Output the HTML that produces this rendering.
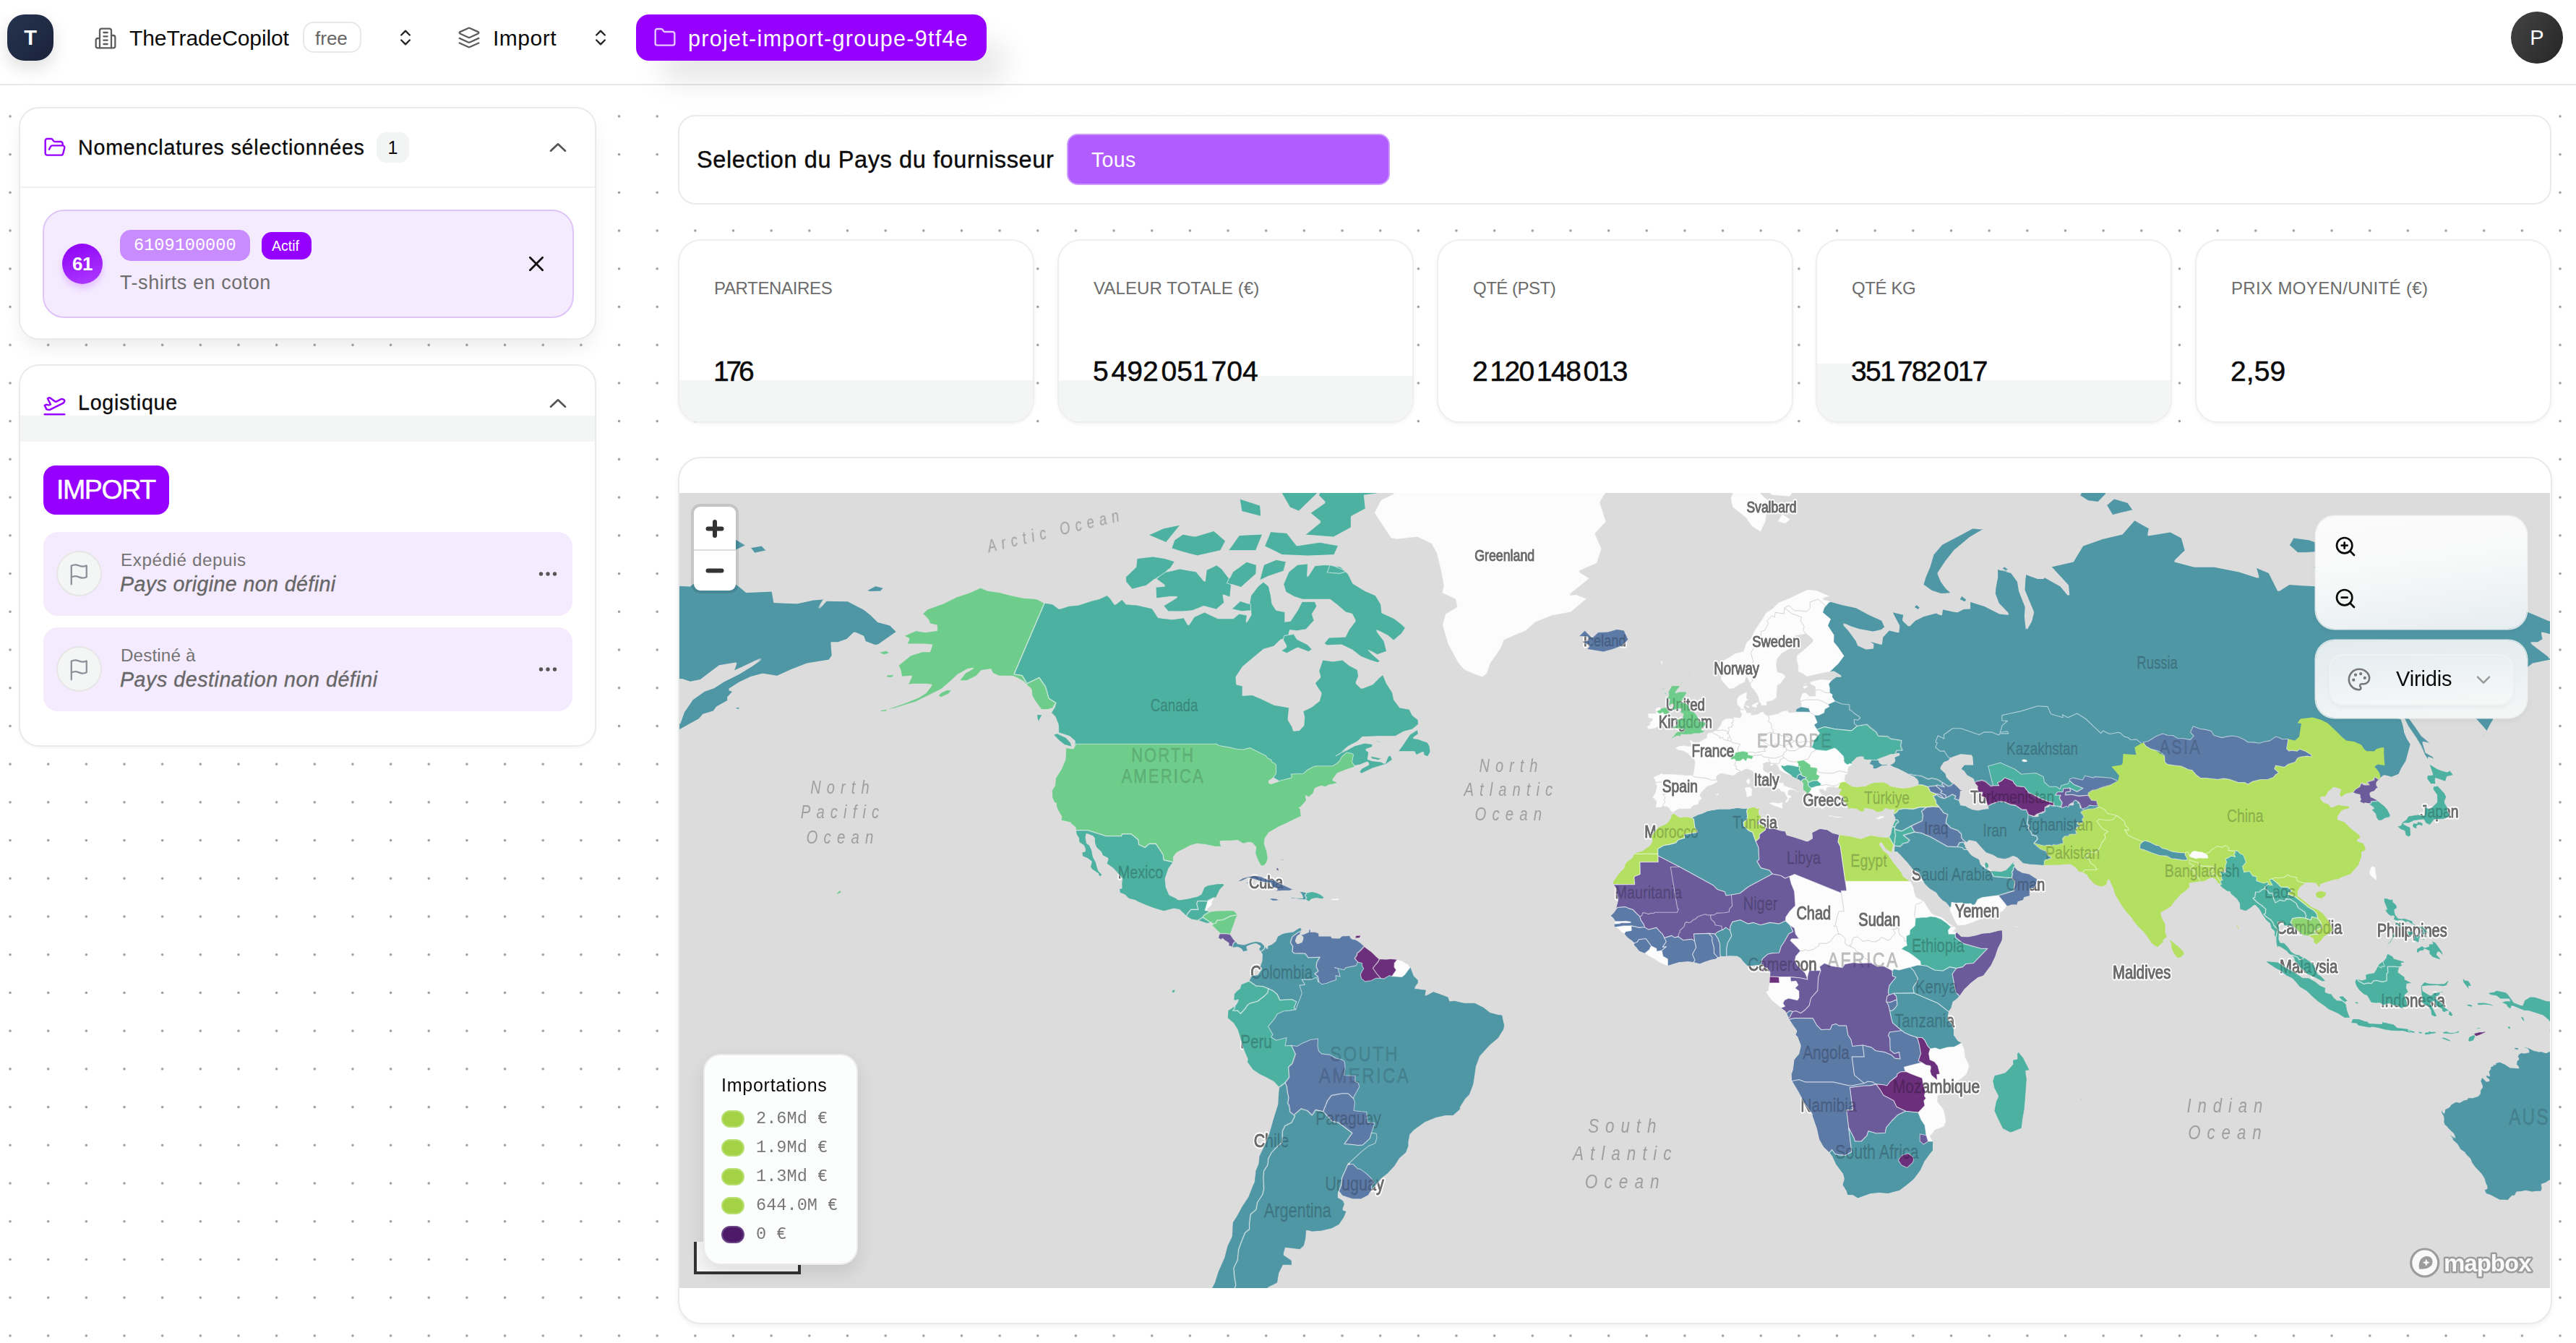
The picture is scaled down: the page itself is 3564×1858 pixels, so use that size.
<!DOCTYPE html>
<html lang="fr"><head><meta charset="utf-8"><title>TheTradeCopilot</title>
<style>
*{box-sizing:border-box;margin:0;padding:0}
html,body{width:3564px;height:1858px;overflow:hidden;background:#fff}
body{font-family:"Liberation Sans",sans-serif;color:#0a0a0a;position:relative;
 background-image:radial-gradient(circle,#999 0,#999 1.2px,rgba(153,153,153,0) 2.2px);
 background-size:52.66px 52.72px;background-position:-12.3px -23.6px}
.abs{position:absolute}
.t{position:absolute;white-space:nowrap;line-height:1}
#hdr{left:0;top:0;width:3564px;height:118px;background:#fff;border-bottom:2px solid #e6e9e9}
.card{position:absolute;background:#fff;border:2px solid #e9eaea;border-radius:28px}
.mono{font-family:"Liberation Mono",monospace}
svg{position:absolute;overflow:visible}
</style></head><body>
<!--HEADER-->
<div id="hdr" class="abs"></div>
<div class="abs" style="left:10px;top:20px;width:64px;height:64px;border-radius:24px;background:linear-gradient(135deg,#27344f,#19233a);box-shadow:0 10px 24px rgba(0,0,0,.13)"></div>
<div class="t" style="left:10px;width:64px;text-align:center;top:38px;font-size:29px;font-weight:700;color:#fff">T</div>
<svg style="left:130px;top:37px" width="32" height="32" viewBox="0 0 24 24" fill="none" stroke="#5c5c5c" stroke-width="1.7" stroke-linecap="round" stroke-linejoin="round"><path d="M6 22V4a2 2 0 0 1 2-2h8a2 2 0 0 1 2 2v18Z"/><path d="M6 12H4a2 2 0 0 0-2 2v6a2 2 0 0 0 2 2h2"/><path d="M18 9h2a2 2 0 0 1 2 2v9a2 2 0 0 1-2 2h-2"/><path d="M10 6h4"/><path d="M10 10h4"/><path d="M10 14h4"/><path d="M10 18h4"/></svg>
<div class="t" id="t_brand" style="left:179px;top:38px;font-size:30px;letter-spacing:-.1px">TheTradeCopilot</div>
<div class="abs" style="left:419px;top:30px;width:81px;height:43px;border:2px solid #e8e8e8;border-radius:15px"></div>
<div class="t" id="t_free" style="left:436px;top:40px;font-size:26px;color:#666">free</div>
<svg style="left:547px;top:38px" width="28" height="28" viewBox="0 0 24 24" fill="none" stroke="#222" stroke-width="2" stroke-linecap="round" stroke-linejoin="round"><path d="m7 15 5 5 5-5"/><path d="m7 9 5-5 5 5"/></svg>
<svg style="left:633px;top:36px" width="32" height="32" viewBox="0 0 24 24" fill="none" stroke="#5c5c5c" stroke-width="1.7" stroke-linecap="round" stroke-linejoin="round"><path d="m12.83 2.18a2 2 0 0 0-1.66 0L2.6 6.08a1 1 0 0 0 0 1.83l8.58 3.91a2 2 0 0 0 1.66 0l8.58-3.9a1 1 0 0 0 0-1.83Z"/><path d="m22 17.65-9.17 4.16a2 2 0 0 1-1.66 0L2 17.65"/><path d="m22 12.65-9.17 4.16a2 2 0 0 1-1.66 0L2 12.65"/></svg>
<div class="t" id="t_import" style="left:682px;top:38px;font-size:30px;letter-spacing:.5px">Import</div>
<svg style="left:817px;top:38px" width="28" height="28" viewBox="0 0 24 24" fill="none" stroke="#222" stroke-width="2" stroke-linecap="round" stroke-linejoin="round"><path d="m7 15 5 5 5-5"/><path d="m7 9 5-5 5 5"/></svg>
<div class="abs" style="left:880px;top:20px;width:485px;height:64px;border-radius:18px;background:#9600ff;box-shadow:30px 34px 40px -6px rgba(0,0,0,.10)"></div>
<svg style="left:904px;top:36px" width="32" height="32" viewBox="0 0 24 24" fill="none" stroke="#e6c8ff" stroke-width="1.8" stroke-linecap="round" stroke-linejoin="round"><path d="M20 20a2 2 0 0 0 2-2V8a2 2 0 0 0-2-2h-7.9a2 2 0 0 1-1.69-.9L9.6 3.9A2 2 0 0 0 7.93 3H4a2 2 0 0 0-2 2v13a2 2 0 0 0 2 2Z"/></svg>
<div class="t" id="t_proj" style="left:952px;top:38px;font-size:30.5px;letter-spacing:1.3px;color:#fff">projet-import-groupe-9tf4e</div>
<div class="abs" style="left:3474px;top:16px;width:72px;height:72px;border-radius:50%;background:linear-gradient(120deg,#444,#262626)"></div>
<div class="t" style="left:3474px;width:72px;text-align:center;top:38px;font-size:29px;color:#fff">P</div>
<!--LEFT-->
<div class="card" style="left:26px;top:148px;width:799px;height:322px;box-shadow:0 14px 30px -8px rgba(0,0,0,.10)"></div>
<svg style="left:60px;top:188px" width="32" height="32" viewBox="0 0 24 24" fill="none" stroke="#9600ff" stroke-width="1.8" stroke-linecap="round" stroke-linejoin="round"><path d="m6 14 1.5-2.9A2 2 0 0 1 9.24 10H20a2 2 0 0 1 1.94 2.5l-1.54 6a2 2 0 0 1-1.95 1.5H4a2 2 0 0 1-2-2V5a2 2 0 0 1 2-2h3.9a2 2 0 0 1 1.69.9l.81 1.2a2 2 0 0 0 1.67.9H18a2 2 0 0 1 2 2v2"/></svg>
<div class="t" id="t_nom" style="left:108px;top:190px;font-size:28.6px;letter-spacing:.8px;-webkit-text-stroke:.3px #0a0a0a">Nomenclatures sélectionnées</div>
<div class="abs" style="left:521px;top:183px;width:45px;height:42px;border-radius:14px;background:#f3f4f4"></div>
<div class="t" id="t_one" style="left:521px;width:45px;text-align:center;top:192px;font-size:25px">1</div>
<svg style="left:756px;top:188px" width="32" height="32" viewBox="0 0 24 24" fill="none" stroke="#555" stroke-width="2" stroke-linecap="round" stroke-linejoin="round"><path d="m4.5 15.5 7.5-7 7.5 7"/></svg>
<div class="abs" style="left:29px;top:258px;width:794px;height:2px;background:#efefef"></div>
<div class="abs" style="left:59px;top:290px;width:735px;height:150px;border-radius:30px;background:#f5ebff;border:2px solid #dfc4f8"></div>
<div class="abs" style="left:86px;top:337px;width:56px;height:56px;border-radius:50%;background:linear-gradient(160deg,#8d00f5,#ae3dff);box-shadow:0 6px 10px rgba(150,0,255,.18)"></div>
<div class="t" id="t_61" style="left:86px;width:56px;text-align:center;top:352px;font-size:26px;font-weight:700;color:#fff;letter-spacing:-.5px">61</div>
<div class="abs" style="left:166px;top:318px;width:180px;height:43px;border-radius:15px;background:#c98cff"></div>
<div class="t mono" id="t_code" style="left:185px;top:328px;font-size:23.6px;color:#fff">6109100000</div>
<div class="abs" style="left:362px;top:321px;width:69px;height:38px;border-radius:14px;background:#9600ff"></div>
<div class="t" id="t_actif" style="left:376px;top:331px;font-size:19.5px;color:#fff">Actif</div>
<div class="t" id="t_tshirt" style="left:166px;top:378px;font-size:27px;color:#6e6e6e;letter-spacing:.55px">T-shirts en coton</div>
<svg style="left:726px;top:349px" width="32" height="32" viewBox="0 0 24 24" fill="none" stroke="#111" stroke-width="2.1" stroke-linecap="round"><path d="M5.5 5.5l13 13M18.5 5.5l-13 13"/></svg>

<div class="card" style="left:26px;top:504px;width:799px;height:529px;overflow:hidden;box-shadow:0 2px 4px rgba(0,0,0,.04)"><div class="abs" style="left:0;top:69px;width:800px;height:36px;background:#f4f5f5"></div></div>
<svg style="left:59px;top:543px" width="33" height="33" viewBox="0 0 24 24" fill="none" stroke="#9600ff" stroke-width="1.8" stroke-linecap="round" stroke-linejoin="round"><path d="M2 22h20"/><path d="M6.36 17.4 4 17l-2-4 1.1-.55a2 2 0 0 1 1.8 0l.17.1a2 2 0 0 0 1.8 0L8 12 5 6l.9-.45a2 2 0 0 1 2.09.2l4.02 3a2 2 0 0 0 2.1.2l4.19-2.06a2.41 2.41 0 0 1 1.73-.17L21 7a1.4 1.4 0 0 1 .87 1.99l-.38.76c-.23.46-.6.84-1.07 1.08L7.58 17.2a2 2 0 0 1-1.22.18Z"/></svg>
<div class="t" id="t_log" style="left:108px;top:543px;font-size:28.6px;letter-spacing:.75px;-webkit-text-stroke:.3px #0a0a0a">Logistique</div>
<svg style="left:756px;top:542px" width="32" height="32" viewBox="0 0 24 24" fill="none" stroke="#555" stroke-width="2" stroke-linecap="round" stroke-linejoin="round"><path d="m4.5 15.5 7.5-7 7.5 7"/></svg>
<div class="abs" style="left:60px;top:644px;width:174px;height:68px;border-radius:17px;background:#9600ff"></div>
<div class="t" id="t_imp" style="left:78px;top:659px;font-size:37.5px;color:#fff;letter-spacing:-1.4px;-webkit-text-stroke:.5px #fff">IMPORT</div>
<div class="abs" style="left:60px;top:736px;width:732px;height:116px;border-radius:20px;background:#f5ebff"></div>
<div class="abs" style="left:78px;top:762px;width:63px;height:63px;border-radius:50%;background:#f4f5f5;border:2px solid #e6e6e6"></div>
<svg style="left:92px;top:776px" width="36" height="36" viewBox="0 0 24 24" fill="none" stroke="#8e8e99" stroke-width="1.5" stroke-linecap="round" stroke-linejoin="round"><path d="M4.5 21.5v-17s1.6-1 3.8-1 4.2 1.6 6.4 1.6 3.8-.8 3.8-.8v10.5s-1.6.9-3.8.9-4.2-1.6-6.4-1.6-3.8 1-3.8 1"/></svg>
<div class="t" id="t_exp" style="left:167px;top:763px;font-size:24.2px;color:#737373;letter-spacing:.6px">Expédié depuis</div>
<div class="t" id="t_orig" style="left:166px;top:794px;font-size:28.6px;font-style:italic;color:#676767;letter-spacing:.4px;-webkit-text-stroke:.35px #676767">Pays origine non défini</div>
<svg style="left:742px;top:778px" width="32" height="32" viewBox="0 0 32 32" fill="#555"><circle cx="6.5" cy="16" r="2.7"/><circle cx="16" cy="16" r="2.7"/><circle cx="25.5" cy="16" r="2.7"/></svg>
<div class="abs" style="left:60px;top:868px;width:732px;height:116px;border-radius:20px;background:#f5ebff"></div>
<div class="abs" style="left:78px;top:894px;width:63px;height:63px;border-radius:50%;background:#f4f5f5;border:2px solid #e6e6e6"></div>
<svg style="left:92px;top:908px" width="36" height="36" viewBox="0 0 24 24" fill="none" stroke="#8e8e99" stroke-width="1.5" stroke-linecap="round" stroke-linejoin="round"><path d="M4.5 21.5v-17s1.6-1 3.8-1 4.2 1.6 6.4 1.6 3.8-.8 3.8-.8v10.5s-1.6.9-3.8.9-4.2-1.6-6.4-1.6-3.8 1-3.8 1"/></svg>
<div class="t" id="t_dest" style="left:167px;top:895px;font-size:24.2px;color:#737373;letter-spacing:.15px">Destiné à</div>
<div class="t" id="t_destp" style="left:166px;top:926px;font-size:28.6px;font-style:italic;color:#676767;letter-spacing:.55px;-webkit-text-stroke:.35px #676767">Pays destination non défini</div>
<svg style="left:742px;top:910px" width="32" height="32" viewBox="0 0 32 32" fill="#555"><circle cx="6.5" cy="16" r="2.7"/><circle cx="16" cy="16" r="2.7"/><circle cx="25.5" cy="16" r="2.7"/></svg>

<!--RIGHT-->
<div class="card" style="left:938px;top:159px;width:2592px;height:124px;border-radius:24px"></div>
<div class="t" id="t_sel" style="left:964px;top:205px;font-size:32.5px;letter-spacing:.6px;-webkit-text-stroke:.4px #0a0a0a">Selection du Pays du fournisseur</div>
<div class="abs" style="left:1476px;top:185px;width:447px;height:71px;border-radius:15px;background:#b15cff;border:2px solid #cf9bff"></div>
<div class="t" id="t_tous" style="left:1510px;top:207px;font-size:28.6px;color:#fff;letter-spacing:.3px">Tous</div>
<div class="card" style="left:938px;top:331px;width:493px;height:254px;border-radius:32px;border-color:#efefef;overflow:hidden;box-shadow:0 2px 5px rgba(0,0,0,.05)"><div class="abs" style="left:0;top:193px;width:100%;height:70px;background:#f4f5f5"></div></div>
<div class="t" id="t_l0" style="left:988px;top:387px;font-size:24px;color:#6c6c6c;letter-spacing:-0.35px">PARTENAIRES</div>
<div class="t" id="t_v0" style="left:987px;top:494px;font-size:39px;letter-spacing:-4.2px;-webkit-text-stroke:.5px #0a0a0a">176</div>
<div class="card" style="left:1463px;top:331px;width:493px;height:254px;border-radius:32px;border-color:#efefef;overflow:hidden;box-shadow:0 2px 5px rgba(0,0,0,.05)"><div class="abs" style="left:0;top:193px;width:100%;height:70px;background:#f4f5f5"></div><div class="abs" style="left:68px;top:187px;width:430px;height:10px;background:#f4f5f5"></div></div>
<div class="t" id="t_l1" style="left:1513px;top:387px;font-size:24px;color:#6c6c6c;letter-spacing:0.1px">VALEUR TOTALE (€)</div>
<div class="t" id="t_v1" style="left:1512px;top:494px;font-size:39px;letter-spacing:0.0px;-webkit-text-stroke:.5px #0a0a0a">5<span style="font-size:14px;letter-spacing:0"> </span>492<span style="font-size:14px;letter-spacing:0"> </span>051<span style="font-size:14px;letter-spacing:0"> </span>704</div>
<div class="card" style="left:1988px;top:331px;width:493px;height:254px;border-radius:32px;border-color:#efefef;overflow:hidden;box-shadow:0 2px 5px rgba(0,0,0,.05)"></div>
<div class="t" id="t_l2" style="left:2038px;top:387px;font-size:24px;color:#6c6c6c;letter-spacing:-0.5px">QTÉ (PST)</div>
<div class="t" id="t_v2" style="left:2037px;top:494px;font-size:39px;letter-spacing:-1.45px;-webkit-text-stroke:.5px #0a0a0a">2<span style="font-size:14px;letter-spacing:0"> </span>120<span style="font-size:14px;letter-spacing:0"> </span>148<span style="font-size:14px;letter-spacing:0"> </span>013</div>
<div class="card" style="left:2512px;top:331px;width:493px;height:254px;border-radius:32px;border-color:#efefef;overflow:hidden;box-shadow:0 2px 5px rgba(0,0,0,.05)"><div class="abs" style="left:0;top:193px;width:100%;height:70px;background:#f4f5f5"></div><div class="abs" style="left:0;top:170px;width:52px;height:30px;background:#f4f5f5"></div></div>
<div class="t" id="t_l3" style="left:2562px;top:387px;font-size:24px;color:#6c6c6c;letter-spacing:-0.4px">QTÉ KG</div>
<div class="t" id="t_v3" style="left:2561px;top:494px;font-size:39px;letter-spacing:-1.7px;-webkit-text-stroke:.5px #0a0a0a">351<span style="font-size:14px;letter-spacing:0"> </span>782<span style="font-size:14px;letter-spacing:0"> </span>017</div>
<div class="card" style="left:3037px;top:331px;width:493px;height:254px;border-radius:32px;border-color:#efefef;overflow:hidden;box-shadow:0 2px 5px rgba(0,0,0,.05)"></div>
<div class="t" id="t_l4" style="left:3087px;top:387px;font-size:24px;color:#6c6c6c;letter-spacing:0.35px">PRIX MOYEN/UNITÉ (€)</div>
<div class="t" id="t_v4" style="left:3086px;top:494px;font-size:39px;letter-spacing:0.1px;-webkit-text-stroke:.5px #0a0a0a">2,59</div>

<!--MAP-->
<div class="card" style="left:938px;top:632px;width:2593px;height:1200px;border-radius:32px;box-shadow:0 3px 6px rgba(0,0,0,.06)"></div>
<div id="map" class="abs" style="left:940px;top:682px;width:2588px;height:1100px;background:#dcdcdc;overflow:hidden">
<svg width="2588" height="1100" viewBox="0 0 2588 1100" style="left:0;top:0;overflow:hidden"><defs><g id="r0"><path d="M960.5,27.7L983.8,63.0L992.6,64.6L1020.3,61.4L1040.0,70.8L1047.3,84.4L1053.2,108.6L1056.8,128.6L1054.2,138.8L1073.3,147.5L1075.3,157.1L1059.5,166.5L1054.9,182.4L1058.1,193.4L1062.6,209.3L1070.7,224.5L1077.3,236.4L1084.9,245.0L1100.9,252.1L1111.3,255.4L1117.7,250.7L1122.4,236.4L1129.8,226.5L1137.4,214.4L1141.5,204.0L1158.4,196.6L1171.7,191.2L1185.4,179.1L1208.3,170.0L1234.1,165.3L1256.8,146.2L1241.2,140.0L1231.7,141.3L1247.8,128.6L1260.5,118.1L1245.2,108.6L1270.1,97.5L1276.5,77.0L1267.7,56.6L1282.8,39.9L1274.2,13.0L1288.9,-10.6L1274.8,-38.8L1219.6,-75.6L1134.9,-62.7L1049.0,-50.5L998.7,-21.1L1001.9,-6.5L969.9,9.2L960.5,27.7Z"/></g><g id="r1"><path d="M505.2,151.7L517.1,153.5L525.8,160.1L538.4,155.9L551.6,154.7L569.8,148.7L580.3,146.2L591.9,140.7L596.5,145.0L602.6,154.1L612.5,146.2L618.7,153.5L634.1,154.7L654.7,159.5L663.1,172.3L681.6,174.5L698.4,172.3L704.2,182.4L711.6,171.1L726.5,164.2L746.2,173.4L765.4,173.4L773.8,166.5L785.9,168.8L784.4,179.1L790.7,167.7L788.2,153.5L790.3,141.3L800.0,128.6L808.0,122.1L815.7,128.6L818.7,141.3L820.2,152.3L826.1,161.8L838.3,164.2L838.1,177.9L844.8,176.8L854.8,161.8L860.8,149.9L879.8,149.9L882.6,157.1L875.8,167.7L878.9,176.8L867.8,189.0L854.3,191.2L844.9,190.1L842.8,198.7L831.8,204.0L823.2,212.4L809.0,216.5L792.2,230.5L779.5,241.2L770.3,255.4L771.2,264.6L779.5,266.5L779.4,279.9L793.1,279.1L805.4,284.3L823.7,293.0L844.1,296.5L842.4,313.3L848.0,322.4L850.0,328.9L857.1,328.1L863.6,320.8L864.3,310.8L862.2,301.6L874.4,295.6L885.1,287.0L887.7,277.3L881.5,268.3L878.6,262.8L886.4,254.5L884.2,246.0L889.5,230.5L904.3,232.5L917.9,230.5L927.6,238.3L938.5,244.1L940.1,253.6L936.4,262.8L943.9,270.1L958.3,264.6L968.1,254.5L973.5,250.3L978.8,262.8L986.9,275.5L988.8,285.2L997.3,296.5L1010.6,299.0L1014.4,306.7L1022.4,313.3L1022.8,320.8L1015.0,327.3L1002.7,330.5L991.3,336.9L970.4,336.9L945.8,337.7L939.1,344.0L925.9,351.1L913.5,361.1L908.1,363.8L919.2,357.3L933.2,349.5L948.0,345.6L959.6,347.2L958.8,351.9L949.9,355.0L954.3,358.1L952.7,368.0L959.4,370.3L971.9,371.8L975.8,374.1L980.3,363.4L984.6,362.7L987.1,369.5L978.4,375.6L959.7,381.2L943.5,389.0L939.7,386.0L943.4,380.8L953.5,375.6L951.9,372.5L942.7,376.3L934.7,377.8L912.6,385.3L875.4,392.6L837.2,403.6L805.5,385.3L773.5,370.3L741.2,358.8L635.4,358.8L545.2,356.5L546.5,347.2L547.0,344.0L539.1,336.9L524.2,332.1L524.0,321.6L519.9,310.8L513.5,304.1L518.6,296.5L520.9,290.4L511.1,284.3L506.6,268.3L497.7,255.4L480.9,263.7L474.1,252.6L462.9,250.7Z"/><path d="M543.4,351.9L531.9,348.7L524.9,343.3L516.3,334.5L522.1,332.1L535.3,337.7L541.8,344.8Z"/><path d="M500.5,323.2L494.8,313.3L494.3,305.8L502.9,306.7L498.2,315.0Z"/><path d="M993.1,358.1L1001.0,347.2L1009.9,333.7L1021.3,326.5L1023.1,333.7L1015.4,339.3L1022.3,340.1L1035.7,344.8L1038.5,350.3L1039.5,358.8L1035.9,365.3L1029.8,363.4L1028.9,358.8L1019.2,363.4L1016.3,358.1Z"/><path d="M956.2,363.4L972.7,366.9L967.9,370.3L956.9,368.0Z"/><path d="M959.4,340.1L978.0,346.4L965.6,344.8Z"/><path d="M966.6,235.4L954.1,231.5L941.8,226.5L930.3,217.5L915.3,210.3L895.4,211.3L890.9,208.2L897.9,199.8L920.8,198.7L926.2,187.9L934.8,176.8L930.2,167.7L921.0,165.3L910.2,155.9L899.3,147.5L880.3,147.5L861.3,147.5L849.6,143.8L838.5,137.5L835.1,126.0L842.6,108.6L854.3,98.9L870.0,97.5L868.9,115.4L878.6,100.3L894.3,98.9L915.3,101.7L925.7,111.4L932.3,124.7L949.1,135.0L963.7,141.3L971.0,153.5L972.1,165.3L990.0,173.4L1001.4,182.4L1005.3,186.8L999.4,195.5L988.1,205.1L979.5,197.7L964.6,190.1L975.2,204.0L979.2,219.5L965.2,224.5L953.3,217.5L970.5,232.5Z"/><path d="M836.6,197.7L850.3,194.4L855.1,201.9L869.7,209.3L876.6,216.5L870.5,220.5L855.5,214.4L840.4,222.5L831.5,218.5L839.6,212.4L835.0,204.0Z"/><path d="M659.3,146.2L679.1,143.8L688.6,143.8L668.7,155.9L675.5,164.2L697.8,164.2L710.9,163.0L725.5,157.1L743.2,161.8L754.3,152.3L752.4,141.3L762.1,145.0L764.3,122.1L750.9,104.5L743.4,98.9L728.9,105.9L726.9,122.1L715.6,108.6L692.2,104.5L668.7,110.0L659.2,119.4L671.6,128.6L658.7,129.9L659.3,146.2Z"/><path d="M617.2,123.4L625.9,133.7L646.6,128.6L663.7,115.4L679.9,104.5L686.3,94.6L672.5,90.3L655.1,87.4L632.6,90.3L631.5,101.7L617.1,115.4Z"/><path d="M757.3,124.7L777.4,131.2L798.1,112.7L798.8,98.9L784.6,94.6L765.2,108.6Z"/><path d="M801.8,122.1L816.0,115.4L836.4,108.6L840.0,94.6L825.3,91.8L808.1,98.9Z"/><path d="M680.1,77.0L693.8,81.5L716.3,87.4L749.2,80.0L756.5,66.2L739.9,51.7L713.2,59.8L696.2,56.6L684.4,64.6Z"/><path d="M758.3,80.0L798.0,80.0L807.5,56.6L773.9,58.2Z"/><path d="M808.8,73.9L833.0,85.9L869.3,87.4L906.4,85.9L912.4,72.4L886.1,67.7L854.7,72.4L841.0,55.0L817.4,53.3Z"/><path d="M864.2,58.2L905.7,61.4L929.5,48.4L929.8,33.0L949.7,22.3L947.7,3.4L977.6,-0.5L1004.8,-23.2L1024.5,-38.8L1044.9,-60.2L997.7,-78.3L942.1,-78.3L892.7,-57.7L873.8,-27.6L894.2,-16.8L883.5,3.4L892.9,13.0L871.7,27.7L886.6,39.9Z"/><path d="M836.5,-16.8L858.4,-34.2L888.9,-18.9L884.5,-0.5L857.4,25.9L844.1,20.4L832.1,-0.5Z"/><path d="M774.4,7.3L803.9,16.7L805.2,33.0L777.6,25.9Z"/><path d="M647.5,58.2L673.7,69.3L694.8,43.3L669.1,48.4Z"/><path d="M762.7,160.7L775.6,148.7L790.1,153.5L790.7,163.0L777.6,164.2Z"/><path d="M900.5,98.9L923.1,108.6L913.2,111.4L896.2,110.0Z"/></g><g id="r2"><path d="M505.2,151.7L494.9,146.2L476.5,145.0L459.2,141.3L442.3,136.9L427.5,135.0L416.4,130.5L401.1,137.5L382.3,143.8L365.4,152.3L342.1,160.7L335.6,167.1L344.0,175.7L346.3,181.3L356.1,183.5L356.1,190.1L340.1,192.3L326.9,190.1L309.4,197.7L317.6,201.9L313.9,209.3L336.7,209.3L349.3,210.3L346.0,219.5L334.9,219.5L319.2,224.5L302.2,238.3L305.4,245.0L307.3,254.5L321.2,253.6L315.2,265.6L325.7,264.6L339.2,264.6L348.8,265.6L340.2,276.4L330.4,282.6L313.4,289.6L296.7,295.6L278.0,301.6L298.9,298.2L315.1,293.0L327.0,289.6L344.9,280.8L362.7,271.9L373.7,262.8L385.6,251.7L399.1,244.1L406.7,242.2L394.9,248.8L386.4,260.1L398.5,260.1L411.5,253.6L418.2,246.0L430.4,244.1L433.2,249.8L441.6,253.6L455.0,253.6L461.5,254.0L467.2,256.4L475.3,261.0L482.4,268.3L485.0,270.1L486.9,273.7L487.4,280.8L491.3,287.8L495.7,293.9L500.1,299.9L510.4,299.9L516.5,298.2L520.9,290.4L511.1,284.3L506.6,268.3L497.7,255.4L480.9,263.7L474.1,252.6L462.9,250.7Z"/><path d="M2788.3,151.7L2771.2,146.2L2751.3,145.0L2729.4,141.3L2707.1,136.9L2689.9,135.0L2673.4,130.5L2666.7,137.5L2655.6,143.8L2649.2,152.3L2636.2,160.7L2637.7,167.1L2656.7,175.7L2666.0,181.3L2678.6,183.5L2686.7,190.1L2673.4,192.3L2657.5,190.1L2649.4,197.7L2662.8,201.9L2668.1,209.3L2691.0,209.3L2704.9,210.3L2713.0,219.5L2701.8,219.5L2692.3,224.5L2692.4,238.3L2703.9,245.0L2717.5,254.5L2730.2,253.6L2739.1,265.6L2748.5,264.6L2761.9,264.6L2772.7,265.6L2777.5,276.4L2775.4,282.6L2767.0,289.6L2757.8,295.6L2746.4,301.6L2763.1,298.2L2773.0,293.0L2780.6,289.6L2787.6,280.8L2794.4,271.9L2794.2,262.8L2792.3,251.7L2796.5,244.1L2801.7,242.2L2798.2,248.8L2803.5,260.1L2815.6,260.1L2820.5,253.6L2818.0,246.0L2827.8,244.1L2837.6,249.8L2850.7,253.6L2864.0,253.6L2871.1,254.0L2879.7,256.4L2893.5,261.0L2909.6,268.3L2914.5,270.1L2920.8,273.7L2930.1,280.8L2942.8,287.8L2954.6,293.9L2966.5,299.9L2976.8,299.9L2980.8,298.2L2975.6,290.4L2958.2,284.3L2933.9,268.3L2909.1,255.4L2902.5,263.7L2882.0,252.6L2868.5,250.7Z"/><path d="M360.5,276.4L369.4,271.9L377.8,272.8L373.2,278.2L361.9,283.5L357.1,280.8Z"/><path d="M278.8,299.9L289.5,299.0L286.4,302.4L276.4,303.3Z"/><path d="M253.8,312.5L264.6,307.5L264.0,310.0L254.7,313.3Z"/><path d="M242.4,315.8L252.6,310.8L249.9,313.3Z"/><path d="M200.2,322.4L210.5,319.9L208.5,322.4Z"/><path d="M181.1,325.7L187.7,323.6L185.7,326.1Z"/><path d="M273.8,220.5L286.6,217.5L292.4,221.5L282.9,224.5Z"/><path d="M286.0,251.7L297.8,250.7L295.4,255.4L286.7,255.4Z"/><path d="M534.3,351.9L544.2,353.4L549.3,347.2L545.8,347.2L743.2,347.2L746.5,349.5L760.6,351.9L770.6,354.2L780.2,355.0L789.2,352.6L811.3,363.4L813.4,366.5L819.1,369.5L819.3,371.8L825.5,375.6L825.5,388.2L822.4,392.6L821.0,395.6L816.0,398.5L815.7,400.0L818.1,402.1L829.0,398.5L846.5,394.1L847.5,392.6L846.5,390.4L846.1,389.0L863.5,388.2L867.9,383.8L876.0,379.3L880.6,377.8L903.3,377.8L908.9,374.8L913.1,371.0L916.4,365.0L923.1,359.2L929.3,360.0L932.5,361.9L930.6,372.5L932.9,375.6L935.1,379.3L923.8,383.0L910.7,388.2L905.9,394.8L904.0,397.0L910.0,399.6L909.9,402.1L904.2,403.6L899.1,404.3L894.2,407.2L888.0,405.8L881.8,407.9L879.2,410.1L877.2,416.5L870.3,421.9L866.6,418.7L868.1,425.8L860.4,434.9L857.3,435.6L859.4,436.3L860.7,447.8L852.6,451.6L841.1,457.2L830.4,462.0L823.6,466.1L816.0,470.2L810.3,479.0L809.7,485.1L812.9,494.5L814.7,505.2L812.9,511.9L809.7,515.9L804.3,516.6L800.4,509.9L798.5,505.2L796.2,498.5L797.3,490.5L791.9,484.4L787.6,483.7L779.6,485.8L771.8,481.0L760.4,481.7L751.4,481.7L748.3,482.4L749.8,488.5L750.0,490.5L747.9,489.8L741.9,489.8L734.8,488.5L726.9,486.8L716.0,485.8L708.7,487.8L698.2,493.2L688.7,497.9L684.0,503.9L683.9,510.9L670.0,507.9L669.1,500.5L663.9,492.5L659.1,485.4L650.2,485.4L644.2,490.5L635.6,486.4L634.7,479.7L625.1,471.9L612.6,471.7L611.6,474.7L590.2,474.7L565.1,466.7L547.9,466.5L547.7,463.3L541.4,458.2L541.2,456.5L536.4,455.4L527.6,453.4L528.3,448.2L522.6,438.4L520.5,432.1L521.3,430.0L518.2,428.6L515.4,422.2L514.8,411.2L519.4,403.6L520.0,394.1L527.9,381.5L533.3,368.8L533.9,364.2Z"/></g><g id="r3"><path d="M547.9,466.5L565.1,466.7L590.2,474.7L611.6,474.7L612.6,471.7L625.1,471.9L634.7,479.7L635.6,486.4L644.2,490.5L650.2,485.4L659.1,485.4L663.9,492.5L669.1,500.5L670.0,507.9L683.9,510.9L677.1,520.6L672.6,533.8L673.5,544.4L677.7,554.4L679.5,556.3L687.1,559.7L690.9,562.6L702.2,561.0L710.5,559.0L716.2,557.7L721.7,554.4L725.6,545.1L730.1,542.5L742.2,540.5L753.0,540.1L754.6,543.1L748.5,549.1L745.5,555.0L742.4,561.6L740.4,560.3L738.8,560.3L731.3,563.9L731.1,564.8L716.8,564.8L715.8,568.6L718.1,576.4L707.9,576.4L702.9,582.1L701.4,586.6L691.0,576.8L684.4,575.5L670.1,579.2L655.7,574.9L645.8,571.2L633.4,565.9L630.1,563.9L620.7,561.6L615.7,556.3L609.1,553.7L607.9,547.7L611.8,546.1L611.4,541.1L612.1,533.8L608.2,529.2L599.7,519.9L590.4,513.2L592.7,505.9L584.9,501.9L583.3,497.5L576.4,491.1L574.1,484.4L573.9,478.3L571.3,474.9L564.0,472.2L563.5,471.5L562.4,477.0L563.9,483.7L568.0,487.1L571.0,493.8L572.6,502.6L576.8,510.6L578.8,518.6L580.6,522.6L585.2,527.2L584.7,529.9L580.4,531.4L579.1,527.2L570.3,521.2L567.8,517.2L570.0,510.6L564.0,505.9L557.3,503.2L556.6,498.5L553.0,498.2L560.8,495.2L561.2,493.8L559.3,488.5L552.6,483.7L552.2,478.3L548.9,472.9Z"/><path d="M701.4,586.6L702.9,582.1L707.9,576.4L718.1,576.4L715.8,568.6L716.8,564.8L731.1,564.8L727.5,577.5L729.9,577.5L734.7,578.7L725.9,584.1L723.9,587.3L721.6,588.8L716.9,591.8L707.8,590.4Z"/></g><g id="r4"><path d="M738.8,560.3L739.7,563.0L737.2,566.9L737.0,570.9L729.9,577.5L727.5,577.5L731.1,564.8L736.0,562.3Z"/></g><g id="r5"><path d="M734.7,578.7L740.7,577.8L752.5,577.5L760.4,577.0L768.1,577.8L773.4,583.5L762.4,585.5L751.7,590.8L743.7,591.4L742.5,594.7L737.7,596.7L735.2,594.1L734.4,594.1L729.7,590.8L723.9,587.3L725.9,584.1Z"/></g><g id="r6"><path d="M716.9,591.8L721.6,588.8L723.9,587.3L729.7,590.8L734.4,594.1L733.6,595.7L728.5,595.7L722.7,593.8Z"/></g><g id="r7"><path d="M773.4,583.5L769.9,590.1L767.5,597.4L765.3,603.4L762.9,610.5L755.1,609.7L747.2,609.6L742.1,604.7L737.1,599.4L734.4,597.4L737.7,596.7L742.5,594.7L743.7,591.4L751.7,590.8L762.4,585.5Z"/></g><g id="r8"><path d="M747.2,609.6L755.1,609.7L762.9,610.5L767.0,616.7L769.8,619.6L766.3,623.4L764.8,629.8L762.2,627.5L759.0,627.1L759.9,623.4L753.7,619.4L751.1,616.7L749.7,619.4L744.9,616.1L746.2,610.7Z"/></g><g id="r9"><path d="M769.8,619.6L773.4,623.4L781.2,624.4L789.8,621.4L798.1,619.7L805.7,621.4L810.0,625.7L809.3,630.8L803.5,635.4L800.7,630.2L803.6,627.5L797.2,623.8L791.3,625.4L785.1,628.1L787.2,633.5L779.5,635.5L777.2,631.5L772.2,628.8L764.8,629.8L766.3,623.4Z"/></g><g id="r10"><path d="M770.0,538.1L778.5,532.5L786.6,530.5L791.5,529.5L800.6,529.5L805.8,530.5L814.1,534.5L823.9,535.2L829.2,539.1L837.7,542.5L844.7,545.8L850.7,548.7L844.5,550.7L836.0,550.7L822.8,551.4L827.4,547.7L820.1,545.8L817.5,539.8L807.8,538.8L800.5,536.8L793.4,534.5L787.6,532.8L781.6,535.8L777.4,537.5Z"/><path d="M784.2,537.8L787.8,538.8L786.6,540.8L783.6,540.5Z"/><path d="M815.7,561.3L819.4,560.3L827.0,561.0L831.9,563.6L826.2,564.6L820.0,564.6L815.5,562.3Z"/></g><g id="r11"><path d="M845.9,561.3L853.9,562.0L858.4,562.6L866.4,563.4L867.5,559.7L865.7,557.0L868.5,552.4L860.6,551.1L856.0,551.4L859.9,555.0L862.4,560.0L853.5,560.0L846.3,559.3Z"/></g><g id="r12"><path d="M868.5,552.4L875.3,551.1L882.7,552.7L887.7,555.0L893.4,559.7L890.3,562.3L881.2,561.0L875.5,562.3L870.9,566.3L866.4,563.4L867.5,559.7L865.7,557.0Z"/></g><g id="r13"><path d="M901.7,561.3L911.5,560.3L914.4,561.6L911.7,563.9L901.6,563.9Z"/></g><g id="r14"><path d="M935.2,612.1L943.3,611.4L941.8,616.1L934.6,616.4Z"/></g><g id="r15"><path d="M826.3,516.6L829.5,519.2L829.3,523.9L825.2,521.9Z"/><path d="M831.6,505.9L837.3,507.2L835.4,509.2L829.8,506.9Z"/></g><g id="r16"><path d="M1011.7,654.5L1016.7,667.6L1022.5,673.1L1022.7,678.6L1017.9,684.9L1034.0,687.0L1032.4,694.7L1042.8,689.1L1053.1,692.6L1064.2,696.8L1066.1,702.5L1072.7,701.8L1086.5,705.0L1101.3,705.0L1113.2,711.0L1122.6,718.2L1133.2,721.1L1139.0,721.8L1140.9,731.3L1142.2,736.0L1140.9,743.0L1133.5,755.0L1121.8,764.8L1108.0,780.1L1102.7,794.2L1100.8,807.8L1099.0,819.2L1093.6,833.2L1087.9,839.1L1080.9,850.2L1080.6,853.6L1071.1,861.9L1060.6,861.9L1047.1,864.9L1032.4,871.1L1017.2,881.9L1011.2,888.3L1009.2,898.4L1009.4,904.0L1005.7,913.5L996.8,921.2L990.1,932.0L980.8,941.9L971.8,949.0L958.0,965.0L945.1,952.1L929.0,936.9L923.4,912.5L940.1,889.2L939.4,862.3L916.8,836.6L903.3,811.8L882.7,780.1L850.1,772.4L826.2,764.8L809.5,742.3L819.4,713.2L848.9,688.4L857.3,673.8L881.3,666.9L893.9,664.1L920.4,650.5L945.6,643.7L968.3,653.9L988.0,657.3L1003.5,655.9Z"/></g><g id="r17"><path d="M1011.2,655.9L1008.9,651.1L1006.6,650.8L1001.4,647.1L993.6,645.0L989.3,650.5L989.0,655.9L991.7,660.0L985.7,668.7L992.2,669.0L999.4,669.6L1003.0,666.9Z"/></g><g id="r18"><path d="M993.6,645.0L984.1,644.0L977.6,644.7L968.8,644.3L966.6,648.4L962.7,653.2L959.3,657.3L962.3,661.7L965.0,665.5L970.1,671.4L974.7,672.1L982.6,667.6L985.7,668.7L991.7,660.0L989.0,655.9L989.3,650.5Z"/><path d="M968.8,644.3L965.2,641.3L958.9,634.9L949.5,628.1L948.1,626.5L941.5,633.5L937.4,636.9L937.5,638.9L934.3,644.0L938.7,649.1L944.6,650.5L944.5,653.9L946.7,658.0L944.6,661.4L942.2,666.2L943.8,672.1L948.9,675.9L957.3,674.5L963.4,671.4L970.1,671.4L965.0,665.5L962.3,661.7L959.3,657.3L962.7,653.2L966.6,648.4Z"/></g><g id="r19"><path d="M948.1,626.5L942.5,621.4L936.7,617.7L931.3,616.7L927.9,613.4L935.2,612.1L926.5,612.1L916.2,612.4L912.4,615.7L903.8,615.4L901.8,612.7L894.7,612.7L885.2,612.7L885.1,608.7L879.9,606.7L873.6,607.1L873.3,602.1L870.1,604.4L870.5,606.7L863.5,610.1L860.7,610.4L858.7,610.4L862.0,604.4L854.2,609.1L847.7,614.1L845.3,622.1L848.7,627.5L847.8,634.2L850.5,636.9L865.6,637.2L870.2,643.0L886.0,642.3L882.1,648.4L880.9,655.2L883.9,661.4L878.8,665.2L883.4,669.0L884.8,676.4L888.8,679.7L895.6,678.3L900.0,676.6L908.6,673.4L907.9,667.6L914.2,669.0L911.1,658.0L906.5,656.6L919.7,659.7L921.8,656.9L936.0,653.9L938.7,649.1L934.3,644.0L937.5,638.9L937.4,636.9L941.5,633.5Z"/></g><g id="r20"><path d="M862.0,604.4L859.8,600.4L855.5,602.1L848.3,606.7L838.6,608.1L833.2,609.4L827.3,612.7L824.4,619.4L818.7,624.1L813.5,626.1L813.4,630.5L810.0,625.7L809.3,630.8L803.5,635.4L806.0,638.9L805.7,646.4L802.5,655.9L805.3,658.0L799.5,666.2L791.1,667.6L788.4,672.4L787.5,675.0L793.6,679.0L797.8,682.1L806.7,682.5L814.2,685.6L815.0,685.7L821.7,689.1L827.3,694.0L830.7,701.8L839.1,701.1L847.4,700.7L853.8,703.9L850.2,712.1L852.7,714.6L861.2,692.6L860.3,688.4L858.0,681.1L865.5,680.4L861.1,673.1L874.9,673.1L881.6,670.0L883.7,676.6L884.8,676.4L883.4,669.0L878.8,665.2L883.9,661.4L880.9,655.2L882.1,648.4L886.0,642.3L870.2,643.0L865.6,637.2L850.5,636.9L847.8,634.2L848.7,627.5L845.3,622.1L847.7,614.1L854.2,609.1Z"/></g><g id="r21"><path d="M787.5,675.0L776.8,679.3L775.1,684.9L771.3,687.7L767.0,692.3L766.7,699.0L764.4,700.4L769.5,703.2L773.3,701.1L770.5,706.1L768.3,708.9L768.2,713.2L765.5,716.1L772.4,716.4L776.5,720.4L783.0,713.2L785.6,708.9L789.5,706.1L800.0,703.2L809.7,695.8L813.9,691.6L815.0,685.7L814.2,685.6L806.7,682.5L797.8,682.1L793.6,679.0Z"/><path d="M768.3,708.9L758.6,715.3L757.7,726.9L766.1,734.2L771.7,743.0L775.7,755.7L778.7,765.5L781.0,772.8L785.9,784.0L784.4,787.1L792.4,798.2L801.4,804.6L811.7,809.4L821.8,815.1L828.9,822.8L838.0,815.9L843.6,808.6L843.2,801.4L842.8,794.2L847.9,789.5L852.4,776.3L846.9,764.4L838.0,764.8L840.1,753.5L825.9,757.2L818.4,752.7L821.1,749.4L814.6,737.9L817.8,734.2L823.2,727.6L827.0,721.1L836.1,716.8L844.1,716.1L852.7,714.6L850.2,712.1L853.8,703.9L847.4,700.7L839.1,701.1L830.7,701.8L827.3,694.0L821.7,689.1L815.0,685.7L813.9,691.6L809.7,695.8L800.0,703.2L789.5,706.1L785.6,708.9L783.0,713.2L776.5,720.4L772.4,716.4L765.5,716.1L768.2,713.2Z"/></g><g id="r22"><path d="M838.0,815.9L843.6,808.6L843.2,801.4L842.8,794.2L847.9,789.5L852.4,776.3L846.9,764.4L854.7,765.5L860.4,762.1L873.2,756.5L883.6,755.0L882.9,764.0L884.2,771.7L888.5,775.9L900.2,777.4L908.0,781.7L916.2,784.0L920.1,786.4L921.2,795.8L919.7,805.8L935.1,806.2L934.8,814.3L939.3,816.3L940.7,821.6L937.1,828.2L933.2,834.9L932.6,838.0L925.5,831.1L917.7,830.7L902.1,833.6L896.5,841.2L890.8,855.8L880.2,853.6L875.4,861.0L868.6,854.5L860.3,851.9L850.2,860.6L844.7,856.2L843.6,847.6L841.6,844.2L842.9,836.6L841.0,828.2L840.4,821.6Z"/><path d="M890.8,855.8L896.5,841.2L902.1,833.6L917.7,830.7L925.5,831.1L932.6,838.0L934.6,842.9L933.0,854.5L942.9,855.8L950.7,856.2L951.4,864.1L952.3,870.7L961.9,871.6L957.4,885.4L955.6,892.9L945.4,902.1L939.1,902.6L928.6,901.2L919.8,900.7L930.8,885.5L921.2,878.3L911.7,871.1L903.1,869.4Z"/><path d="M958.0,965.0L957.5,958.2L962.1,954.1L957.0,948.0L950.1,941.4L941.9,935.4L938.3,934.9L932.0,928.5L924.7,929.0L921.3,936.9L916.7,947.0L915.7,957.2L912.1,966.6L916.3,972.4L923.7,975.1L930.8,977.2L941.8,977.2L942.1,978.0L949.5,974.5L953.9,971.9Z"/></g><g id="r23"><path d="M912.1,966.6L911.5,974.0L918.7,978.3L921.1,983.7L918.2,991.4L923.9,993.6L919.7,1003.6L913.4,1012.7L903.8,1017.9L889.3,1021.4L875.1,1022.6L867.9,1020.8L867.0,1032.7L864.6,1042.3L859.1,1047.2L838.8,1044.7L836.4,1053.4L847.4,1060.9L848.0,1069.1L835.8,1068.5L830.0,1080.2L827.8,1093.5L811.1,1101.6L802.4,1112.7L810.6,1126.9L815.4,1138.5L752.1,1138.5L761.1,1119.7L764.9,1107.1L769.8,1096.2L768.0,1085.4L766.7,1072.4L772.2,1060.9L773.4,1047.2L777.3,1036.2L782.6,1023.2L788.6,1018.5L788.5,1011.6L790.1,998.0L797.8,991.4L799.6,981.5L806.6,970.8L808.6,962.4L808.1,955.1L807.8,947.0L808.6,937.9L813.7,930.0L815.0,920.2L819.1,912.5L825.2,905.9L833.7,898.4L834.1,891.0L834.3,882.8L837.7,875.6L846.9,871.1L851.5,862.3L850.2,860.6L860.3,851.9L868.6,854.5L875.4,861.0L880.2,853.6L890.8,855.8L903.1,869.4L911.7,871.1L921.2,878.3L930.8,885.5L919.8,900.7L928.6,901.2L939.1,902.6L945.4,902.1L955.6,892.9L957.4,885.4L964.0,886.0L965.1,891.5L962.7,899.8L953.3,903.6L943.3,911.6L924.7,929.0L921.3,936.9L916.7,947.0L915.7,957.2Z"/><path d="M829.1,822.8L828.1,832.4L827.5,845.0L821.0,865.8L815.9,883.7L810.5,898.4L801.8,916.4L800.7,927.0L796.6,936.9L795.1,952.1L792.6,957.7L786.6,972.9L777.4,987.0L770.3,1000.3L765.0,1008.2L763.9,1027.9L757.6,1041.1L753.5,1057.1L745.0,1076.3L740.0,1092.1L724.5,1121.1L725.9,1138.5L752.1,1138.5L761.1,1119.7L764.9,1107.1L769.8,1096.2L768.0,1085.4L766.7,1072.4L772.2,1060.9L773.4,1047.2L777.3,1036.2L782.6,1023.2L788.6,1018.5L788.5,1011.6L790.1,998.0L797.8,991.4L799.6,981.5L806.6,970.8L808.6,962.4L808.1,955.1L807.8,947.0L808.6,937.9L813.7,930.0L815.0,920.2L819.1,912.5L825.2,905.9L833.7,898.4L834.1,891.0L834.3,882.8L837.7,875.6L846.9,871.1L851.5,862.3L850.2,860.6L844.7,856.2L843.6,847.6L841.6,844.2L842.9,836.6L841.0,828.2L840.4,821.6L838.0,815.9Z"/></g><g id="r24"><path d="M681.4,687.0L687.2,687.0L685.1,691.9L681.1,691.6Z"/></g><g id="r25"><path d="M858.9,611.4L862.5,615.4L860.7,620.8L855.5,623.1L853.0,619.4L855.2,614.1L858.1,611.7Z"/></g><g id="r26"><path d="M1372.8,444.0L1377.1,443.3L1384.0,448.5L1394.2,447.5L1400.2,448.9L1408.8,444.7L1413.9,443.3L1422.4,439.5L1437.7,437.0L1452.3,437.0L1463.2,435.3L1472.8,436.3L1478.6,436.0L1487.1,433.5L1491.1,436.3L1496.8,435.3L1493.6,439.8L1494.0,444.0L1498.0,448.2L1496.1,451.3L1491.4,456.5L1491.2,457.5L1497.5,458.5L1502.7,462.2L1510.0,464.4L1515.1,464.0L1523.6,466.7L1530.4,467.8L1532.4,472.9L1541.7,475.6L1552.5,479.0L1560.3,481.7L1567.3,477.6L1566.6,469.5L1577.4,464.0L1588.8,465.7L1596.1,470.2L1605.0,472.5L1620.5,474.6L1634.5,478.0L1640.8,475.6L1648.2,473.2L1658.6,474.9L1662.0,484.1L1660.9,486.4L1666.4,494.5L1672.0,498.5L1675.5,503.9L1679.6,509.9L1686.4,518.6L1691.3,524.6L1693.9,530.5L1704.3,537.2L1707.8,543.8L1709.5,553.0L1712.2,559.0L1722.0,563.6L1729.2,574.9L1732.0,579.5L1737.1,583.5L1747.0,586.1L1758.3,595.4L1764.5,598.7L1767.8,603.4L1762.1,606.4L1767.3,606.9L1774.6,613.4L1782.6,613.7L1794.0,611.4L1801.4,609.1L1813.0,608.1L1824.2,605.1L1830.3,604.5L1831.0,613.7L1830.1,620.1L1824.6,630.8L1820.8,642.3L1815.3,653.9L1804.7,668.3L1797.5,670.7L1788.1,677.9L1778.1,687.4L1771.8,696.5L1767.4,701.1L1762.3,704.6L1759.9,713.6L1756.6,718.1L1755.1,727.6L1760.4,733.5L1763.8,742.3L1763.4,749.0L1769.2,757.2L1774.9,760.6L1778.2,768.6L1779.4,779.4L1784.6,790.3L1784.8,795.8L1781.1,805.4L1772.2,812.6L1757.0,819.2L1751.6,827.4L1741.3,835.3L1741.1,841.6L1747.7,849.3L1750.4,854.5L1753.2,870.2L1750.1,877.4L1737.6,881.9L1733.4,888.3L1730.8,888.9L1734.9,897.0L1734.5,910.6L1730.4,915.4L1723.1,925.6L1717.4,937.9L1708.4,950.0L1700.4,956.7L1688.9,965.5L1680.6,967.6L1673.1,969.8L1660.1,968.7L1648.8,969.8L1630.0,976.5L1623.0,971.9L1618.4,971.9L1615.5,971.4L1614.1,966.6L1608.5,957.2L1611.1,949.0L1609.5,942.9L1599.8,930.0L1594.4,918.3L1590.5,913.3L1582.7,905.9L1576.6,895.2L1573.2,880.1L1566.9,861.9L1567.1,859.7L1555.8,844.2L1547.2,828.2L1538.5,813.8L1537.9,803.8L1540.2,797.0L1541.9,783.2L1548.7,775.1L1551.0,764.8L1546.4,752.7L1542.7,749.7L1544.2,748.2L1545.5,744.5L1540.2,737.1L1534.7,728.4L1533.6,725.8L1531.4,720.4L1529.5,717.5L1523.2,712.8L1513.5,705.3L1509.8,701.8L1504.2,694.0L1501.4,689.8L1506.1,687.7L1506.4,682.1L1507.7,677.9L1508.1,669.0L1508.9,664.1L1505.1,658.0L1500.1,656.6L1499.5,653.5L1496.5,652.2L1495.0,653.5L1484.6,654.5L1477.4,655.2L1471.3,649.1L1467.7,644.3L1462.7,641.3L1454.6,641.0L1449.0,641.2L1440.5,642.1L1437.1,643.0L1435.2,645.0L1427.7,646.4L1419.8,649.1L1411.9,652.2L1402.9,649.8L1395.6,648.8L1383.6,649.8L1374.8,652.5L1367.4,654.8L1366.0,654.8L1355.4,650.5L1347.2,644.7L1340.7,641.6L1335.0,637.4L1327.0,634.2L1322.9,628.8L1320.5,626.8L1320.4,623.1L1317.2,620.1L1310.8,615.4L1306.8,610.4L1302.1,608.1L1298.9,604.1L1293.4,601.1L1292.6,596.3L1294.2,592.8L1290.3,587.4L1286.9,585.1L1291.0,581.5L1294.9,576.5L1297.3,566.9L1298.4,563.0L1297.3,556.3L1294.9,554.4L1296.5,549.1L1291.5,541.6L1291.1,537.2L1296.5,529.9L1299.1,525.9L1306.3,518.6L1307.4,514.6L1310.1,509.9L1318.3,503.9L1320.0,499.4L1322.0,497.5L1332.5,494.5L1335.5,491.8L1342.1,487.8L1345.7,481.0L1344.5,477.0L1344.8,473.6L1348.8,468.1L1354.2,461.6L1360.7,459.2L1366.2,456.1L1370.1,450.9Z"/></g><g id="r27"><path d="M1291.5,541.6L1291.1,537.2L1296.5,529.9L1299.1,525.9L1306.3,518.6L1307.4,514.6L1310.1,509.9L1318.3,503.9L1320.0,499.4L1322.0,497.5L1332.5,494.5L1335.5,491.8L1342.1,487.8L1345.7,481.0L1344.5,477.0L1344.8,473.6L1348.8,468.1L1354.2,461.6L1360.7,459.2L1366.2,456.1L1370.1,450.9L1372.8,444.0L1377.1,443.3L1384.0,448.5L1394.2,447.5L1400.2,448.9L1403.6,451.3L1404.4,458.5L1404.9,462.6L1408.5,467.4L1408.6,469.5L1396.1,471.5L1390.6,472.5L1390.8,477.3L1381.6,480.3L1378.7,484.1L1369.8,486.4L1361.6,487.8L1353.7,492.5L1353.9,499.4L1354.0,501.9L1354.2,510.6L1329.0,510.6L1329.3,527.5L1321.7,530.5L1320.9,532.2L1321.8,541.6Z"/></g><g id="r28"><path d="M1400.2,448.9L1408.8,444.7L1413.9,443.3L1422.4,439.5L1437.7,437.0L1452.3,437.0L1463.2,435.3L1472.8,436.3L1478.6,436.0L1476.7,439.8L1477.7,447.5L1477.0,452.0L1472.2,455.8L1472.9,460.6L1479.0,466.7L1484.8,469.5L1489.3,482.0L1493.1,490.5L1493.2,495.9L1493.8,507.2L1491.0,509.6L1496.4,518.6L1508.1,521.9L1512.3,527.1L1479.2,544.8L1467.2,554.0L1455.4,556.0L1448.1,557.0L1446.2,551.7L1435.9,548.4L1430.6,543.1L1383.6,517.2L1354.0,501.9L1353.9,499.4L1353.7,492.5L1361.6,487.8L1369.8,486.4L1378.7,484.1L1381.6,480.3L1390.8,477.3L1390.6,472.5L1396.1,471.5L1408.6,469.5L1408.5,467.4L1404.9,462.6L1404.4,458.5L1403.6,451.3Z"/></g><g id="r29"><path d="M1478.6,436.0L1487.1,433.5L1491.1,436.3L1496.8,435.3L1493.6,439.8L1494.0,444.0L1498.0,448.2L1496.1,451.3L1491.4,456.5L1491.2,457.5L1497.5,458.5L1502.7,462.2L1502.7,466.1L1494.4,472.2L1494.1,477.6L1489.3,482.0L1484.8,469.5L1479.0,466.7L1472.9,460.6L1472.2,455.8L1477.0,452.0L1477.7,447.5L1476.7,439.8Z"/></g><g id="r30"><path d="M1502.7,462.2L1510.0,464.4L1515.1,464.0L1523.6,466.7L1530.4,467.8L1532.4,472.9L1541.7,475.6L1552.5,479.0L1560.3,481.7L1567.3,477.6L1566.6,469.5L1577.4,464.0L1588.8,465.7L1596.1,470.2L1605.0,472.5L1603.6,479.0L1603.0,482.7L1606.2,488.8L1613.1,537.2L1615.0,550.4L1607.3,550.4L1607.7,553.7L1542.9,527.5L1535.7,530.5L1529.9,533.2L1524.1,529.5L1512.3,527.1L1508.1,521.9L1496.4,518.6L1491.0,509.6L1493.8,507.2L1493.2,495.9L1493.1,490.5L1489.3,482.0L1494.1,477.6L1494.4,472.2L1502.7,466.1Z"/></g><g id="r31"><path d="M1605.0,472.5L1620.5,474.6L1634.5,478.0L1640.8,475.6L1648.2,473.2L1658.6,474.9L1670.0,476.3L1673.1,474.9L1680.1,487.1L1678.2,495.2L1677.7,498.9L1671.8,495.2L1668.4,493.2L1662.4,484.1L1662.0,484.1L1660.9,486.4L1666.4,494.5L1672.0,498.5L1675.5,503.9L1679.6,509.9L1686.4,518.6L1691.3,524.6L1693.9,530.5L1704.3,537.2L1613.1,537.2L1606.2,488.8L1603.0,482.7L1603.6,479.0Z"/></g><g id="r32"><path d="M1294.9,576.5L1297.3,566.9L1298.4,563.0L1297.3,556.3L1294.9,554.4L1296.5,549.1L1291.5,541.6L1321.8,541.6L1320.9,532.2L1321.7,530.5L1329.3,527.5L1329.0,510.6L1354.2,510.6L1354.0,501.9L1383.6,517.2L1430.6,543.1L1435.9,548.4L1446.2,551.7L1448.1,557.0L1455.4,556.0L1467.2,554.0L1479.2,544.8L1512.3,527.1L1524.1,529.5L1529.9,533.2L1535.7,530.5L1538.3,540.5L1542.6,551.1L1544.0,570.9L1536.3,578.8L1530.8,586.8L1530.4,592.1L1521.6,596.1L1508.8,594.4L1495.8,597.7L1486.0,594.4L1478.3,596.1L1467.7,590.8L1456.9,593.4L1453.8,600.1L1453.8,605.4L1447.5,601.1L1444.2,604.1L1436.9,607.1L1432.7,610.1L1424.4,609.4L1403.4,610.1L1404.7,620.1L1400.6,617.4L1388.7,618.7L1382.0,613.9L1376.7,615.1L1373.0,612.4L1362.7,615.6L1359.9,610.1L1355.8,606.1L1351.7,601.4L1340.8,604.1L1335.2,600.7L1334.3,597.1L1330.3,591.4L1328.6,585.8L1323.9,581.5L1319.1,576.5L1313.7,574.9L1309.7,572.9L1305.9,572.9L1298.1,573.5Z"/></g><g id="r33"><path d="M1293.4,601.1L1292.6,596.3L1294.2,592.8L1290.3,587.4L1286.9,585.1L1291.0,581.5L1294.9,576.5L1298.1,573.5L1305.9,572.9L1309.7,572.9L1313.7,574.9L1319.1,576.5L1323.9,581.5L1328.6,585.8L1330.3,591.4L1334.3,597.1L1335.2,600.7L1328.1,601.4L1317.0,598.9L1306.8,598.9Z"/></g><g id="r34"><path d="M1292.6,596.3L1300.5,595.7L1303.6,594.4L1310.7,594.7L1315.8,594.4L1316.2,593.4L1309.1,592.4L1302.8,592.8L1294.2,592.8Z"/></g><g id="r35"><path d="M1320.4,623.1L1317.2,620.1L1310.8,615.4L1306.8,610.4L1309.2,606.7L1317.1,605.4L1317.0,598.9L1328.1,601.4L1335.2,600.7L1340.8,604.1L1351.7,601.4L1355.8,606.1L1359.9,610.1L1362.7,615.6L1365.4,620.8L1360.4,628.1L1365.6,627.5L1359.2,633.1L1352.2,634.2L1351.7,630.2L1344.4,626.8L1341.9,623.1L1337.0,616.7L1327.5,617.7L1325.2,621.4Z"/><path d="M1335.0,637.4L1327.0,634.2L1322.9,628.8L1320.5,626.8L1320.4,623.1L1325.2,621.4L1327.5,617.7L1337.0,616.7L1341.9,623.1L1344.4,626.8L1342.1,631.8Z"/><path d="M1402.9,649.8L1395.6,648.8L1383.6,649.8L1374.8,652.5L1367.4,654.8L1367.3,644.7L1360.8,641.0L1359.2,633.1L1365.6,627.5L1360.4,628.1L1365.4,620.8L1362.7,615.6L1373.0,612.4L1376.7,615.1L1382.0,613.9L1388.7,618.7L1400.6,617.4L1404.7,620.1L1406.7,628.8L1401.6,638.2L1405.1,646.4Z"/><path d="M1437.1,643.0L1435.2,645.0L1427.7,646.4L1419.8,649.1L1411.9,652.2L1402.9,649.8L1405.1,646.4L1401.6,638.2L1406.7,628.8L1404.7,620.1L1403.4,610.1L1424.4,609.4L1429.0,614.7L1428.9,620.1L1431.4,628.8L1431.5,636.9Z"/><path d="M1440.5,642.1L1437.1,643.0L1431.5,636.9L1431.4,628.8L1428.9,620.1L1429.0,614.7L1424.4,609.4L1432.7,610.1L1437.1,616.7L1439.5,623.4L1440.0,637.6Z"/></g><g id="r36"><path d="M1449.0,641.2L1440.5,642.1L1440.0,637.6L1439.5,623.4L1437.1,616.7L1432.7,610.1L1436.9,607.1L1444.2,604.1L1447.5,601.1L1453.8,605.4L1455.9,612.7L1450.2,622.8L1448.7,630.8Z"/><path d="M1496.5,652.2L1495.0,653.5L1484.6,654.5L1477.4,655.2L1471.3,649.1L1467.7,644.3L1462.7,641.3L1454.6,641.0L1449.0,641.2L1448.7,630.8L1450.2,622.8L1455.9,612.7L1453.8,605.4L1453.8,600.1L1456.9,593.4L1467.7,590.8L1478.3,596.1L1486.0,594.4L1495.8,597.7L1508.8,594.4L1521.6,596.1L1530.4,592.1L1536.7,598.1L1540.8,606.7L1534.8,610.1L1528.8,620.8L1524.3,627.5L1521.6,636.2L1512.0,636.6L1505.7,638.2L1498.3,644.7Z"/></g><g id="r37"><path d="M1508.1,669.0L1508.9,664.1L1505.1,658.0L1500.1,656.6L1499.5,653.5L1496.5,652.2L1498.3,644.7L1505.7,638.2L1512.0,636.6L1521.6,636.2L1524.3,627.5L1528.8,620.8L1534.8,610.1L1540.8,606.7L1536.7,598.1L1542.7,602.1L1544.3,610.1L1549.0,616.7L1538.7,616.7L1537.0,619.1L1548.1,630.2L1550.9,633.5L1544.5,641.0L1543.5,647.1L1546.6,653.2L1557.5,664.1L1559.7,669.6L1560.9,673.1L1551.0,671.0L1537.0,669.6L1521.2,669.6Z"/></g><g id="r38"><path d="M1507.7,677.9L1508.1,669.0L1521.2,669.6L1522.0,677.9Z"/><path d="M1496.7,659.0L1500.7,659.0L1500.6,662.4L1497.4,662.1Z"/></g><g id="r39"><path d="M1531.4,720.4L1529.5,717.5L1523.2,712.8L1529.6,710.3L1526.7,706.1L1528.8,701.8L1534.3,699.0L1546.9,701.8L1549.0,698.3L1548.8,689.1L1543.5,684.9L1547.9,680.7L1544.9,675.2L1537.6,675.9L1537.0,669.6L1551.0,671.0L1560.9,673.1L1560.6,669.6L1562.8,660.7L1579.0,660.7L1576.0,669.6L1575.3,677.9L1574.9,688.4L1565.5,699.0L1563.3,708.9L1557.4,715.3L1551.3,719.7L1545.2,716.8L1540.3,717.5L1536.0,716.4Z"/></g><g id="r40"><path d="M1533.6,725.8L1531.4,720.4L1536.0,716.4L1540.3,717.5L1536.1,725.5Z"/></g><g id="r41"><path d="M1534.7,728.4L1533.6,725.8L1536.1,725.5L1540.3,717.5L1540.3,717.5L1545.2,716.8L1551.3,719.7L1557.4,715.3L1563.3,708.9L1565.5,699.0L1574.9,688.4L1575.3,677.9L1576.0,669.6L1579.0,660.7L1577.5,655.2L1584.2,650.5L1594.4,654.5L1609.2,656.6L1612.5,651.8L1624.3,649.8L1631.7,650.5L1648.5,650.0L1657.4,655.2L1666.2,654.5L1678.1,660.7L1678.5,668.3L1683.2,670.0L1677.8,676.6L1674.1,681.4L1672.5,689.1L1673.3,694.6L1670.8,696.5L1669.9,703.9L1670.3,704.3L1672.6,708.2L1674.7,716.4L1676.8,726.9L1678.6,733.1L1691.2,743.8L1691.2,743.8L1687.5,744.2L1674.4,746.0L1672.6,750.9L1674.8,754.2L1675.0,763.3L1675.3,770.9L1681.1,775.5L1687.6,773.6L1689.1,783.2L1681.3,782.1L1677.2,777.8L1667.2,773.6L1655.1,771.7L1649.3,767.1L1637.1,764.0L1637.1,764.0L1622.9,765.5L1620.9,756.5L1616.6,749.7L1614.5,737.1L1604.1,737.1L1600.4,734.6L1594.8,736.0L1592.2,742.3L1584.6,742.3L1579.7,742.7L1573.5,736.4L1568.3,726.9L1543.7,726.5Z"/><path d="M1673.3,694.6L1679.9,692.3L1683.9,696.5L1684.3,701.4L1681.9,701.8L1677.3,703.9L1674.9,704.6L1670.3,704.3L1669.9,703.9L1670.8,696.5Z"/></g><g id="r42"><path d="M1670.3,704.3L1674.9,704.6L1677.3,703.9L1681.9,701.8L1684.3,701.4L1685.0,708.2L1682.7,711.8L1678.4,716.1L1674.7,716.4L1672.6,708.2Z"/></g><g id="r43"><path d="M1678.1,660.7L1680.6,658.6L1687.3,660.0L1695.0,658.0L1702.7,655.9L1707.6,660.7L1713.6,671.7L1712.0,676.6L1708.1,682.1L1706.8,684.2L1708.3,691.9L1679.9,692.3L1673.3,694.6L1672.5,689.1L1674.1,681.4L1677.8,676.6L1683.2,670.0L1678.5,668.3Z"/><path d="M1771.8,696.5L1767.4,701.1L1762.3,704.6L1759.9,713.6L1756.6,718.1L1742.1,706.8L1741.1,706.1L1708.3,691.9L1706.8,684.2L1708.1,682.1L1712.0,676.6L1713.6,671.7L1707.6,660.7L1702.7,655.9L1712.7,653.2L1717.6,653.2L1725.8,654.2L1736.6,660.0L1748.1,661.0L1757.6,655.6L1766.9,657.6L1761.1,665.5L1766.2,690.9Z"/><path d="M1756.6,718.1L1755.1,727.6L1760.4,733.5L1763.8,742.3L1763.4,749.0L1769.2,757.2L1774.9,760.6L1764.2,766.3L1754.2,767.1L1743.8,770.1L1737.4,767.8L1730.5,769.1L1726.7,764.8L1722.9,757.2L1719.3,753.5L1713.8,753.5L1710.7,752.7L1702.3,750.1L1695.0,746.8L1691.2,743.8L1678.6,733.1L1676.8,726.9L1674.7,716.4L1678.4,716.1L1682.7,711.8L1685.0,708.2L1684.3,701.4L1683.9,696.5L1679.9,692.3L1708.3,691.9L1741.1,706.1L1742.1,706.8Z"/><path d="M1758.1,725.8L1761.5,728.4L1761.6,730.9L1759.3,729.8Z"/></g><g id="r44"><path d="M1710.1,588.1L1719.0,587.1L1725.6,587.1L1730.5,585.8L1738.5,586.8L1745.3,589.4L1752.6,594.4L1759.3,600.3L1755.5,605.1L1756.1,610.1L1765.2,610.2L1765.4,614.7L1773.0,620.8L1776.7,623.4L1801.3,630.2L1810.0,630.2L1790.1,650.8L1780.1,651.5L1775.4,655.9L1766.9,657.6L1757.6,655.6L1748.1,661.0L1736.6,660.0L1725.8,654.2L1717.6,653.2L1716.6,647.7L1705.4,638.9L1700.0,635.5L1690.4,630.8L1694.6,627.5L1698.3,626.1L1697.3,620.1L1697.6,612.7L1702.0,610.7L1702.5,604.7L1709.3,598.7L1710.1,588.1Z"/></g><g id="r45"><path d="M1767.3,606.9L1774.6,613.4L1782.6,613.7L1794.0,611.4L1801.4,609.1L1813.0,608.1L1824.2,605.1L1830.3,604.5L1831.0,613.7L1830.1,620.1L1824.6,630.8L1820.8,642.3L1815.3,653.9L1804.7,668.3L1797.5,670.7L1788.1,677.9L1778.1,687.4L1771.8,696.5L1766.2,690.9L1761.1,665.5L1766.9,657.6L1775.4,655.9L1780.1,651.5L1790.1,650.8L1810.0,630.2L1801.3,630.2L1776.7,623.4L1773.0,620.8L1765.4,614.7L1765.2,610.2Z"/></g><g id="r46"><path d="M1538.5,813.8L1537.9,803.8L1540.2,797.0L1541.9,783.2L1548.7,775.1L1551.0,764.8L1546.4,752.7L1542.7,749.7L1544.2,748.2L1545.5,744.5L1540.2,737.1L1534.7,728.4L1543.7,726.5L1568.3,726.9L1573.5,736.4L1579.7,742.7L1584.6,742.3L1592.2,742.3L1594.8,736.0L1600.4,734.6L1604.1,737.1L1614.5,737.1L1616.6,749.7L1620.9,756.5L1622.9,765.5L1637.1,764.0L1638.6,774.7L1639.3,780.1L1622.3,780.1L1625.7,805.4L1639.2,816.7L1622.4,820.0L1618.1,820.0L1596.8,815.1L1558.0,815.1L1549.0,811.8Z"/><path d="M1637.1,764.0L1649.3,767.1L1655.1,771.7L1667.2,773.6L1677.2,777.8L1681.3,782.1L1689.1,783.2L1687.6,773.6L1681.1,775.5L1675.3,770.9L1675.0,763.3L1674.8,754.2L1672.6,750.9L1674.4,746.0L1687.5,744.2L1691.2,743.8L1695.0,746.8L1702.3,750.1L1710.7,752.7L1713.2,755.0L1715.5,763.3L1716.5,769.4L1717.6,775.5L1714.2,785.6L1718.9,787.9L1694.3,794.2L1696.0,799.8L1697.0,800.6L1689.4,801.0L1685.1,803.8L1684.3,807.0L1675.1,814.3L1670.8,820.0L1665.4,818.7L1655.4,817.9L1650.2,814.7L1644.1,814.3L1639.2,816.7L1625.7,805.4L1622.3,780.1L1639.3,780.1L1638.6,774.7Z"/></g><g id="r47"><path d="M1710.7,752.7L1713.8,753.5L1719.3,753.5L1722.9,757.2L1726.7,764.8L1730.5,769.1L1728.6,775.5L1730.1,784.0L1736.6,787.1L1741.0,792.6L1743.9,803.8L1739.7,804.6L1740.3,812.6L1732.1,805.4L1730.3,799.8L1731.3,795.8L1730.8,792.6L1724.6,791.5L1718.9,787.9L1714.2,785.6L1717.6,775.5L1716.5,769.4L1715.5,763.3L1713.2,755.0Z"/><path d="M1655.4,817.9L1665.4,818.7L1670.8,820.0L1675.1,814.3L1684.3,807.0L1685.1,803.8L1689.4,801.0L1697.0,800.6L1704.4,803.8L1719.5,809.4L1721.2,819.6L1723.9,827.4L1722.4,834.1L1724.7,837.4L1721.8,840.8L1723.0,847.6L1714.0,857.1L1705.1,856.2L1696.7,855.3L1683.9,849.3L1680.0,840.8L1665.8,833.2L1661.3,825.7L1655.4,817.9Z"/></g><g id="r48"><path d="M1655.4,817.9L1661.3,825.7L1665.8,833.2L1680.0,840.8L1683.9,849.3L1696.7,855.3L1685.6,860.6L1677.6,868.5L1669.7,877.8L1668.2,885.5L1655.9,886.0L1644.8,882.8L1643.0,889.2L1635.2,897.0L1626.3,897.0L1625.3,892.9L1617.6,878.0L1614.6,853.6L1623.3,853.6L1619.3,822.4L1638.8,820.0L1648.3,819.6Z"/></g><g id="r49"><path d="M1590.5,913.3L1582.7,905.9L1576.6,895.2L1573.2,880.1L1566.9,861.9L1567.1,859.7L1555.8,844.2L1547.2,828.2L1538.5,813.8L1549.0,811.8L1558.0,815.1L1596.8,815.1L1618.1,820.0L1622.4,820.0L1639.2,816.7L1644.1,814.3L1650.2,814.7L1655.4,817.9L1648.3,819.6L1638.8,820.0L1619.3,822.4L1623.3,853.6L1614.6,853.6L1617.6,878.0L1621.9,911.6L1613.5,916.4L1604.5,915.9L1598.9,914.5L1594.7,908.7Z"/></g><g id="r50"><path d="M1734.9,897.0L1734.5,910.6L1730.4,915.4L1723.1,925.6L1717.4,937.9L1708.4,950.0L1700.4,956.7L1688.9,965.5L1680.6,967.6L1673.1,969.8L1660.1,968.7L1648.8,969.8L1630.0,976.5L1623.0,971.9L1618.4,971.9L1615.5,971.4L1614.1,966.6L1608.5,957.2L1611.1,949.0L1609.5,942.9L1599.8,930.0L1594.4,918.3L1590.5,913.3L1594.7,908.7L1598.9,914.5L1604.5,915.9L1613.5,916.4L1621.9,911.6L1617.6,878.0L1625.3,892.9L1626.3,897.0L1635.2,897.0L1643.0,889.2L1644.8,882.8L1655.9,886.0L1668.2,885.5L1669.7,877.8L1677.6,868.5L1685.6,860.6L1696.7,855.3L1705.1,856.2L1714.0,857.1L1717.8,866.7L1723.1,874.7L1725.0,888.7L1727.7,897.0Z"/></g><g id="r51"><path d="M1686.2,923.1L1691.5,916.4L1700.0,913.5L1706.2,918.3L1707.8,923.1L1705.7,927.0L1698.6,933.4L1690.9,930.0Z"/></g><g id="r52"><path d="M1716.1,896.6L1716.3,886.9L1725.0,888.7L1727.7,897.0L1721.3,901.2Z"/></g><g id="r53"><path d="M1852.6,772.0L1859.5,780.1L1865.6,791.9L1868.9,799.0L1863.1,799.8L1864.6,810.2L1864.1,819.2L1862.8,836.6L1861.4,853.6L1859.0,866.7L1857.5,879.6L1845.3,884.6L1841.0,885.5L1830.1,880.1L1824.0,867.6L1818.4,855.3L1821.1,840.8L1824.2,834.9L1818.5,824.1L1816.3,813.4L1818.9,805.4L1825.4,803.8L1833.5,801.4L1839.8,795.0L1844.6,789.5L1844.2,784.0L1850.7,782.5L1849.9,775.5Z"/></g><g id="r54"><path d="M1594.4,149.9L1581.8,146.2L1594.6,143.1L1584.5,138.8L1574.3,134.4L1560.3,133.1L1547.9,138.8L1534.9,145.0L1519.8,151.1L1511.3,159.5L1502.4,165.3L1499.2,171.1L1493.7,179.1L1485.9,191.2L1481.7,200.9L1475.6,206.1L1471.6,218.5L1459.3,221.5L1451.2,227.0L1439.2,233.4L1438.0,244.1L1440.4,249.8L1440.4,259.1L1444.1,263.3L1450.8,271.0L1453.9,271.9L1460.2,270.6L1467.2,265.6L1474.6,262.4L1476.2,254.5L1478.9,261.0L1480.8,263.7L1482.0,268.7L1486.9,274.6L1491.7,281.7L1493.5,289.1L1495.9,293.0L1496.1,294.8L1504.6,294.8L1505.5,293.5L1504.7,289.6L1513.4,287.8L1518.4,283.9L1519.0,274.1L1519.8,266.5L1524.9,264.2L1527.1,260.1L1531.8,254.5L1527.8,249.3L1519.6,247.0L1518.1,237.3L1519.3,230.5L1525.9,222.5L1536.4,216.5L1541.7,207.2L1540.2,200.9L1546.3,197.7L1558.7,195.5L1568.1,204.0L1562.9,209.3L1554.7,216.5L1545.8,223.5L1544.9,231.5L1547.2,239.3L1547.0,247.9L1554.1,250.7L1559.3,255.0L1572.0,252.1L1584.6,249.3L1590.5,248.4L1596.3,247.0L1604.3,251.7L1607.7,254.0L1600.0,254.0L1593.7,258.5L1585.2,257.7L1578.4,257.3L1571.6,258.7L1563.5,261.0L1564.1,265.1L1571.3,268.7L1570.9,273.1L1571.4,279.1L1570.3,280.4L1564.2,280.8L1559.4,275.5L1552.8,276.4L1549.8,285.2L1550.7,289.0L1551.4,292.2L1551.2,295.6L1544.7,298.6L1544.6,302.9L1542.5,302.9L1536.1,303.3L1533.2,299.9L1524.5,301.6L1519.4,304.6L1506.3,307.5L1502.3,305.4L1499.9,301.6L1493.9,303.3L1491.3,305.4L1483.9,306.7L1483.2,307.1L1484.2,303.3L1477.8,303.7L1476.0,299.9L1473.3,296.5L1474.1,293.5L1476.7,288.3L1481.2,285.7L1476.9,283.5L1477.6,276.4L1478.1,274.1L1473.8,275.5L1465.1,279.9L1462.4,284.3L1462.8,293.5L1466.6,297.3L1467.1,299.0L1467.2,304.1L1469.4,305.8L1468.2,307.7L1467.1,310.8L1464.2,310.0L1457.3,309.6L1458.2,312.5L1456.1,311.3L1446.5,311.7L1441.6,315.4L1440.2,319.9L1437.6,323.2L1434.4,327.3L1432.9,328.3L1427.4,330.5L1422.6,331.7L1421.0,333.7L1420.9,337.7L1417.8,339.7L1411.1,343.3L1408.3,344.8L1402.7,344.0L1401.2,341.7L1396.6,341.5L1399.5,349.9L1396.7,349.9L1389.6,348.7L1382.6,349.5L1377.5,351.9L1377.9,354.6L1381.5,356.5L1387.2,357.3L1393.7,360.4L1397.4,364.2L1403.3,369.1L1404.3,373.3L1403.6,380.4L1402.2,389.0L1400.1,389.9L1391.5,390.1L1385.8,389.2L1372.2,388.6L1362.8,388.6L1357.8,387.1L1352.9,389.9L1346.7,392.6L1346.7,393.5L1349.9,399.2L1349.8,400.9L1351.5,406.1L1349.9,413.3L1346.4,419.0L1345.8,423.1L1348.7,423.7L1348.1,425.8L1351.0,425.8L1351.1,429.0L1349.8,435.5L1357.8,435.6L1361.4,434.2L1364.7,434.2L1369.2,437.0L1369.7,439.1L1371.7,441.4L1374.9,442.6L1376.7,441.6L1383.5,437.7L1390.1,437.7L1399.6,437.4L1403.4,433.2L1410.3,431.4L1411.5,426.5L1416.4,423.3L1412.5,418.3L1415.1,414.4L1420.6,409.0L1423.0,406.5L1429.7,404.3L1436.7,400.7L1437.2,397.8L1436.2,396.8L1435.1,393.4L1438.1,390.4L1442.3,388.6L1447.8,390.1L1451.4,390.4L1457.2,391.9L1461.1,390.8L1464.7,387.5L1466.7,386.9L1471.3,385.3L1476.1,382.3L1483.1,384.9L1486.6,388.6L1488.5,393.0L1493.2,397.0L1498.4,399.2L1501.9,401.8L1504.6,403.9L1508.0,405.4L1512.0,405.4L1516.0,408.6L1517.9,410.1L1520.8,409.7L1522.9,413.0L1525.3,414.4L1527.7,414.0L1529.2,416.9L1531.5,421.5L1532.8,423.3L1530.3,424.0L1529.2,427.2L1529.8,429.0L1532.7,429.0L1535.6,425.8L1535.6,422.9L1539.5,421.9L1539.2,418.7L1534.2,416.5L1534.6,413.7L1536.5,411.2L1539.0,411.2L1543.9,412.6L1544.9,414.8L1547.5,415.8L1548.3,413.3L1544.3,409.7L1536.7,406.8L1535.5,406.3L1528.8,403.9L1528.3,402.5L1530.2,400.7L1523.7,400.3L1519.2,398.5L1515.4,396.7L1510.3,388.6L1505.0,385.8L1502.3,384.5L1499.9,381.5L1501.0,378.2L1499.6,375.2L1505.1,372.9L1509.7,372.9L1508.8,374.4L1508.3,377.1L1511.4,379.3L1513.1,377.8L1514.9,375.3L1518.4,377.8L1521.1,383.0L1521.6,384.5L1526.6,387.3L1530.7,389.0L1535.2,390.8L1538.2,392.3L1539.8,393.4L1543.2,395.2L1546.5,396.9L1547.7,396.7L1550.9,399.2L1553.1,400.9L1554.6,402.9L1554.2,405.0L1554.2,407.9L1553.7,409.7L1555.1,411.2L1553.9,411.4L1558.2,414.0L1559.6,416.5L1561.7,419.4L1565.7,421.9L1568.8,426.1L1573.5,426.3L1570.7,427.2L1569.2,429.7L1572.8,431.8L1573.9,434.6L1574.6,437.0L1576.7,436.0L1577.7,435.5L1579.6,439.1L1580.8,439.8L1581.2,437.0L1584.4,438.8L1585.9,439.5L1584.4,436.3L1581.6,431.8L1584.6,432.8L1587.1,432.5L1584.2,429.3L1587.4,429.0L1590.6,431.1L1590.4,427.2L1586.9,425.1L1582.1,422.6L1580.9,419.0L1584.4,420.5L1580.4,415.1L1577.7,411.2L1580.1,410.1L1583.7,412.6L1583.6,414.8L1586.5,412.2L1588.3,414.8L1590.3,413.3L1587.0,410.4L1590.2,407.6L1596.0,407.6L1601.1,408.3L1602.4,409.2L1608.4,403.6L1615.3,400.1L1612.4,396.7L1613.5,394.8L1613.3,391.2L1616.7,389.7L1617.2,387.2L1617.2,383.8L1618.3,379.7L1623.2,376.7L1623.0,375.2L1627.2,364.2L1628.6,351.1L1635.8,331.3L1633.7,298.2L1626.1,253.6L1614.5,224.5L1606.1,193.4L1598.2,165.3Z"/></g><g id="r55"><path d="M1370.3,338.9L1374.9,339.6L1381.0,336.5L1385.6,337.7L1386.2,334.5L1392.8,334.9L1396.3,334.5L1400.8,334.5L1404.6,333.3L1411.5,333.3L1416.3,332.1L1419.3,330.1L1419.6,328.5L1414.3,327.7L1415.9,324.8L1418.2,323.6L1421.1,319.1L1417.7,315.6L1411.9,315.4L1410.2,316.2L1411.1,314.2L1409.5,310.0L1407.5,305.8L1403.9,302.4L1399.7,301.2L1397.9,298.2L1396.6,293.0L1393.7,291.3L1390.2,289.6L1385.5,289.6L1389.4,287.0L1388.0,285.7L1390.3,283.5L1392.8,279.5L1394.3,276.4L1392.9,274.6L1382.8,274.6L1378.1,276.4L1380.7,273.3L1385.1,267.8L1385.4,266.0L1372.3,266.2L1370.4,269.6L1367.2,275.5L1368.3,278.2L1367.8,281.3L1364.8,283.5L1369.7,286.1L1368.5,292.2L1368.0,295.6L1371.3,293.9L1374.0,292.2L1375.4,293.9L1372.6,299.0L1373.7,301.2L1377.7,300.3L1383.2,299.0L1387.3,298.6L1383.7,302.4L1386.2,305.8L1388.6,305.8L1387.4,308.8L1387.9,311.7L1385.5,312.1L1380.3,312.9L1376.9,312.5L1378.7,314.2L1376.0,316.6L1380.5,315.8L1380.6,319.9L1376.6,322.4L1372.5,324.0L1374.0,326.1L1379.5,326.1L1382.3,326.5L1387.2,327.7L1390.7,326.9L1388.7,329.7L1380.4,329.7L1378.0,331.3L1374.7,336.1Z"/><path d="M1364.0,279.5L1361.8,275.9L1364.5,275.0L1367.3,278.6Z"/><path d="M1358.3,271.9L1364.2,267.4L1363.7,271.0L1359.1,274.1Z"/><path d="M1383.6,263.3L1388.1,260.1L1387.6,263.7Z"/><path d="M1394.6,254.5L1398.2,247.0L1399.1,251.7Z"/></g><g id="r56"><path d="M1365.1,321.8L1366.0,317.9L1367.3,315.0L1366.5,312.1L1365.7,307.5L1366.3,306.2L1370.0,304.6L1370.6,302.4L1368.2,300.7L1366.7,297.8L1365.6,296.5L1360.5,296.9L1358.1,297.8L1357.0,294.9L1350.9,296.9L1348.3,301.2L1351.8,302.7L1349.8,304.3L1339.5,304.6L1338.8,307.1L1340.3,310.4L1338.6,311.7L1346.2,312.8L1343.9,315.0L1340.5,318.3L1343.2,318.3L1340.5,321.2L1336.8,322.4L1338.5,324.8L1339.3,326.5L1341.4,327.7L1350.4,326.1L1353.8,324.4L1360.7,322.4Z"/></g><g id="r57"><path d="M1366.3,306.2L1370.0,304.6L1370.6,302.4L1368.2,300.7L1366.7,297.8L1365.6,296.5L1360.5,296.9L1358.1,297.8L1356.5,300.3L1353.8,300.7L1352.1,302.9L1356.3,305.6L1358.0,305.6L1360.0,303.3L1362.5,306.2Z"/></g><g id="r58"><path d="M1242.8,198.7L1252.7,189.0L1262.9,199.3L1270.2,192.3L1283.8,191.7L1296.7,187.9L1307.4,189.6L1313.7,203.0L1305.3,211.8L1291.5,217.0L1278.4,220.5L1269.8,219.0L1254.1,216.5L1258.8,211.3L1245.8,205.6L1257.6,203.5L1255.8,199.3Z"/></g><g id="r59"><path d="M1483.2,292.6L1487.8,290.0L1491.0,288.7L1493.1,289.3L1493.5,292.6L1490.9,294.8L1492.8,296.0L1489.9,298.2L1487.8,297.8L1483.6,296.5Z"/><path d="M1483.2,299.9L1491.1,299.5L1489.3,302.0L1483.4,301.2Z"/><path d="M1474.5,293.9L1477.8,293.0L1481.4,295.2L1481.3,297.8L1476.9,297.8L1475.0,296.0Z"/><path d="M1529.6,280.4L1534.1,272.8L1536.0,272.4L1533.9,276.8L1531.0,281.3Z"/><path d="M1518.9,287.8L1522.5,277.7L1521.2,278.2Z"/><path d="M1553.5,269.2L1554.2,266.5L1562.9,266.0L1561.3,269.2L1556.3,272.4Z"/><path d="M1554.1,263.7L1557.6,261.9L1560.9,264.2L1557.4,265.6Z"/><path d="M1508.3,297.3L1511.2,295.6L1511.1,298.2Z"/><path d="M1431.6,417.3L1436.9,414.8L1439.5,416.2L1436.8,419.4L1432.8,418.3Z"/><path d="M1423.6,422.2L1426.4,420.8L1425.8,422.6Z"/><path d="M1441.9,414.0L1445.6,414.8L1444.2,415.5Z"/><path d="M1474.9,397.4L1480.2,392.6L1481.2,395.2L1482.2,399.2L1480.5,404.3L1477.2,403.2L1475.5,400.7Z"/><path d="M1472.9,407.6L1473.9,407.2L1480.3,405.4L1483.3,407.2L1485.1,410.8L1484.4,414.8L1484.1,420.5L1480.8,420.1L1479.2,422.2L1475.8,420.8L1475.3,415.1L1473.4,410.1Z"/><path d="M1506.2,430.0L1506.7,428.3L1512.5,427.3L1521.0,428.4L1528.4,426.6L1526.5,432.1L1527.5,435.3L1526.4,437.9L1521.0,436.0L1514.6,433.7L1509.6,431.6Z"/><path d="M1589.6,447.8L1589.7,445.4L1593.4,445.7L1601.3,447.1L1605.8,447.5L1609.9,447.8L1609.4,449.4L1600.6,450.0L1593.0,448.2Z"/><path d="M1654.4,450.3L1654.2,448.9L1658.9,448.2L1659.0,446.8L1666.3,446.4L1670.3,444.8L1666.3,448.9L1667.2,449.8L1664.1,450.6L1660.0,452.5L1655.4,451.5Z"/><path d="M1622.6,439.5L1619.2,441.6L1622.4,443.3Z"/><path d="M1603.4,419.0L1608.1,420.8L1606.8,421.9L1602.6,420.8Z"/><path d="M1603.5,424.4L1605.5,425.8L1604.7,427.5Z"/><path d="M1584.2,421.9L1591.1,424.4L1594.6,428.6L1590.3,426.1L1583.7,422.9Z"/><path d="M1563.4,426.5L1566.7,426.5L1565.4,428.3Z"/><path d="M1557.0,416.2L1559.1,415.8L1560.6,418.7Z"/><path d="M1598.4,434.6L1602.8,434.9L1601.6,436.3Z"/><path d="M1520.3,443.0L1523.3,443.3L1521.9,444.0Z"/><path d="M1355.7,233.4L1361.6,231.0L1359.9,239.3Z"/><path d="M1496.1,55.0L1483.1,46.7L1474.7,34.8L1456.7,20.4L1453.7,7.3L1457.4,-2.5L1472.0,-2.5L1483.2,-6.5L1495.5,-0.5L1515.2,16.7L1504.7,27.7L1503.3,39.9Z"/><path d="M1497.4,-8.6L1516.6,-16.8L1546.6,-8.6L1537.0,5.4L1510.5,3.4Z"/><path d="M1518.1,39.9L1525.4,27.7L1538.5,36.5L1530.5,43.3Z"/></g><g id="r60"><path d="M1454.4,369.1L1454.8,366.1L1459.9,362.7L1460.6,359.2L1464.8,358.2L1471.7,356.9L1478.6,358.6L1478.6,362.3L1485.4,363.4L1485.3,366.1L1483.4,368.4L1477.6,366.9L1475.8,371.4L1471.6,368.0L1467.6,370.9L1462.0,371.0L1459.9,368.0Z"/><path d="M1545.7,371.0L1555.4,369.4L1565.2,376.3L1564.8,378.9L1572.8,380.1L1574.4,381.2L1574.4,383.8L1573.3,389.0L1577.9,391.5L1575.1,397.0L1574.2,397.7L1568.0,398.1L1561.8,400.8L1560.8,398.1L1557.5,395.9L1559.2,393.7L1553.9,391.5L1550.4,389.0L1552.4,388.2L1550.6,385.3L1548.9,382.7L1550.2,378.7L1547.7,378.8L1548.0,375.6Z"/></g><g id="r61"><path d="M1547.7,378.8L1540.4,377.1L1533.2,376.3L1528.4,377.8L1524.3,376.3L1524.6,379.3L1528.3,383.8L1530.7,385.6L1536.9,389.7L1539.7,392.4L1539.4,393.2L1540.2,393.4L1545.8,395.8L1547.1,391.2L1550.4,389.0L1552.4,388.2L1550.6,385.3L1548.9,382.7L1550.2,378.7Z"/></g><g id="r62"><path d="M1545.8,395.8L1546.5,396.9L1547.7,396.7L1550.9,399.2L1553.1,400.9L1552.3,398.5L1555.2,395.9L1557.5,395.9L1559.2,393.7L1553.9,391.5L1550.4,389.0L1547.1,391.2Z"/></g><g id="r63"><path d="M1553.1,400.9L1554.6,402.9L1554.2,405.0L1554.2,407.9L1553.7,409.7L1555.1,411.2L1553.9,411.4L1558.2,414.0L1559.6,416.5L1561.7,415.8L1563.9,413.7L1566.3,409.4L1565.6,408.2L1561.7,404.7L1561.8,400.8L1560.8,398.1L1557.5,395.9L1555.2,395.9L1552.3,398.5Z"/></g><g id="r64"><path d="M1561.8,400.8L1568.0,398.1L1574.2,397.7L1579.3,401.8L1579.4,404.7L1572.7,406.1L1565.6,408.2L1561.7,404.7Z"/></g><g id="r65"><path stroke="none" d="M-686.4,149.9L-677.0,154.1L-662.3,158.3L-656.2,167.7L-648.6,175.7L-656.4,185.7L-666.8,190.1L-682.6,192.8L-698.0,189.0L-704.2,185.7L-709.2,181.3L-712.1,190.1L-719.1,204.0L-724.4,210.3L-719.4,215.4L-709.8,214.4L-704.2,210.3L-704.3,203.0L-690.7,208.7L-677.1,198.7L-656.0,189.0L-647.0,192.3L-636.6,184.6L-627.7,172.3L-621.3,163.6L-608.3,167.7L-619.7,175.7L-621.2,183.5L-603.6,175.7L-585.0,170.0L-561.2,165.3L-557.7,168.2L-546.3,160.1L-531.3,164.2L-517.7,160.1L-507.6,159.5L-495.1,149.3L-481.8,155.9L-474.1,166.5L-464.3,167.7L-460.5,153.5L-449.0,140.0L-437.4,131.2L-415.0,115.4L-401.6,104.5L-388.2,110.0L-394.5,122.1L-408.3,135.0L-427.0,157.1L-445.2,171.1L-464.1,187.9L-444.0,176.8L-427.0,165.3L-402.1,135.0L-380.2,118.1L-370.9,111.4L-361.5,118.1L-355.3,118.1L-349.7,115.4L-342.9,128.6L-348.0,141.3L-333.5,128.6L-324.9,101.7L-284.7,94.6L-243.9,72.4L-205.5,63.0L-170.0,56.6L-127.6,36.5L-121.2,48.4L-135.2,58.2L-98.2,53.3L-92.6,61.4L-110.3,80.0L-143.4,94.6L-131.4,98.9L-124.4,101.7L-96.6,101.7L-71.0,108.6L-55.4,116.8L-41.1,101.7L-31.8,110.0L-50.1,135.0L-24.8,126.0L-6.9,127.3L14.1,128.6L29.5,115.4L39.0,110.7L65.9,116.8L83.0,128.6L93.2,136.9L128.6,135.6L131.4,151.1L146.9,151.7L162.4,152.3L184.3,147.5L200.9,146.2L193.0,159.5L202.6,148.7L233.9,149.3L256.0,160.7L264.9,167.7L275.3,177.9L292.2,182.4L301.8,192.3L293.8,197.7L276.0,210.3L270.2,211.3L256.7,206.1L254.2,198.7L242.3,193.4L232.3,203.0L220.2,207.2L210.4,207.2L211.8,225.5L207.8,231.5L177.2,236.4L155.5,245.0L135.5,254.0L115.4,250.7L99.5,255.0L83.2,262.8L68.8,271.9L75.3,274.6L67.0,283.5L67.7,287.8L52.1,296.5L47.7,302.4L33.4,306.7L27.8,313.3L14.1,320.8L-4.4,331.3L-1.3,323.2L5.9,302.4L17.7,285.2L33.9,273.7L46.9,269.2L61.4,260.1L81.9,249.8L99.1,239.3L113.1,229.5L92.5,239.3L73.8,247.9L78.3,235.4L55.9,239.3L29.8,259.1L14.6,261.9L3.6,258.2L-9.2,257.3L-34.6,260.1L-51.4,260.1L-77.7,273.7L-99.3,285.2L-119.3,299.0L-132.2,300.7L-121.3,306.7L-125.0,310.0L-106.9,305.8L-99.2,312.5L-107.6,321.6L-117.8,331.3L-124.1,339.3L-128.9,347.2L-148.7,360.4L-165.9,371.8L-185.5,382.3L-197.9,389.7L-214.0,394.1L-220.4,391.2L-230.5,395.2L-234.6,397.8L-234.6,396.9L-250.2,392.6L-266.2,385.3L-316.2,385.3L-367.3,377.8L-438.5,377.8L-516.2,385.3L-586.6,400.0L-643.6,407.2L-686.5,414.4L-729.5,421.5L-751.9,407.2L-774.3,404.3L-782.6,405.4L-782.3,399.6L-784.8,397.4L-795.2,399.2L-801.0,401.8L-795.9,396.3L-798.6,391.2L-795.5,385.3L-796.8,382.3L-783.0,375.6L-770.9,375.6L-760.4,366.5L-758.1,363.4L-770.3,362.3L-790.2,367.2L-798.3,371.0L-807.0,373.3L-821.0,380.8L-822.1,387.5L-827.3,392.6L-829.0,400.0L-828.1,401.0L-836.7,404.7L-842.1,405.8L-843.4,401.0L-845.4,396.3L-850.7,394.5L-857.3,395.9L-861.7,391.2L-868.5,390.8L-875.1,389.0L-878.2,389.8L-878.7,388.2L-883.2,382.3L-886.5,380.1L-888.3,376.3L-877.6,372.9L-871.6,369.9L-867.5,365.3L-856.5,362.3L-854.2,360.8L-861.4,361.9L-851.5,356.1L-843.8,356.1L-839.1,350.3L-828.1,342.5L-840.3,340.1L-840.5,336.9L-852.9,336.1L-848.8,330.9L-849.3,324.8L-848.7,320.3L-864.8,322.4L-874.6,323.2L-867.1,306.7L-863.6,293.9L-852.9,288.1L-849.5,282.1L-845.1,279.1L-845.4,276.2L-836.8,269.2L-832.5,264.6L-824.7,260.5L-821.7,259.6L-821.5,258.5L-809.6,254.0L-801.9,254.0L-802.4,251.7L-804.6,247.0L-812.2,248.4L-784.6,236.4L-763.0,225.5L-756.2,213.4L-753.3,206.1L-741.1,196.6L-733.5,183.5L-718.3,174.5L-718.0,165.3L-707.8,158.9L-692.8,151.7Z"/><path stroke="none" d="M1594.4,149.9L1609.1,154.1L1628.9,158.3L1646.6,167.7L1664.2,175.7L1668.8,185.7L1663.8,190.1L1651.4,192.8L1631.2,189.0L1621.0,185.7L1610.5,181.3L1618.5,190.1L1628.7,204.0L1631.1,210.3L1642.5,215.4L1650.9,214.4L1651.4,210.3L1642.2,203.0L1662.9,208.7L1664.2,198.7L1673.3,189.0L1686.3,192.3L1687.3,184.6L1680.8,172.3L1676.5,163.6L1694.6,167.7L1693.1,175.7L1701.2,183.5L1709.1,175.7L1720.7,170.0L1738.8,165.3L1745.9,168.2L1747.1,160.1L1767.3,164.2L1775.8,160.1L1785.2,159.5L1785.0,149.3L1806.5,155.9L1827.3,166.5L1838.5,167.7L1824.8,153.5L1819.7,140.0L1820.3,131.2L1823.2,115.4L1823.1,104.5L1843.3,110.0L1852.0,122.1L1854.1,135.0L1862.8,157.1L1861.9,171.1L1863.8,187.9L1870.1,176.8L1873.0,165.3L1860.4,135.0L1861.4,118.1L1862.4,111.4L1880.0,118.1L1886.3,118.1L1888.5,115.4L1911.6,128.6L1922.2,141.3L1921.0,128.6L1896.3,101.7L1927.8,94.6L1941.1,72.4L1967.9,63.0L1995.5,56.6L2013.0,36.5L2034.1,48.4L2032.3,58.2L2063.2,53.3L2078.9,61.4L2084.1,80.0L2069.1,94.6L2086.4,98.9L2096.9,101.7L2124.6,101.7L2158.8,108.6L2184.5,116.8L2180.2,101.7L2199.8,110.0L2212.3,135.0L2226.6,126.0L2246.0,127.3L2268.6,128.6L2267.8,115.4L2271.4,110.7L2305.8,116.8L2337.5,128.6L2358.0,136.9L2391.8,135.6L2413.8,151.1L2430.0,151.7L2446.2,152.3L2462.2,147.5L2477.2,146.2L2485.7,159.5L2481.9,148.7L2514.0,149.3L2550.2,160.7L2567.7,167.7L2590.8,177.9L2613.3,182.4L2635.1,192.3L2633.8,197.7L2631.6,210.3L2627.1,211.3L2607.1,206.1L2595.5,198.7L2576.9,193.4L2578.9,203.0L2571.9,207.2L2562.1,207.2L2586.2,225.5L2589.6,231.5L2565.0,236.4L2554.0,245.0L2545.1,254.0L2521.0,250.7L2510.3,255.0L2503.7,262.8L2500.6,271.9L2510.3,274.6L2513.1,283.5L2519.2,287.8L2514.3,296.5L2517.2,302.4L2508.1,306.7L2510.8,313.3L2506.3,320.8L2500.8,331.3L2493.9,323.2L2475.4,302.4L2465.9,285.2L2467.9,273.7L2475.3,269.2L2478.5,260.1L2486.3,249.8L2490.5,239.3L2492.4,229.5L2483.9,239.3L2475.8,247.9L2464.9,235.4L2447.3,239.3L2445.8,259.1L2433.9,261.9L2418.4,258.2L2404.4,257.3L2382.5,260.1L2365.7,260.1L2356.3,273.7L2348.9,285.2L2346.0,299.0L2335.3,300.7L2353.5,306.7L2353.9,310.0L2366.8,305.8L2382.8,312.5L2385.6,321.6L2387.4,331.3L2391.0,339.3L2396.0,347.2L2392.5,360.4L2389.4,371.8L2382.8,382.3L2379.5,389.7L2368.9,394.1L2358.8,391.2L2353.7,395.2L2352.8,397.8L2351.7,396.9L2330.9,392.6L2305.8,385.3L2255.8,385.3L2195.4,377.8L2124.2,377.8L2055.7,385.3L2003.6,400.0L1955.5,407.2L1921.5,414.4L1887.3,421.5L1847.2,407.2L1821.2,404.3L1814.2,405.4L1807.4,399.6L1802.2,397.4L1794.0,399.2L1791.4,401.8L1789.7,396.3L1780.6,391.2L1776.4,385.3L1771.4,382.3L1777.0,375.6L1789.1,375.6L1788.3,366.5L1786.9,363.4L1773.2,362.3L1759.5,367.2L1756.1,371.0L1750.2,373.3L1745.4,380.8L1752.6,387.5L1753.7,392.6L1761.1,400.0L1763.4,401.0L1759.3,404.7L1755.2,405.8L1748.0,401.0L1740.2,396.3L1732.6,394.5L1727.9,395.9L1717.6,391.2L1710.3,390.8L1701.4,389.0L1699.4,389.8L1697.0,388.2L1685.1,382.3L1679.0,380.1L1672.6,376.3L1679.1,372.9L1681.3,369.9L1679.8,365.3L1687.0,362.3L1687.4,360.8L1681.6,361.9L1684.4,356.1L1692.2,356.1L1689.6,350.3L1690.9,342.5L1675.8,340.1L1671.7,336.9L1658.3,336.1L1655.9,330.9L1647.9,324.8L1643.0,320.3L1629.3,322.4L1620.6,323.2L1607.6,306.7L1595.4,293.9L1598.9,288.1L1594.9,282.1L1595.5,279.1L1591.7,276.2L1591.6,269.2L1590.3,264.6L1593.0,260.5L1594.9,259.6L1593.7,258.5L1600.0,254.0L1607.7,254.0L1604.3,251.7L1596.3,247.0L1590.5,248.4L1603.2,236.4L1611.4,225.5L1603.2,213.4L1597.1,206.1L1597.5,196.6L1589.0,183.5L1593.0,174.5L1582.0,165.3L1584.1,158.9L1590.3,151.7Z"/><path d="M1542.5,302.9L1544.6,302.9L1544.7,298.6L1551.2,295.6L1553.3,296.0L1562.4,297.8L1564.9,303.3Z"/><path d="M2383.0,304.1L2394.0,311.7L2402.4,323.2L2410.5,335.3L2424.7,347.2L2412.2,344.8L2416.4,358.8L2426.4,364.2L2428.6,369.5L2420.1,365.7L2419.3,370.7L2414.2,362.7L2409.3,351.1L2402.2,339.3L2391.3,323.2L2385.8,311.7Z"/><path d="M257.8,135.0L271.2,128.0L283.8,131.2L279.1,136.3L263.0,136.9Z"/><path d="M2520.2,135.0L2524.9,128.0L2541.5,131.2L2543.1,136.3L2527.8,136.9Z"/><path d="M41.4,72.4L61.2,61.4L80.2,64.6L93.0,72.4L74.6,81.5L52.2,83.0L40.0,83.0Z"/><path d="M2226.4,72.4L2232.7,61.4L2255.5,64.6L2278.0,72.4L2270.8,81.5L2250.3,83.0L2238.1,83.0Z"/><path d="M36.9,103.1L52.3,96.1L61.2,101.0L48.6,105.9Z"/><path d="M2259.9,103.1L2266.6,96.1L2281.6,101.0L2275.0,105.9Z"/><path d="M97.0,75.4L114.2,72.4L121.4,80.0L103.6,83.7Z"/><path d="M2285.8,75.4L2299.2,72.4L2315.7,80.0L2302.6,83.7Z"/><path d="M1982.4,31.2L1995.8,27.7L2012.0,24.1L2004.4,13.0L1984.5,7.3L1973.7,16.7Z"/><path d="M1936.3,3.4L1946.2,-8.6L1966.5,-8.6L1974.6,1.5L1963.4,13.0L1948.0,11.1Z"/><path d="M1707.2,158.3L1711.2,153.5L1717.4,158.3L1713.9,162.4Z"/><path d="M1770.0,147.5L1774.0,141.3L1782.0,147.5L1778.7,151.7Z"/><path d="M1828.7,104.5L1833.2,101.0L1840.2,105.9L1835.3,108.0Z"/><path d="M1720.3,127.3L1731.7,135.6L1745.3,140.0L1760.8,138.8L1752.6,131.2L1745.9,122.1L1741.4,111.4L1745.9,104.5L1752.6,94.6L1764.1,80.0L1786.3,61.4L1805.9,50.0L1788.7,48.4L1767.8,59.8L1746.5,70.8L1734.7,84.4L1729.7,101.7L1723.8,115.4Z"/><path d="M2453.1,386.7L2456.3,382.3L2453.2,381.9Z"/><path d="M2459.6,379.3L2469.4,374.1L2464.6,375.6Z"/><path d="M2473.6,372.5L2478.5,368.8L2475.4,369.5Z"/><path d="M-19.0,337.7L-10.3,332.9L-14.3,336.9Z"/><path d="M2494.2,337.7L2496.9,332.9L2497.9,336.9Z"/><path d="M77.4,296.5L83.4,295.6L82.9,299.9L77.9,299.0Z"/><path d="M2539.6,296.5L2544.5,295.6L2549.3,299.9L2543.2,299.0Z"/><path d="M82.3,266.5L93.8,261.0L88.8,264.6Z"/><path d="M2507.3,266.5L2512.0,261.0L2511.6,264.6Z"/><path d="M2346.5,297.3L2353.8,298.2L2352.8,301.6Z"/><path d="M1598.9,288.1L1608.0,291.7L1618.8,293.0L1618.9,299.9L1621.9,301.6L1626.7,305.8L1632.1,309.2L1633.8,311.3L1630.2,314.2L1625.2,313.3L1625.5,319.1L1629.3,322.4L1621.9,328.9L1613.1,328.1L1598.2,326.5L1584.6,323.6L1573.7,327.3L1569.7,320.8L1574.1,317.5L1569.9,307.1L1576.1,307.5L1583.5,304.1L1584.5,299.0L1590.8,295.6L1589.0,292.4Z"/></g><g id="r66"><path d="M1629.3,322.4L1621.9,328.9L1613.1,328.1L1598.2,326.5L1584.6,323.6L1573.7,327.3L1577.5,332.5L1574.6,336.1L1569.2,342.9L1568.6,346.6L1566.5,351.9L1572.3,355.4L1586.6,356.9L1598.1,353.0L1600.3,354.2L1602.7,356.5L1605.7,359.6L1610.3,364.2L1611.1,367.6L1610.9,370.7L1612.7,374.1L1616.3,375.9L1619.3,374.4L1623.0,375.2L1622.2,372.5L1626.1,370.3L1629.4,366.5L1634.5,365.3L1638.1,365.7L1637.1,368.4L1642.3,369.9L1648.7,369.5L1645.3,374.8L1646.9,375.6L1651.2,377.8L1650.7,381.2L1653.4,382.3L1657.8,381.2L1664.3,377.8L1671.7,377.1L1672.3,374.8L1664.6,375.6L1660.1,372.2L1660.0,369.5L1656.5,369.5L1662.2,367.6L1670.4,364.6L1676.7,362.1L1681.6,361.9L1684.4,356.1L1692.2,356.1L1689.6,350.3L1690.9,342.5L1675.8,340.1L1671.7,336.9L1658.3,336.1L1655.9,330.9L1647.9,324.8L1643.0,320.3L1629.3,322.4Z"/></g><g id="r67"><path d="M1648.7,369.5L1645.3,374.8L1646.9,375.6L1651.2,377.8L1650.7,381.2L1653.4,382.3L1657.8,381.2L1664.3,377.8L1671.7,377.1L1672.3,374.8L1664.6,375.6L1660.1,372.2L1660.0,369.5L1656.5,369.5Z"/></g><g id="r68"><path d="M1602.4,409.2L1604.0,405.4L1605.4,402.9L1603.6,402.1L1609.9,399.2L1615.3,400.1L1619.9,403.6L1623.8,405.6L1629.7,406.1L1640.3,405.0L1646.6,401.8L1653.2,400.0L1666.1,399.6L1672.6,402.1L1676.0,405.0L1680.9,406.1L1691.4,407.9L1700.6,407.2L1711.6,404.3L1713.2,403.4L1720.2,403.9L1727.5,406.5L1730.8,413.3L1739.4,416.5L1739.5,417.0L1737.0,418.7L1734.5,419.0L1738.5,426.1L1738.5,429.3L1743.1,434.6L1733.6,433.9L1725.4,434.9L1715.5,434.9L1707.2,437.4L1693.9,436.7L1686.8,438.1L1684.8,440.9L1681.6,443.7L1679.8,443.2L1679.6,440.5L1681.0,438.4L1678.1,438.4L1674.5,438.8L1669.4,437.0L1665.0,440.9L1657.2,442.6L1650.3,438.8L1640.4,436.7L1639.6,440.5L1639.0,441.2L1633.5,441.6L1628.9,438.1L1622.6,437.0L1616.4,437.7L1616.4,435.3L1614.3,433.2L1614.1,429.7L1606.7,426.5L1610.9,425.4L1609.3,421.5L1607.9,419.4L1603.7,418.3L1604.2,414.4L1604.2,414.0L1607.2,410.4Z"/></g><g id="r69"><path d="M1699.4,389.8L1707.2,393.0L1711.9,397.0L1713.8,400.7L1713.2,403.4L1720.2,403.9L1727.5,406.5L1731.4,405.8L1738.4,405.0L1740.4,403.9L1745.8,405.8L1750.4,406.8L1746.6,402.9L1748.0,401.0L1740.2,396.3L1732.6,394.5L1727.9,395.9L1717.6,391.2L1710.3,390.8L1701.4,389.0Z"/></g><g id="r70"><path d="M1727.5,406.5L1731.4,405.8L1738.4,405.0L1742.8,408.6L1746.9,412.6L1744.8,414.8L1752.1,418.0L1752.2,422.2L1750.5,422.6L1749.0,422.4L1744.8,418.0L1740.8,416.2L1739.4,416.5L1730.8,413.3Z"/><path d="M1738.4,405.0L1740.4,403.9L1745.8,405.8L1750.4,406.8L1746.6,402.9L1748.0,401.0L1755.2,405.8L1759.3,404.7L1763.4,401.0L1768.0,405.0L1772.8,410.1L1778.6,411.9L1772.7,413.0L1772.3,419.4L1771.1,425.4L1764.0,422.9L1765.8,419.4L1761.2,416.9L1756.1,420.1L1750.5,422.6L1752.2,422.2L1752.1,418.0L1744.8,414.8L1746.9,412.6L1742.8,408.6Z"/><path d="M1739.4,416.5L1740.8,416.2L1744.8,418.0L1749.0,422.4L1745.2,421.5L1741.0,418.7L1739.5,417.0Z"/></g><g id="r71"><path d="M1679.8,443.2L1679.1,446.1L1680.6,448.2L1681.8,452.0L1685.0,452.3L1687.0,455.1L1683.1,457.8L1682.5,460.6L1681.2,461.6L1681.8,465.4L1690.9,468.1L1704.3,460.8L1719.2,453.7L1720.1,450.9L1720.5,445.4L1718.7,440.2L1725.4,434.9L1715.5,434.9L1707.2,437.4L1693.9,436.7L1686.8,438.1L1684.8,440.9L1681.6,443.7Z"/></g><g id="r72"><path d="M1681.8,452.0L1685.0,452.3L1687.0,455.1L1683.1,457.8L1682.5,460.6L1681.2,461.6L1677.3,462.6L1679.2,457.2Z"/><path d="M1677.3,462.6L1681.2,461.6L1681.8,465.4L1681.5,467.4L1682.6,473.6L1682.0,477.0L1680.8,486.8L1680.1,487.1L1673.1,474.9L1674.6,472.9L1675.9,469.5L1676.5,464.7Z"/><path d="M1681.8,465.4L1690.9,468.1L1704.3,460.8L1708.9,469.1L1693.4,473.6L1702.1,480.3L1699.0,483.7L1693.5,484.7L1689.1,489.1L1680.7,488.1L1680.8,486.8L1682.0,477.0L1682.6,473.6L1681.5,467.4Z"/></g><g id="r73"><path d="M1725.4,434.9L1733.6,433.9L1743.1,434.6L1749.3,442.6L1754.9,444.7L1753.0,451.3L1752.3,456.5L1758.9,463.3L1769.0,467.1L1773.9,472.2L1773.8,477.0L1776.9,480.7L1781.8,484.2L1777.5,483.7L1777.2,483.7L1775.1,483.1L1770.9,484.1L1768.0,489.8L1754.1,489.1L1731.7,476.2L1718.1,470.5L1708.9,469.1L1704.3,460.8L1719.2,453.7L1720.1,450.9L1720.5,445.4L1718.7,440.2Z"/></g><g id="r74"><path d="M1768.0,489.8L1770.9,484.1L1775.1,483.1L1777.2,483.7L1779.7,486.8L1779.3,488.5L1782.9,493.5L1777.4,493.5L1774.9,490.5Z"/><path d="M1680.7,488.1L1689.1,489.1L1693.5,484.7L1699.0,483.7L1702.1,480.3L1693.4,473.6L1708.9,469.1L1718.1,470.5L1731.7,476.2L1754.1,489.1L1768.0,489.8L1774.9,490.5L1777.4,493.5L1782.9,493.5L1787.0,499.2L1791.5,502.6L1798.8,506.2L1800.6,512.6L1806.6,518.9L1809.9,519.9L1813.3,522.2L1818.5,530.5L1822.8,530.9L1843.1,532.8L1843.4,532.5L1848.0,537.2L1846.3,550.4L1824.7,557.0L1802.9,559.7L1796.6,562.6L1792.7,569.6L1789.0,570.6L1786.6,568.2L1783.5,568.6L1776.1,568.2L1774.3,567.3L1765.8,567.6L1760.2,566.6L1759.8,572.2L1757.0,574.4L1755.5,571.9L1751.8,567.3L1747.0,564.6L1741.7,559.3L1738.2,553.7L1728.7,548.1L1722.4,541.8L1720.0,537.2L1714.4,525.9L1706.1,521.9L1703.1,518.2L1697.7,511.6L1688.3,501.6L1683.7,496.9L1680.0,496.9L1680.4,493.2Z"/></g><g id="r75"><path d="M1806.6,518.9L1805.1,513.9L1806.2,510.6L1808.3,509.9L1811.2,512.2L1812.3,517.2L1809.9,519.9Z"/><path d="M1813.3,522.2L1821.2,522.6L1828.2,523.2L1834.5,520.9L1840.0,515.6L1844.6,510.2L1845.8,512.9L1847.4,513.2L1848.7,517.4L1845.9,517.9L1845.4,521.9L1843.7,524.2L1844.4,527.2L1843.4,532.5L1843.1,532.8L1822.8,530.9L1818.5,530.5Z"/></g><g id="r76"><path d="M1843.4,532.5L1844.4,527.2L1843.7,524.2L1845.4,521.9L1845.9,517.9L1848.7,517.4L1851.6,520.9L1859.1,524.9L1867.9,526.5L1878.9,533.5L1877.7,540.8L1874.8,547.4L1868.7,547.4L1868.8,557.0L1869.8,557.7L1861.1,560.0L1859.7,563.9L1852.5,565.9L1851.2,570.2L1844.2,570.2L1837.0,572.5L1833.5,567.9L1824.7,557.0L1846.3,550.4L1848.0,537.2Z"/><path d="M1844.6,510.2L1846.1,508.0L1847.2,509.2L1846.9,512.9L1845.8,512.9Z"/></g><g id="r77"><path d="M1757.0,574.4L1759.8,572.2L1760.2,566.6L1765.8,567.6L1774.3,567.3L1776.1,568.2L1783.5,568.6L1786.6,568.2L1789.0,570.6L1792.7,569.6L1796.6,562.6L1802.9,559.7L1824.7,557.0L1824.7,557.0L1833.5,567.9L1837.0,572.5L1831.6,579.5L1822.9,582.5L1809.0,586.8L1801.1,590.1L1791.8,594.1L1779.4,598.4L1767.7,599.1L1764.8,594.7L1760.0,584.8L1757.3,578.8Z"/><path d="M1845.1,599.7L1854.5,599.7L1851.0,601.4L1846.2,601.1Z"/></g><g id="r78"><path d="M1743.1,434.6L1738.5,429.3L1738.5,426.1L1734.5,419.0L1737.0,418.7L1739.5,417.0L1741.0,418.7L1745.2,421.5L1749.0,422.4L1750.5,422.6L1756.1,420.1L1761.2,416.9L1765.8,419.4L1764.0,422.9L1771.0,425.6L1773.2,431.4L1780.4,432.5L1783.4,434.6L1789.9,437.4L1796.8,438.4L1803.8,437.0L1810.9,436.3L1809.5,433.3L1816.6,429.7L1826.1,426.8L1832.8,427.2L1841.8,431.1L1848.6,432.1L1857.5,438.1L1863.4,438.1L1866.6,445.4L1865.3,453.7L1864.6,458.7L1868.1,459.7L1866.0,463.5L1869.8,468.9L1871.6,473.2L1877.5,474.4L1879.3,478.7L1874.1,484.7L1883.2,492.5L1891.1,495.5L1893.1,501.6L1896.8,502.6L1898.0,505.6L1888.9,508.2L1887.9,515.9L1880.2,515.2L1867.9,514.6L1858.3,512.9L1850.3,505.2L1845.2,502.9L1839.7,505.2L1834.2,507.2L1823.2,505.6L1816.1,501.2L1807.1,498.2L1800.7,491.5L1793.0,482.7L1784.4,481.0L1781.8,484.2L1776.9,480.7L1773.8,477.0L1773.9,472.2L1769.0,467.1L1758.9,463.3L1752.3,456.5L1753.0,451.3L1754.9,444.7L1749.3,442.6Z"/><path d="M1837.8,506.6L1844.8,504.2L1842.2,505.9Z"/></g><g id="r79"><path d="M1810.8,377.8L1827.6,373.3L1847.8,382.3L1856.7,389.0L1877.0,387.5L1887.1,392.6L1888.4,400.0L1895.2,406.1L1905.5,406.5L1910.0,409.7L1911.8,404.7L1921.5,402.1L1923.7,398.1L1929.8,403.6L1942.2,408.6L1933.5,413.3L1923.3,408.3L1914.9,409.0L1914.1,413.7L1906.8,413.7L1903.7,418.0L1911.0,418.0L1909.3,422.2L1913.3,428.6L1911.4,434.4L1901.7,433.1L1901.0,428.6L1893.2,426.8L1881.6,421.9L1875.6,418.7L1866.5,414.4L1860.8,406.8L1850.4,405.8L1846.4,401.4L1844.9,398.5L1833.7,394.1L1829.1,398.5L1823.6,401.0L1825.7,405.0L1817.5,405.0Z"/></g><g id="r80"><path d="M1791.4,401.8L1794.0,399.2L1802.2,397.4L1807.4,399.6L1814.2,405.4L1817.5,405.0L1825.7,405.0L1823.6,401.0L1829.1,398.5L1833.7,394.1L1844.9,398.5L1846.4,401.4L1850.4,405.8L1860.8,406.8L1866.5,414.4L1875.6,418.7L1881.6,421.9L1893.2,426.8L1901.0,428.6L1901.7,433.1L1895.3,431.8L1889.6,434.9L1889.0,440.5L1880.3,443.7L1874.7,447.5L1866.6,445.4L1863.4,438.1L1857.5,438.1L1848.6,432.1L1841.8,431.1L1832.8,427.2L1826.1,426.8L1816.6,429.7L1809.5,433.3L1806.4,422.2L1800.3,419.4L1802.7,414.4L1796.9,414.4L1795.0,407.9L1795.7,406.5Z"/></g><g id="r81"><path d="M1923.7,398.1L1923.2,395.9L1928.4,394.1L1941.5,397.0L1944.7,391.2L1956.4,394.1L1958.1,392.6L1970.5,393.4L1981.6,394.5L1990.1,398.5L1979.8,404.3L1969.2,407.2L1960.2,410.8L1955.3,411.2L1949.3,415.1L1949.2,418.3L1936.1,419.4L1926.7,417.3L1917.5,418.0L1918.0,413.7L1924.6,412.6L1923.3,408.3L1933.5,413.3L1942.2,408.6L1929.8,403.6Z"/></g><g id="r82"><path d="M1949.2,418.3L1953.8,425.1L1960.5,425.4L1963.1,433.9L1951.0,432.5L1947.2,436.7L1940.2,437.7L1936.9,429.3L1932.1,425.4L1927.4,429.3L1922.9,431.4L1922.5,434.9L1913.3,436.0L1911.4,434.4L1913.3,428.6L1909.3,422.2L1911.0,418.0L1903.7,418.0L1906.8,413.7L1914.1,413.7L1914.9,409.0L1923.3,408.3L1924.6,412.6L1918.0,413.7L1917.5,418.0L1926.7,417.3L1936.1,419.4Z"/></g><g id="r83"><path d="M1866.0,445.1L1874.2,447.7L1879.5,446.8L1880.2,443.6L1885.7,442.6L1889.3,440.5L1889.2,434.9L1895.0,433.5L1895.4,431.0L1899.4,432.9L1901.7,433.1L1905.7,433.1L1911.7,434.7L1914.2,435.5L1918.8,433.3L1921.7,434.6L1923.1,431.4L1927.5,431.5L1928.3,430.4L1928.2,427.6L1930.6,425.1L1935.0,426.8L1934.9,429.0L1937.2,429.2L1938.3,435.1L1941.9,437.5L1944.0,436.0L1947.0,435.3L1950.6,432.1L1955.8,432.7L1963.4,432.7L1965.3,434.7L1961.3,435.5L1958.0,436.8L1949.8,437.6L1942.4,439.1L1939.0,442.1L1941.7,445.1L1943.5,448.5L1940.8,451.4L1941.9,454.1L1940.6,456.5L1933.5,456.3L1937.7,460.9L1933.6,462.6L1931.6,466.7L1933.3,470.8L1930.9,472.7L1928.0,472.1L1922.5,473.0L1922.2,474.9L1916.7,474.9L1913.6,478.7L1915.1,484.5L1906.1,487.3L1900.7,486.7L1899.6,488.2L1894.9,487.3L1887.7,488.3L1874.1,484.9L1879.3,478.7L1877.5,474.4L1871.6,473.2L1869.8,468.9L1866.0,463.5L1868.1,459.7L1864.6,458.7L1865.3,453.7Z"/></g><g id="r84"><path stroke="none" d="M2315.2,415.1L2306.7,416.9L2299.1,422.2L2295.2,417.3L2298.0,410.8L2289.4,407.9L2281.2,415.1L2278.6,420.5L2270.7,421.5L2275.2,427.2L2283.0,430.0L2285.7,434.2L2294.9,430.4L2302.1,431.8L2310.7,432.8L2311.8,436.7L2302.1,439.5L2299.0,442.3L2294.8,448.9L2295.2,451.3L2304.7,454.4L2313.4,463.3L2324.8,471.9L2327.3,477.0L2321.7,481.0L2330.7,484.1L2333.4,489.8L2333.7,495.2L2328.0,497.5L2328.0,503.9L2325.8,510.6L2323.8,515.9L2319.3,520.9L2313.8,527.2L2312.1,528.5L2300.9,532.5L2296.0,535.2L2290.9,535.8L2280.8,538.8L2270.1,542.5L2273.4,548.4L2266.1,544.8L2263.1,540.5L2253.6,539.8L2251.0,540.1L2231.9,550.4L2190.7,543.8L2152.2,523.9L2101.6,510.6L2021.4,497.2L1982.7,470.2L1956.2,456.5L1961.2,435.4L1963.1,433.9L1960.5,425.4L1953.8,425.1L1949.2,418.3L1949.3,415.1L1955.3,411.2L1960.2,410.8L1969.2,407.2L1979.8,404.3L1990.1,398.5L1992.0,391.2L1987.1,385.3L1981.4,378.6L1995.2,376.3L1996.8,373.7L1997.5,361.1L2015.5,362.3L2013.3,351.9L2022.6,346.4L2025.9,345.8L2064.4,370.3L2105.7,385.3L2162.9,385.3L2210.0,362.7L2226.0,340.5L2235.3,342.5L2241.1,336.9L2242.8,325.7L2243.9,319.1L2238.6,318.3L2242.8,312.5L2259.7,310.4L2271.0,313.8L2280.1,318.3L2291.6,328.9L2299.9,337.3L2306.0,342.5L2317.2,344.0L2327.1,348.4L2330.8,354.2L2334.5,357.3L2345.0,357.3L2347.7,354.2L2355.6,351.9L2358.5,352.6L2358.2,359.6L2358.8,370.3L2359.4,377.1L2349.8,375.6L2345.3,378.6L2350.8,385.3L2352.7,389.0L2353.5,393.4L2351.7,396.9L2344.9,392.6L2344.6,397.0L2334.9,400.0L2337.9,403.9L2327.3,401.4L2324.8,406.5L2320.0,410.1Z"/><path d="M2262.4,555.0L2265.3,551.1L2273.2,549.7L2279.2,552.7L2277.8,558.3L2271.8,562.3L2264.7,560.3Z"/></g><g id="r85"><path d="M2339.6,517.2L2342.8,515.2L2346.8,517.2L2347.3,523.9L2348.6,529.9L2348.2,537.8L2340.1,531.2L2337.1,526.5L2338.6,519.9Z"/></g><g id="r86"><path stroke="none" d="M1874.1,484.7L1887.7,488.3L1894.9,487.3L1899.6,488.2L1900.7,486.7L1906.1,487.3L1915.1,484.5L1913.6,478.7L1916.7,474.9L1922.2,474.9L1922.5,473.0L1928.0,472.1L1930.9,472.7L1933.3,470.8L1931.6,466.7L1933.6,462.6L1937.7,460.9L1933.5,456.3L1940.6,456.5L1941.9,454.1L1940.8,451.4L1943.5,448.5L1941.7,445.1L1939.0,442.1L1942.4,439.1L1949.8,437.6L1958.0,436.8L1961.3,435.5L1976.2,449.6L1977.4,477.0L1963.3,503.9L1940.8,525.9L1934.7,524.3L1931.1,519.5L1923.7,514.4L1910.1,515.6L1897.9,515.8L1887.9,515.9L1888.9,508.2L1898.0,505.6L1896.8,502.6L1893.1,501.6L1891.1,495.5L1883.2,492.5Z"/><path stroke="none" d="M1940.8,525.9L1946.5,529.2L1949.6,534.5L1957.3,542.5L1963.4,544.8L1968.3,545.8L1975.2,543.1L1975.9,539.1L1977.5,535.5L1979.6,541.1L1982.8,547.7L1985.6,557.0L1993.6,570.2L2000.5,580.2L2007.7,588.1L2014.2,597.4L2025.1,608.4L2031.5,617.1L2036.1,624.1L2040.9,627.8L2045.8,629.6L2049.5,626.1L2054.7,621.4L2053.3,619.4L2059.3,614.7L2056.6,606.7L2056.6,596.1L2052.0,586.8L2050.2,581.5L2056.1,578.2L2064.5,572.9L2069.8,565.6L2078.7,555.7L2084.3,551.7L2090.7,545.8L2089.6,540.5L2096.9,539.5L2105.0,538.5L2111.6,537.8L2115.2,535.2L2120.6,533.2L2124.4,535.2L2128.2,541.1L2132.1,545.4L2135.7,530.5L2142.0,507.2L2151.2,495.9L2109.3,490.5L2054.4,483.7L2002.8,463.3L1968.8,449.6L1942.2,483.7L1942.6,510.6Z"/><path d="M2060.4,618.1L2064.0,618.1L2070.5,623.4L2074.8,626.8L2081.5,633.5L2082.8,638.6L2079.2,642.3L2075.1,644.2L2070.6,643.0L2066.8,637.6L2063.6,630.2L2063.2,624.1Z"/></g><g id="r87"><path d="M2082.9,498.0L2083.3,500.9L2085.8,505.2L2086.0,507.8L2079.7,507.9L2070.0,506.4L2063.9,505.7L2058.5,502.4L2047.8,501.5L2036.6,497.7L2028.5,494.4L2020.4,491.9L2021.2,485.6L2024.9,482.5L2027.5,480.9L2034.1,482.9L2043.2,487.4L2047.7,488.3L2051.3,491.5L2057.7,492.9L2064.8,495.9L2073.8,497.4Z"/></g><g id="r88"><path d="M2110.1,498.7L2113.9,500.9L2114.9,505.0L2108.9,505.2L2102.3,504.7L2097.9,505.8L2090.2,503.2L2089.5,501.9L2092.7,496.9L2096.1,495.2L2102.1,496.8L2106.1,496.9Z"/></g><g id="r89"><path d="M2251.0,540.1L2243.2,545.8L2239.4,552.0L2239.6,556.6L2248.5,563.6L2259.4,572.2L2268.2,576.3L2275.3,581.6L2284.2,593.9L2288.1,605.6L2283.5,610.0L2276.2,614.3L2272.1,619.9L2264.8,626.1L2260.1,621.8L2260.5,617.3L2252.9,613.5L2258.7,610.8L2266.8,610.3L2261.6,606.3L2272.7,601.1L2270.3,593.2L2266.6,588.8L2265.2,582.1L2261.2,577.4L2253.4,572.9L2246.1,567.0L2236.3,559.2L2225.4,555.2L2226.6,552.9L2230.8,551.1L2225.5,545.4L2215.9,545.3L2210.0,539.3L2203.4,534.1L2206.9,532.4L2212.9,532.5L2220.1,531.7L2225.1,528.2L2229.8,530.7L2237.4,531.9L2237.8,535.7L2242.5,538.4Z"/></g><g id="r90"><path d="M2189.3,549.1L2186.0,552.0L2180.6,552.3L2179.9,559.5L2177.1,560.6L2183.2,566.5L2190.0,571.3L2194.9,575.7L2194.4,581.4L2192.1,582.7L2195.3,586.0L2202.6,591.2L2205.0,594.9L2206.1,598.1L2211.6,604.1L2209.7,610.3L2208.6,617.2L2205.9,612.2L2206.3,607.1L2202.1,603.2L2199.9,595.9L2195.3,592.5L2189.6,584.5L2184.9,576.2L2179.4,570.7L2175.6,574.0L2168.5,578.8L2163.9,578.2L2158.5,576.6L2158.0,568.4L2154.0,562.2L2145.1,554.6L2145.1,552.2L2140.3,551.3L2132.8,546.0L2130.3,540.6L2133.4,541.7L2131.7,536.9L2135.0,535.3L2133.1,532.5L2134.0,530.3L2131.7,523.4L2138.2,524.9L2139.5,519.4L2138.6,516.2L2140.7,510.6L2139.0,506.8L2147.0,502.2L2152.8,503.4L2150.6,499.2L2152.8,498.0L2151.2,495.4L2155.4,494.9L2159.5,498.9L2163.4,500.5L2165.7,505.6L2167.5,511.1L2162.5,516.7L2164.7,524.6L2172.3,523.5L2176.6,529.6L2181.9,530.9L2181.9,536.4L2188.6,538.9L2192.4,540.1L2197.2,538.1L2198.6,540.9L2193.8,545.2L2193.1,547.6Z"/><path d="M2234.4,602.1L2226.2,599.1L2219.4,599.2L2218.5,594.0L2211.6,594.0L2213.9,601.3L2213.5,611.1L2213.3,617.0L2215.7,621.8L2221.0,622.0L2226.7,628.1L2230.5,634.0L2236.5,637.8L2241.7,638.7L2247.3,642.2L2245.8,645.0L2240.8,645.8L2238.8,642.3L2231.1,639.3L2230.2,640.5L2225.9,637.9L2223.2,634.6L2217.5,630.8L2212.3,627.6L2212.6,631.6L2209.6,627.8L2208.8,623.6L2208.6,617.2L2209.7,610.3L2211.6,604.1L2206.1,598.1L2205.0,594.9L2202.6,591.2L2195.3,586.0L2192.1,582.7L2194.4,581.4L2194.9,575.7L2190.0,571.3L2183.2,566.5L2177.1,560.6L2179.9,559.5L2180.6,552.3L2186.0,552.0L2189.3,549.1L2193.1,547.6L2197.3,549.7L2199.3,553.6L2204.7,554.0L2205.6,560.9L2208.2,566.9L2214.7,562.9L2217.5,564.1L2222.0,563.9L2222.6,561.6L2228.7,562.0L2236.8,567.4L2240.0,573.9L2248.7,579.7L2250.7,585.3L2249.5,588.3L2241.7,587.3L2232.1,588.6L2229.3,594.1Z"/><path d="M2249.5,588.3L2250.7,585.3L2248.7,579.7L2240.0,573.9L2236.8,567.4L2228.7,562.0L2222.6,561.6L2222.0,563.9L2217.5,564.1L2214.7,562.9L2208.2,566.9L2205.6,560.9L2204.7,554.0L2199.3,553.6L2197.3,549.7L2193.1,547.6L2193.8,545.2L2198.6,540.9L2199.9,542.5L2204.1,542.7L2199.8,535.0L2203.4,534.1L2210.0,539.3L2215.9,545.3L2225.5,545.4L2230.8,551.1L2226.6,552.9L2225.4,555.2L2236.3,559.2L2246.1,567.0L2253.4,572.9L2261.2,577.4L2265.2,582.1L2266.6,588.8L2258.7,586.3L2257.0,590.9Z"/></g><g id="r91"><path d="M2246.0,612.5L2241.3,609.1L2234.4,602.1L2229.3,594.1L2232.1,588.6L2241.7,587.3L2249.5,588.3L2257.0,590.9L2258.7,586.3L2266.6,588.8L2270.3,593.2L2272.7,601.1L2261.6,606.3L2266.8,610.3L2258.7,610.8L2252.9,613.5Z"/></g><g id="r92"><path d="M2238.8,642.3L2240.8,645.8L2245.8,645.0L2247.3,642.2L2249.4,642.8L2255.8,646.9L2261.0,651.4L2263.4,656.1L2263.8,659.1L2265.6,661.5L2267.9,665.6L2271.5,667.4L2277.3,673.6L2278.1,675.9L2272.5,676.4L2262.6,671.2L2250.8,665.8L2248.4,662.3L2242.0,657.7L2238.6,652.0L2234.2,648.3L2233.1,643.4L2230.2,640.5L2231.1,639.3Z"/></g><g id="r93"><path d="M2025.2,344.8L2032.1,343.5L2042.9,336.7L2052.1,332.9L2059.1,335.3L2066.4,335.5L2072.5,339.2L2079.6,339.5L2090.5,341.4L2095.1,336.0L2090.4,331.2L2094.3,322.8L2103.4,326.2L2110.1,327.1L2119.1,329.2L2122.9,335.2L2134.2,338.6L2140.1,337.1L2148.5,336.0L2156.0,337.2L2164.5,341.0L2170.5,345.0L2176.9,344.9L2186.2,346.2L2191.8,344.2L2200.5,342.9L2208.2,337.3L2212.8,338.2L2217.7,340.8L2225.7,340.2L2225.0,346.2L2223.6,353.9L2226.8,357.1L2230.4,356.1L2237.9,357.3L2241.9,354.4L2248.8,356.9L2257.7,362.3L2258.2,365.0L2252.2,364.1L2242.4,365.2L2238.4,367.3L2235.5,372.3L2226.0,375.3L2220.6,379.2L2212.7,377.7L2208.4,377.1L2206.8,381.8L2210.3,384.7L2212.5,387.2L2208.6,389.6L2205.2,393.6L2197.9,396.2L2187.3,396.5L2176.8,399.0L2170.0,402.9L2165.9,400.6L2157.1,400.6L2144.7,396.2L2137.2,395.1L2128.1,396.2L2112.6,394.5L2104.7,394.6L2098.8,390.3L2093.0,383.5L2088.2,382.7L2077.8,378.0L2067.8,376.9L2059.0,375.6L2055.2,372.4L2054.6,363.5L2047.5,357.4L2036.3,354.4L2029.0,350.3Z"/></g><g id="r94"><path d="M2352.0,397.0L2353.7,398.4L2350.8,397.9L2348.9,400.4L2348.0,402.9L2350.9,408.1L2347.9,409.7L2347.2,410.9L2345.6,413.0L2341.4,414.2L2339.1,416.1L2340.5,419.2L2340.1,420.0L2343.5,421.2L2349.2,424.3L2349.0,426.0L2346.1,426.5L2341.1,426.8L2339.8,430.0L2336.5,429.7L2336.3,430.4L2332.1,429.0L2331.9,430.4L2330.0,430.9L2329.1,429.6L2326.9,429.0L2324.4,427.8L2324.9,424.7L2326.2,423.9L2324.9,422.6L2324.9,418.7L2323.8,417.6L2319.3,416.8L2314.9,414.9L2318.5,410.3L2324.6,406.4L2327.0,401.3L2331.6,403.6L2337.9,403.8L2334.9,400.0L2344.5,396.9L2345.2,392.7Z"/></g><g id="r95"><path d="M2349.2,424.3L2359.6,432.6L2363.7,437.2L2367.8,445.2L2366.9,449.0L2360.9,450.3L2356.4,453.2L2350.1,453.8L2347.4,450.0L2346.2,444.8L2339.4,437.5L2344.3,436.4L2336.3,430.4L2336.5,429.7L2339.8,430.0L2341.1,426.8L2346.1,426.5L2349.0,426.0Z"/><path d="M2351.7,461.3L2356.2,459.9L2356.3,461.6Z"/><path d="M2446.7,434.7L2446.9,440.3L2450.1,443.7L2448.9,448.6L2441.3,451.8L2428.5,452.3L2422.1,460.2L2415.7,457.5L2412.8,452.3L2400.7,453.8L2393.7,457.2L2385.1,457.2L2395.1,462.3L2396.1,473.9L2392.7,476.8L2387.7,474.1L2386.5,468.0L2380.8,466.0L2375.4,461.3L2381.3,459.2L2383.1,454.9L2388.6,451.3L2391.7,446.6L2405.2,444.5L2413.8,445.9L2414.9,433.5L2421.6,436.8L2428.6,429.8L2431.3,427.1L2431.1,418.4L2425.6,410.4L2426.2,405.8L2433.2,404.5L2442.5,414.5L2445.4,420.2L2442.6,427.4Z"/><path d="M2404.9,454.0L2411.1,455.4L2413.3,457.8L2411.3,462.0L2407.1,459.8L2404.1,461.3L2404.2,465.4L2398.4,463.4L2396.8,460.2L2398.7,456.1L2403.4,456.9Z"/><path d="M2440.2,384.0L2446.0,385.6L2449.4,382.4L2455.6,390.7L2446.1,392.7L2443.7,400.0L2429.7,395.0L2430.2,403.0L2422.2,403.1L2417.4,395.9L2417.8,390.2L2425.3,389.8L2421.8,379.5L2420.7,373.7L2433.3,381.5Z"/><path d="M2386.9,509.9L2389.1,505.2L2387.1,507.2Z"/></g><g id="r96"><path d="M1857.8,369.5L1860.5,368.8L1864.0,369.9L1864.0,371.4L1860.6,371.8L1858.2,371.0Z"/></g><g id="r97"><path d="M2385.1,654.0L2380.2,656.3L2372.7,655.2L2363.4,655.2L2364.1,663.0L2362.1,665.4L2362.2,675.0L2356.3,676.4L2347.7,674.5L2344.1,675.1L2340.9,678.6L2335.5,678.1L2330.8,679.5L2323.5,675.6L2320.1,671.0L2327.2,673.4L2332.9,672.1L2331.9,666.2L2334.8,664.9L2343.9,663.4L2347.3,658.0L2349.3,653.7L2351.3,651.1L2356.5,647.4L2360.5,642.7L2362.2,637.4L2365.4,637.4L2371.1,640.8L2372.8,643.7L2379.0,645.6L2386.6,647.7L2387.3,650.3L2382.1,650.7Z"/><path d="M2349.3,653.7L2351.3,651.1L2356.5,647.4L2357.7,650.7L2359.2,655.1L2355.2,654.9L2354.6,657.2Z"/><path d="M2312.3,726.5L2303.1,726.7L2293.7,720.7L2280.5,714.8L2275.3,710.4L2266.7,704.6L2260.4,699.3L2250.2,689.5L2240.7,683.7L2235.9,677.7L2230.8,672.3L2221.8,667.9L2215.2,662.0L2207.6,658.2L2196.3,650.7L2194.2,647.2L2199.6,647.5L2212.5,648.8L2222.3,655.4L2230.3,660.1L2235.9,663.0L2246.6,670.3L2254.9,670.5L2263.7,675.2L2270.8,681.0L2278.3,684.2L2277.4,689.9L2283.1,692.3L2286.1,692.5L2289.5,697.4L2294.1,701.4L2300.3,702.0L2306.3,706.5L2308.0,715.4Z"/><path d="M2338.5,733.3L2354.8,734.1L2355.4,731.1L2372.3,734.6L2377.5,739.3L2390.7,740.7L2403.0,745.0L2394.6,747.9L2384.1,744.9L2376.6,745.1L2367.6,744.5L2359.3,743.2L2348.3,740.4L2341.8,739.6L2338.8,740.6L2322.2,737.5L2319.4,734.4L2311.6,733.8L2314.4,726.9L2324.7,727.3L2332.6,730.2L2336.3,730.7Z"/><path d="M2380.2,656.3L2378.4,662.6L2387.4,669.0L2387.5,672.2L2399.5,678.6L2390.3,679.5L2389.8,684.2L2393.0,690.5L2387.4,695.4L2390.3,702.4L2392.2,713.3L2389.8,710.8L2381.8,714.0L2376.6,709.6L2370.6,709.2L2365.4,706.9L2356.7,709.5L2352.1,706.0L2347.0,706.4L2339.8,705.6L2334.4,696.1L2329.4,694.1L2322.9,688.1L2319.1,682.0L2317.3,675.6L2320.1,671.0L2323.5,675.6L2330.8,679.5L2335.5,678.1L2340.9,678.6L2344.1,675.1L2347.7,674.5L2356.3,676.4L2362.2,675.0L2362.1,665.4L2364.1,663.0L2363.4,655.2L2372.7,655.2Z"/><path d="M2448.7,675.0L2445.5,681.9L2440.1,683.2L2431.5,681.9L2418.1,682.3L2411.4,683.2L2412.7,688.5L2423.1,694.8L2426.0,691.6L2440.1,689.2L2441.0,692.5L2436.9,691.4L2435.3,695.6L2429.4,698.3L2441.5,707.4L2441.1,709.8L2452.5,718.1L2454.7,722.8L2451.4,724.9L2446.9,722.4L2448.1,716.5L2441.3,719.3L2438.2,717.3L2438.0,714.6L2430.1,710.3L2427.4,703.4L2422.9,705.6L2427.5,713.9L2432.7,724.2L2428.0,725.2L2423.4,723.1L2422.6,716.5L2418.1,709.5L2414.7,709.5L2409.8,704.6L2411.0,700.0L2409.6,694.4L2408.8,683.9L2409.2,680.9L2413.7,675.8L2421.0,677.9L2431.7,678.8L2441.0,678.5L2446.6,673.5Z"/><path d="M2530.5,693.0L2538.7,704.4L2549.5,708.7L2552.4,701.2L2559.6,696.8L2566.9,696.8L2575.2,699.3L2582.7,701.9L2592.3,703.2L2605.1,726.6L2618.2,750.6L2607.4,744.5L2598.2,743.0L2597.2,745.1L2586.7,745.3L2587.1,739.4L2591.2,737.3L2584.8,729.3L2577.6,723.2L2558.3,717.1L2551.1,716.5L2535.3,709.9L2534.6,713.3L2531.7,714.0L2528.6,711.4L2526.9,708.3L2518.8,704.8L2526.4,702.2L2532.4,702.4L2530.7,700.4L2518.6,700.4L2513.3,696.3L2505.2,694.9L2500.0,691.5L2510.2,689.8L2513.2,687.5L2527.9,690.4Z"/><path d="M2592.3,703.2L2609.3,708.1L2626.7,712.2L2634.5,715.8L2641.1,719.5L2644.8,723.8L2661.1,728.2L2665.3,732.1L2658.1,732.9L2662.7,737.8L2672.9,742.6L2682.8,750.5L2687.5,750.3L2689.1,753.5L2696.3,754.8L2694.6,756.2L2705.3,759.4L2705.6,761.6L2700.4,762.1L2697.1,760.2L2689.4,759.3L2680.3,758.2L2671.1,753.4L2664.0,749.3L2656.0,742.8L2643.2,739.6L2637.4,741.7L2633.6,744.2L2637.6,749.6L2632.5,752.2L2627.1,750.9L2618.2,750.6L2605.1,726.6Z"/></g><g id="r98"><path d="M2482.5,748.9L2482.6,747.2L2489.0,745.5L2494.7,745.3L2496.9,744.3L2500.5,745.3L2498.4,747.3L2491.3,750.6L2485.3,752.6L2484.0,750.4Z"/></g><g id="r99"><path d="M2482.5,748.9L2484.0,750.4L2485.3,752.6L2482.5,758.3L2476.1,759.9L2474.7,759.0L2474.2,756.5L2475.6,751.9Z"/><path d="M2450.8,746.3L2456.1,745.7L2462.2,743.0L2463.1,747.1L2451.4,749.2L2439.8,748.3L2438.5,745.6L2444.5,744.1Z"/><path d="M2424.3,745.0L2429.2,744.4L2432.8,747.6L2423.8,749.1L2418.4,750.0L2413.9,750.0L2414.8,745.7L2419.3,745.6L2420.4,743.0Z"/><path d="M2391.9,743.0L2402.8,744.9L2400.1,748.2L2392.9,745.3Z"/><path d="M2405.2,744.5L2411.4,745.3L2411.4,749.0L2405.9,747.9Z"/><path d="M2451.6,759.0L2448.1,759.2L2434.4,753.9L2441.5,752.4L2447.1,754.7L2451.1,757.0Z"/><path d="M2468.0,669.8L2470.5,673.6L2475.6,674.2L2477.8,677.0L2480.4,683.1L2475.8,682.4L2476.7,686.7L2481.9,690.4L2480.0,691.2L2474.6,686.8L2467.7,677.9L2466.6,672.3Z"/><path d="M2507.3,706.7L2513.0,712.2L2504.6,709.3L2497.4,708.6L2493.0,709.1L2487.2,708.8L2487.2,704.9L2497.2,704.6Z"/><path d="M2480.1,711.7L2473.7,710.4L2470.6,707.3L2478.8,707.0L2482.0,709.3Z"/><path d="M2295.3,696.1L2302.3,695.4L2309.4,702.5L2304.9,705.3L2296.7,699.7Z"/><path d="M2317.2,703.2L2323.2,703.9L2323.1,707.5L2318.7,706.8Z"/><path d="M2219.7,675.2L2226.8,678.6L2228.4,680.7L2222.7,678.6Z"/><path d="M2238.6,691.9L2246.0,696.1L2244.9,697.5L2239.4,694.0Z"/><path d="M2546.2,724.0L2551.6,724.7L2554.8,734.2L2549.2,729.8Z"/><path d="M2527.8,738.6L2532.6,736.4L2534.4,741.6L2530.6,742.3Z"/><path d="M2539.1,689.8L2548.0,692.6L2545.9,693.3L2541.1,691.9Z"/><path d="M2474.4,743.8L2480.9,743.4L2476.9,745.6Z"/><path d="M2486.4,739.4L2493.1,739.4L2491.9,741.9L2485.8,741.6Z"/><path d="M2362.4,560.3L2368.1,562.2L2369.7,560.4L2371.2,562.2L2371.2,564.9L2376.2,569.6L2376.7,575.1L2373.2,577.3L2374.5,582.7L2378.7,587.9L2383.2,588.6L2386.3,587.8L2397.9,591.6L2398.9,595.1L2402.2,596.7L2402.9,599.8L2395.2,596.5L2390.6,593.1L2389.7,595.5L2382.8,591.6L2376.2,592.5L2371.6,591.0L2370.7,588.3L2372.3,586.6L2369.2,585.1L2369.3,587.4L2363.7,583.7L2361.2,580.8L2357.9,574.5L2362.2,576.6L2358.0,566.3L2357.8,560.2Z"/><path d="M2434.6,627.4L2437.6,631.8L2439.9,635.6L2440.2,641.8L2433.9,634.9L2431.8,638.3L2436.8,643.3L2436.1,646.5L2424.7,642.6L2420.1,637.6L2420.9,634.5L2414.4,631.3L2413.2,634.1L2409.3,633.8L2405.2,637.6L2402.9,635.6L2403.4,630.0L2407.4,628.0L2410.6,625.5L2414.9,628.5L2420.1,626.7L2419.9,623.7L2425.4,623.5L2422.4,618.3L2430.4,621.5L2432.8,624.9Z"/><path d="M2370.5,607.6L2374.5,613.1L2371.0,616.7L2369.0,621.3L2361.3,627.7L2363.0,623.0L2366.9,618.9L2369.5,614.2Z"/><path d="M2404.3,599.7L2412.0,599.8L2415.3,602.3L2421.2,609.7L2414.2,608.0L2415.5,610.2L2419.5,614.3L2416.4,615.9L2413.8,611.1L2411.2,610.8L2408.0,606.7L2412.9,607.3L2411.6,604.8Z"/><path d="M2387.6,604.1L2393.4,606.2L2398.4,606.2L2399.6,608.9L2397.3,611.8L2393.2,613.8L2391.5,610.7L2390.4,607.3Z"/><path d="M2399.3,616.9L2400.4,615.0L2399.3,610.9L2403.5,610.5L2404.4,614.9L2407.1,608.5L2409.4,614.9L2407.6,617.1L2407.2,621.3L2405.7,623.3L2398.5,618.7Z"/><path d="M2381.1,596.3L2381.7,602.0L2376.8,598.7L2370.4,593.6L2377.3,593.9Z"/><path d="M2409.2,617.4L2414.1,616.1L2415.6,618.4L2411.8,619.4Z"/></g><g id="r100"><path d="M2658.9,786.1L2665.4,792.2L2669.2,789.3L2673.9,792.6L2679.7,795.6L2680.8,799.2L2686.5,806.1L2690.0,810.0L2692.8,811.1L2699.0,818.0L2700.5,822.3L2706.5,827.9L2718.3,832.2L2726.7,836.2L2734.6,839.9L2734.6,841.9L2742.6,847.3L2751.4,856.6L2753.8,854.7L2759.5,858.5L2760.9,857.1L2767.7,866.4L2777.1,871.8L2783.1,875.2L2794.3,882.5L2801.1,889.8L2804.3,895.1L2807.1,900.8L2816.0,908.8L2820.4,917.2L2821.5,921.8L2824.2,930.5L2827.6,936.1L2830.0,943.3L2831.4,952.6L2827.6,957.6L2828.9,965.8L2828.9,970.9L2831.4,980.1L2831.0,985.6L2833.5,993.8L2836.7,1001.5L2839.2,1005.1L2836.0,1009.0L2825.9,1009.4L2820.0,1014.1L2818.2,1018.6L2815.5,1023.7L2804.8,1018.4L2798.0,1016.4L2796.1,1010.5L2792.3,1012.6L2788.7,1021.0L2778.9,1017.8L2772.6,1016.0L2766.9,1015.2L2756.0,1011.8L2746.2,1004.8L2739.9,996.2L2732.3,986.2L2727.8,986.2L2718.3,984.9L2718.5,979.7L2712.1,971.7L2711.6,979.2L2704.4,981.1L2706.1,975.2L2704.2,969.0L2705.0,963.9L2700.2,956.2L2697.5,965.0L2693.6,968.6L2694.6,977.1L2685.2,972.7L2682.5,967.1L2672.8,959.5L2666.0,955.7L2666.5,953.3L2651.7,947.1L2645.1,946.8L2633.9,941.9L2618.2,942.8L2608.2,946.5L2599.5,949.8L2590.6,949.2L2583.5,954.4L2576.7,956.8L2577.6,962.2L2576.3,966.5L2568.6,966.7L2563.3,967.6L2554.4,965.8L2548.4,966.9L2542.3,967.4L2539.5,973.1L2536.6,972.5L2533.5,975.6L2530.5,978.9L2523.8,978.6L2517.6,978.6L2504.7,971.8L2498.9,969.8L2496.3,963.7L2500.3,962.3L2500.7,959.9L2498.7,956.2L2496.6,949.1L2492.8,943.0L2483.4,932.9L2479.4,927.3L2477.3,921.8L2470.9,915.5L2469.4,912.7L2463.7,908.9L2459.3,901.5L2450.9,894.1L2448.0,890.3L2453.6,894.2L2446.8,885.7L2452.4,888.4L2456.6,891.9L2454.4,887.3L2446.8,880.1L2444.7,877.2L2441.4,874.5L2440.1,869.5L2440.9,867.2L2440.1,862.8L2437.0,857.8L2437.7,851.5L2441.4,858.1L2442.4,852.2L2448.2,849.3L2450.8,845.6L2456.0,842.5L2459.7,841.8L2462.5,842.9L2467.9,839.7L2472.8,838.8L2473.3,836.9L2475.2,836.2L2480.2,836.4L2488.1,833.9L2491.0,830.2L2491.2,825.8L2494.2,821.6L2493.1,818.3L2491.1,813.8L2493.9,807.1L2500.9,814.0L2503.8,812.4L2498.8,808.6L2499.7,804.6L2504.3,806.4L2502.4,800.3L2505.2,796.4L2505.7,793.3L2509.4,791.9L2508.5,789.7L2512.7,790.7L2511.8,788.7L2515.0,787.5L2518.6,786.5L2526.7,790.1L2533.8,794.8L2539.2,794.9L2544.9,795.6L2541.0,791.2L2541.9,785.0L2544.7,782.9L2542.4,781.0L2543.9,776.6L2547.6,773.8L2552.4,774.7L2558.8,773.3L2556.6,769.4L2549.1,766.8L2553.1,765.8L2559.7,767.7L2565.8,770.8L2573.9,772.7L2575.9,772.0L2582.4,774.3L2586.2,772.1L2589.8,772.8L2591.0,771.4L2596.8,775.1L2596.8,779.3L2595.2,782.4L2592.4,782.6L2595.0,785.7L2594.5,789.7L2593.6,793.6L2595.3,795.8L2604.5,800.2L2612.4,802.7L2618.3,805.5L2627.0,810.3L2629.5,810.3L2635.1,812.3L2637.7,814.8L2647.5,817.6L2651.7,814.8L2650.9,810.4L2650.7,806.9L2649.4,802.5L2648.6,796.1L2645.3,792.3L2644.7,790.0L2641.3,785.6L2639.2,779.7L2640.0,778.1L2637.3,775.6L2637.1,771.5L2636.4,767.3L2635.4,765.1L2637.1,762.3L2641.5,766.0L2644.7,770.7L2647.3,771.7L2649.4,775.0L2654.6,778.8L2657.7,783.2Z"/><path d="M2537.2,767.1L2544.8,767.1L2544.4,771.3L2538.7,770.1Z"/></g><g id="r101"><path d="M216.8,557.0L225.9,552.4L221.5,548.7L217.8,552.4Z"/><path d="M216.6,544.4L221.7,545.1L218.0,546.4Z"/><path d="M206.8,540.1L210.7,540.8L207.2,541.8Z"/><path d="M197.1,536.5L200.7,536.2L198.4,537.8Z"/></g><g id="r102"><path d="M1291.9,494.8L1297.9,493.5L1294.2,497.2Z"/><path d="M1300.2,497.2L1303.2,496.2L1302.8,498.9Z"/><path d="M1310.0,496.9L1314.8,492.5L1312.2,495.9Z"/><path d="M1314.8,491.1L1317.8,489.1L1317.4,490.8Z"/><path d="M1283.6,491.8L1285.5,491.8L1284.8,493.8Z"/><path d="M1289.3,464.4L1293.4,464.7L1291.6,465.7Z"/></g><g id="r103"><path d="M1936.7,836.6L1941.5,838.3L1939.5,840.8Z"/></g><g id="r104"><path d="M1920.6,845.0L1926.0,845.9L1923.9,848.0Z"/></g><g id="r105"><path d="M1800.4,767.8L1802.9,769.4L1802.5,771.7Z"/></g><g id="r106"><path d="M2153.2,593.4L2158.1,600.1L2157.2,606.1L2153.9,599.4Z"/></g><g id="r107"><path d="M1227.8,429.3L1231.4,429.7L1229.2,430.7Z"/></g><g id="r108"><path d="M1236.3,583.5L1240.2,581.5L1240.6,584.1Z"/></g><mask id="mk" maskUnits="userSpaceOnUse" x="0" y="0" width="2588" height="1100"><rect width="2588" height="1100" fill="#fff"/><g stroke="none"><use href="#r0" fill="#fff"/><use href="#r1" fill="#000"/><use href="#r2" fill="#000"/><use href="#r3" fill="#000"/><use href="#r4" fill="#fff"/><use href="#r5" fill="#000"/><use href="#r6" fill="#000"/><use href="#r7" fill="#000"/><use href="#r8" fill="#000"/><use href="#r9" fill="#000"/><use href="#r10" fill="#000"/><use href="#r11" fill="#000"/><use href="#r12" fill="#000"/><use href="#r13" fill="#fff"/><use href="#r14" fill="#000"/><use href="#r15" fill="#000"/><use href="#r16" fill="#000"/><use href="#r17" fill="#fff"/><use href="#r18" fill="#000"/><use href="#r19" fill="#000"/><use href="#r20" fill="#000"/><use href="#r21" fill="#000"/><use href="#r22" fill="#000"/><use href="#r23" fill="#000"/><use href="#r24" fill="#000"/><use href="#r25" fill="#fff"/><use href="#r26" fill="#fff"/><use href="#r27" fill="#000"/><use href="#r28" fill="#000"/><use href="#r29" fill="#000"/><use href="#r30" fill="#000"/><use href="#r31" fill="#000"/><use href="#r32" fill="#000"/><use href="#r33" fill="#000"/><use href="#r34" fill="#fff"/><use href="#r35" fill="#000"/><use href="#r36" fill="#000"/><use href="#r37" fill="#000"/><use href="#r38" fill="#000"/><use href="#r39" fill="#000"/><use href="#r40" fill="#000"/><use href="#r41" fill="#000"/><use href="#r42" fill="#000"/><use href="#r43" fill="#000"/><use href="#r44" fill="#000"/><use href="#r45" fill="#000"/><use href="#r46" fill="#000"/><use href="#r47" fill="#000"/><use href="#r48" fill="#000"/><use href="#r49" fill="#000"/><use href="#r50" fill="#000"/><use href="#r51" fill="#000"/><use href="#r52" fill="#000"/><use href="#r53" fill="#000"/><use href="#r54" fill="#fff"/><use href="#r55" fill="#000"/><use href="#r56" fill="#fff"/><use href="#r57" fill="#000"/><use href="#r58" fill="#000"/><use href="#r59" fill="#fff"/><use href="#r60" fill="#000"/><use href="#r61" fill="#000"/><use href="#r62" fill="#000"/><use href="#r63" fill="#000"/><use href="#r64" fill="#000"/><use href="#r65" fill="#000"/><use href="#r66" fill="#000"/><use href="#r67" fill="#000"/><use href="#r68" fill="#000"/><use href="#r69" fill="#000"/><use href="#r70" fill="#000"/><use href="#r71" fill="#000"/><use href="#r72" fill="#000"/><use href="#r73" fill="#000"/><use href="#r74" fill="#000"/><use href="#r75" fill="#000"/><use href="#r76" fill="#000"/><use href="#r77" fill="#fff"/><use href="#r78" fill="#000"/><use href="#r79" fill="#000"/><use href="#r80" fill="#000"/><use href="#r81" fill="#000"/><use href="#r82" fill="#000"/><use href="#r83" fill="#000"/><use href="#r84" fill="#000"/><use href="#r85" fill="#fff"/><use href="#r86" fill="#000"/><use href="#r87" fill="#000"/><use href="#r88" fill="#fff"/><use href="#r89" fill="#000"/><use href="#r90" fill="#000"/><use href="#r91" fill="#000"/><use href="#r92" fill="#000"/><use href="#r93" fill="#000"/><use href="#r94" fill="#000"/><use href="#r95" fill="#000"/><use href="#r96" fill="#fff"/><use href="#r97" fill="#000"/><use href="#r98" fill="#000"/><use href="#r99" fill="#000"/><use href="#r100" fill="#000"/><use href="#r101" fill="#000"/><use href="#r102" fill="#fff"/><use href="#r103" fill="#000"/><use href="#r104" fill="#fff"/><use href="#r105" fill="#000"/><use href="#r106" fill="#000"/><use href="#r107" fill="#000"/><use href="#r108" fill="#000"/></g></mask><filter id="dl" x="0" y="0" width="100%" height="100%"><feMorphology operator="dilate" radius="0.75"/></filter><mask id="sea" maskUnits="userSpaceOnUse" x="0" y="0" width="2588" height="1100"><g filter="url(#dl)"><rect width="2588" height="1100" fill="#fff"/><g stroke="#000" stroke-width=".5"><use href="#r0" fill="#000"/><use href="#r1" fill="#000"/><use href="#r2" fill="#000"/><use href="#r3" fill="#000"/><use href="#r4" fill="#000"/><use href="#r5" fill="#000"/><use href="#r6" fill="#000"/><use href="#r7" fill="#000"/><use href="#r8" fill="#000"/><use href="#r9" fill="#000"/><use href="#r10" fill="#000"/><use href="#r11" fill="#000"/><use href="#r12" fill="#000"/><use href="#r13" fill="#000"/><use href="#r14" fill="#000"/><use href="#r15" fill="#000"/><use href="#r16" fill="#000"/><use href="#r17" fill="#000"/><use href="#r18" fill="#000"/><use href="#r19" fill="#000"/><use href="#r20" fill="#000"/><use href="#r21" fill="#000"/><use href="#r22" fill="#000"/><use href="#r23" fill="#000"/><use href="#r24" fill="#000"/><use href="#r25" fill="#fff" stroke="none"/><use href="#r26" fill="#000"/><use href="#r27" fill="#000"/><use href="#r28" fill="#000"/><use href="#r29" fill="#000"/><use href="#r30" fill="#000"/><use href="#r31" fill="#000"/><use href="#r32" fill="#000"/><use href="#r33" fill="#000"/><use href="#r34" fill="#000"/><use href="#r35" fill="#000"/><use href="#r36" fill="#000"/><use href="#r37" fill="#000"/><use href="#r38" fill="#000"/><use href="#r39" fill="#000"/><use href="#r40" fill="#000"/><use href="#r41" fill="#000"/><use href="#r42" fill="#000"/><use href="#r43" fill="#000"/><use href="#r44" fill="#000"/><use href="#r45" fill="#000"/><use href="#r46" fill="#000"/><use href="#r47" fill="#000"/><use href="#r48" fill="#000"/><use href="#r49" fill="#000"/><use href="#r50" fill="#000"/><use href="#r51" fill="#000"/><use href="#r52" fill="#000"/><use href="#r53" fill="#000"/><use href="#r54" fill="#000"/><use href="#r55" fill="#000"/><use href="#r56" fill="#000"/><use href="#r57" fill="#000"/><use href="#r58" fill="#000"/><use href="#r59" fill="#000"/><use href="#r60" fill="#000"/><use href="#r61" fill="#000"/><use href="#r62" fill="#000"/><use href="#r63" fill="#000"/><use href="#r64" fill="#000"/><use href="#r65" fill="#000"/><use href="#r66" fill="#000"/><use href="#r67" fill="#000"/><use href="#r68" fill="#000"/><use href="#r69" fill="#000"/><use href="#r70" fill="#000"/><use href="#r71" fill="#000"/><use href="#r72" fill="#000"/><use href="#r73" fill="#000"/><use href="#r74" fill="#000"/><use href="#r75" fill="#000"/><use href="#r76" fill="#000"/><use href="#r77" fill="#000"/><use href="#r78" fill="#000"/><use href="#r79" fill="#000"/><use href="#r80" fill="#000"/><use href="#r81" fill="#000"/><use href="#r82" fill="#000"/><use href="#r83" fill="#000"/><use href="#r84" fill="#000"/><use href="#r85" fill="#000"/><use href="#r86" fill="#000"/><use href="#r87" fill="#000"/><use href="#r88" fill="#000"/><use href="#r89" fill="#000"/><use href="#r90" fill="#000"/><use href="#r91" fill="#000"/><use href="#r92" fill="#000"/><use href="#r93" fill="#000"/><use href="#r94" fill="#000"/><use href="#r95" fill="#000"/><use href="#r96" fill="#000"/><use href="#r97" fill="#000"/><use href="#r98" fill="#000"/><use href="#r99" fill="#000"/><use href="#r100" fill="#000"/><use href="#r101" fill="#000"/><use href="#r102" fill="#000"/><use href="#r103" fill="#000"/><use href="#r104" fill="#000"/><use href="#r105" fill="#000"/><use href="#r106" fill="#000"/><use href="#r107" fill="#000"/><use href="#r108" fill="#000"/></g></g></mask></defs><g stroke="#fff" stroke-opacity=".55" stroke-width="1.1" stroke-linejoin="round"><use href="#r0" fill="#fcfcfc"/><use href="#r1" fill="#4cb1a0"/><use href="#r2" fill="#6ecd8b"/><use href="#r3" fill="#4cb1a0"/><use href="#r4" fill="#fcfcfc"/><use href="#r5" fill="#6ecd8b"/><use href="#r6" fill="#4cb1a0"/><use href="#r7" fill="#6ecd8b"/><use href="#r8" fill="#6b5b9b"/><use href="#r9" fill="#5097a6"/><use href="#r10" fill="#5c7aa6"/><use href="#r11" fill="#5097a6"/><use href="#r12" fill="#4cb1a0"/><use href="#r13" fill="#fcfcfc"/><use href="#r14" fill="#6b2f7b"/><use href="#r15" fill="#6b5b9b"/><use href="#r16" fill="#5097a6"/><use href="#r17" fill="#fcfcfc"/><use href="#r18" fill="#6b2f7b"/><use href="#r19" fill="#5c7aa6"/><use href="#r20" fill="#5097a6"/><use href="#r21" fill="#4cb1a0"/><use href="#r22" fill="#5c7aa6"/><use href="#r23" fill="#5097a6"/><use href="#r24" fill="#4cb1a0"/><use href="#r25" fill="#dcdcdc"/><use href="#r26" fill="#fcfcfc"/><use href="#r27" fill="#b4e062"/><use href="#r28" fill="#5097a6"/><use href="#r29" fill="#b4e062"/><use href="#r30" fill="#6b5b9b"/><use href="#r31" fill="#b4e062"/><use href="#r32" fill="#6b5b9b"/><use href="#r33" fill="#5c7aa6"/><use href="#r34" fill="#fcfcfc"/><use href="#r35" fill="#5c7aa6"/><use href="#r36" fill="#5097a6"/><use href="#r37" fill="#6b5b9b"/><use href="#r38" fill="#6b2f7b"/><use href="#r39" fill="#6b5b9b"/><use href="#r40" fill="#5c7aa6"/><use href="#r41" fill="#6b5b9b"/><use href="#r42" fill="#5c7aa6"/><use href="#r43" fill="#5097a6"/><use href="#r44" fill="#4cb1a0"/><use href="#r45" fill="#6b5b9b"/><use href="#r46" fill="#5c7aa6"/><use href="#r47" fill="#6b2f7b"/><use href="#r48" fill="#6b5b9b"/><use href="#r49" fill="#5c7aa6"/><use href="#r50" fill="#5097a6"/><use href="#r51" fill="#6b2f7b"/><use href="#r52" fill="#6b5b9b"/><use href="#r53" fill="#4cb1a0"/><use href="#r54" fill="#fcfcfc"/><use href="#r55" fill="#6ecd8b"/><use href="#r56" fill="#fcfcfc"/><use href="#r57" fill="#6ecd8b"/><use href="#r58" fill="#5c7aa6"/><use href="#r59" fill="#fcfcfc"/><use href="#r60" fill="#6ecd8b"/><use href="#r61" fill="#4cb1a0"/><use href="#r62" fill="#5097a6"/><use href="#r63" fill="#6ecd8b"/><use href="#r64" fill="#4cb1a0"/><use href="#r65" fill="#5097a6"/><use href="#r66" fill="#4cb1a0"/><use href="#r67" fill="#5097a6"/><use href="#r68" fill="#b4e062"/><use href="#r69" fill="#5097a6"/><use href="#r70" fill="#5c7aa6"/><use href="#r71" fill="#5097a6"/><use href="#r72" fill="#4cb1a0"/><use href="#r73" fill="#5c7aa6"/><use href="#r74" fill="#5097a6"/><use href="#r75" fill="#4cb1a0"/><use href="#r76" fill="#5c7aa6"/><use href="#r77" fill="#fcfcfc"/><use href="#r78" fill="#5097a6"/><use href="#r79" fill="#4cb1a0"/><use href="#r80" fill="#6b2f7b"/><use href="#r81" fill="#5c7aa6"/><use href="#r82" fill="#6b5b9b"/><use href="#r83" fill="#5097a6"/><use href="#r84" fill="#b4e062"/><use href="#r85" fill="#fcfcfc"/><use href="#r86" fill="#b4e062"/><use href="#r87" fill="#5097a6"/><use href="#r88" fill="#fcfcfc"/><use href="#r89" fill="#b4e062"/><use href="#r90" fill="#4cb1a0"/><use href="#r91" fill="#8fd573"/><use href="#r92" fill="#4cb1a0"/><use href="#r93" fill="#5c7aa6"/><use href="#r94" fill="#6b5b9b"/><use href="#r95" fill="#4cb1a0"/><use href="#r96" fill="#fcfcfc"/><use href="#r97" fill="#4cb1a0"/><use href="#r98" fill="#6b2f7b"/><use href="#r99" fill="#4cb1a0"/><use href="#r100" fill="#5097a6"/><use href="#r101" fill="#6ecd8b"/><use href="#r102" fill="#fcfcfc"/><use href="#r103" fill="#4cb1a0"/><use href="#r104" fill="#fcfcfc"/><use href="#r105" fill="#6b5b9b"/><use href="#r106" fill="#b4e062"/><use href="#r107" fill="#5c7aa6"/><use href="#r108" fill="#5097a6"/><path fill="none" d="M2022.6,346.4L2015.7,340.9L2008.3,341.7L2004.4,338.5L1998.9,336.9L1993.8,332.1L1990.0,331.3L1981.0,333.3L1977.4,332.9L1969.8,328.9L1966.8,332.5L1956.8,323.2L1945.7,312.5L1933.6,305.0L1921.0,310.8L1913.5,306.7L1914.1,310.8L1897.5,305.8L1893.0,295.6L1879.1,294.8L1857.1,301.6L1829.9,307.5L1829.8,315.0L1837.5,315.4L1830.2,321.6L1827.2,331.3L1837.2,329.7L1838.8,332.9L1826.9,332.9L1825.4,334.9L1816.0,330.9L1804.8,330.9L1798.1,334.5L1788.9,331.3L1773.0,325.7L1761.5,325.7L1749.3,334.5L1749.8,340.1L1741.2,335.7L1737.9,344.4L1740.3,346.0L1737.7,351.9L1744.5,357.3L1749.7,356.9L1755.6,365.7L1759.5,367.2"/><path fill="none" d="M1383.6,517.2L1371.3,517.5L1376.0,546.2L1380.8,574.7L1382.1,575.5L1380.6,580.2L1349.3,580.2L1348.1,581.7L1345.1,581.3L1340.7,582.6L1335.2,580.8L1332.7,580.9L1331.5,584.8L1328.9,586.0"/><path fill="none" d="M1455.4,556.0L1456.6,571.2L1452.6,575.7L1452.3,579.7L1445.4,580.8L1434.8,581.4L1432.1,583.7L1427.0,583.9L1422.0,584.0L1420.0,582.7L1415.7,583.7L1408.6,586.4L1407.2,588.4L1401.2,591.4L1400.3,593.2L1397.0,594.5L1393.1,593.6L1391.1,595.2L1390.1,599.8L1384.1,605.3L1384.3,607.5L1382.3,610.4L1382.0,613.9"/><path fill="none" d="M1427.0,583.9L1426.6,587.2L1427.8,590.2L1432.5,594.5L1432.9,597.7L1442.1,599.2L1442.2,603.8L1444.2,604.1"/><path fill="none" d="M1988.6,446.2L1983.4,452.0L1975.5,453.0L1963.8,451.3L1961.1,454.3L1965.5,460.3L1969.6,465.0L1976.6,468.3L1971.6,472.3L1973.1,477.1L1968.0,483.9L1965.4,490.7L1959.7,497.8L1950.8,497.3L1944.6,504.3L1950.5,507.3L1952.8,512.4L1958.1,515.8L1961.3,521.5L1944.6,521.5L1940.8,525.9"/><path fill="none" d="M1961.2,435.4L1965.3,434.7L1971.7,437.9L1975.6,443.3L1988.6,446.2L1999.1,454.3L2000.2,459.8L2004.4,463.4L2005.3,466.9L1999.6,465.9L2004.2,473.4L2012.9,477.8L2024.9,482.5"/><path fill="none" d="M2082.9,498.0L2087.0,496.6L2089.5,501.9"/><path fill="none" d="M2110.1,498.7L2115.8,497.9L2120.8,492.9L2127.9,488.6L2134.7,490.3L2139.0,487.4L2144.2,491.6L2142.7,494.4L2151.2,495.4"/><path fill="none" d="M2103.8,536.8L2100.7,531.3L2096.2,526.3L2096.1,522.4L2090.7,520.6L2091.5,518.1L2095.4,515.6L2088.6,512.1L2089.6,507.6L2096.8,510.5L2100.4,510.8L2102.8,515.4L2110.4,516.4L2117.4,516.2L2122.2,517.4L2120.8,523.0L2117.5,523.4L2116.6,527.2L2122.0,530.6L2121.7,526.4L2123.8,526.3L2131.7,536.9"/><path fill="none" d="M1353.9,499.4L1320.0,499.4"/><path fill="none" d="M1349.8,400.9L1354.6,400.0L1363.2,400.3L1369.1,402.9L1364.2,407.2L1364.0,413.0L1363.8,416.9L1360.2,416.9L1363.9,420.8L1362.2,425.4L1364.1,427.2L1360.6,431.8L1361.4,434.4" stroke="#d4d4d4" stroke-opacity="1" stroke-width="1"/><path fill="none" d="M1400.3,389.9L1403.1,392.3L1408.2,393.4L1418.3,394.5L1423.7,395.6L1425.9,396.3L1427.8,397.4L1436.2,396.8" stroke="#d4d4d4" stroke-opacity="1" stroke-width="1"/><path fill="none" d="M1466.7,386.9L1467.7,384.1L1462.2,382.3L1462.2,377.8L1459.6,376.7L1462.0,371.0" stroke="#d4d4d4" stroke-opacity="1" stroke-width="1"/><path fill="none" d="M1464.8,358.2L1464.1,354.2L1467.4,347.6L1463.8,346.8L1457.8,345.8L1454.8,343.5L1450.9,342.9L1444.1,340.9L1443.6,338.1L1439.1,339.3L1439.3,336.9L1432.1,333.3L1427.4,330.5" stroke="#d4d4d4" stroke-opacity="1" stroke-width="1"/><path fill="none" d="M1432.9,328.3L1439.4,328.5L1444.2,327.7L1450.3,330.1L1449.1,332.9L1451.6,333.3L1453.1,335.3L1453.0,338.1L1455.7,340.9L1454.8,343.5" stroke="#d4d4d4" stroke-opacity="1" stroke-width="1"/><path fill="none" d="M1450.9,342.9L1450.3,339.3L1453.0,338.1" stroke="#d4d4d4" stroke-opacity="1" stroke-width="1"/><path fill="none" d="M1451.6,333.3L1451.4,330.5L1452.5,327.3L1450.6,324.8L1456.4,323.6L1455.6,322.4L1457.9,321.2L1455.2,317.9L1457.6,317.9L1458.3,312.9" stroke="#d4d4d4" stroke-opacity="1" stroke-width="1"/><path fill="none" d="M1467.1,299.0L1472.6,299.9" stroke="#d4d4d4" stroke-opacity="1" stroke-width="1"/><path fill="none" d="M1506.3,307.5L1507.9,312.5L1506.5,316.2L1509.9,318.3L1511.4,322.8L1510.6,324.8L1513.8,328.9L1512.8,332.5L1509.1,330.9L1500.6,335.7L1494.4,336.9L1497.5,340.1L1498.9,343.6L1507.5,348.7L1505.3,350.7L1500.7,354.2L1502.8,357.3L1497.2,357.7L1488.9,359.6L1484.9,358.4L1478.6,358.6" stroke="#d4d4d4" stroke-opacity="1" stroke-width="1"/><path fill="none" d="M1512.8,332.5L1517.0,332.9L1523.4,334.1L1524.0,336.1L1527.8,335.7L1527.7,337.7L1533.5,336.9L1535.9,339.3L1542.3,343.3L1537.4,346.4L1531.3,348.4L1529.8,350.3L1523.7,349.1L1515.8,347.2L1514.0,350.3L1507.5,348.7" stroke="#d4d4d4" stroke-opacity="1" stroke-width="1"/><path fill="none" d="M1542.3,343.3L1546.4,342.5L1549.2,345.6L1554.7,344.0L1561.6,343.6L1568.6,346.6" stroke="#d4d4d4" stroke-opacity="1" stroke-width="1"/><path fill="none" d="M1564.6,303.6L1569.9,307.1" stroke="#d4d4d4" stroke-opacity="1" stroke-width="1"/><path fill="none" d="M1485.4,363.4L1490.3,363.1L1497.3,362.1L1499.3,365.0L1508.7,366.3L1514.8,367.2L1522.3,365.0L1524.7,363.8L1525.3,363.7L1528.1,362.7L1527.4,359.6L1531.3,357.3L1531.8,355.0L1529.8,350.3" stroke="#d4d4d4" stroke-opacity="1" stroke-width="1"/><path fill="none" d="M1531.8,355.0L1536.6,356.9L1543.9,356.5L1549.1,353.0L1554.8,350.7L1561.5,350.7L1566.5,351.9" stroke="#d4d4d4" stroke-opacity="1" stroke-width="1"/><path fill="none" d="M1572.3,355.4L1566.4,358.8L1561.6,368.0L1555.5,369.4" stroke="#d4d4d4" stroke-opacity="1" stroke-width="1"/><path fill="none" d="M1525.3,363.7L1528.5,366.5L1534.6,370.7L1542.6,372.2L1545.7,371.0" stroke="#d4d4d4" stroke-opacity="1" stroke-width="1"/><path fill="none" d="M1508.8,374.4L1514.4,374.1L1520.9,374.4L1523.0,371.4L1522.7,368.8L1528.5,366.5" stroke="#d4d4d4" stroke-opacity="1" stroke-width="1"/><path fill="none" d="M1508.7,366.3L1506.8,368.8L1508.5,371.8L1509.7,372.9" stroke="#d4d4d4" stroke-opacity="1" stroke-width="1"/><path fill="none" d="M1574.5,383.6L1576.5,386.4L1584.5,387.5L1595.3,387.9L1605.5,384.5L1617.2,387.2" stroke="#d4d4d4" stroke-opacity="1" stroke-width="1"/><path fill="none" d="M1579.2,404.7L1586.8,403.6L1595.7,405.4L1602.1,404.7L1603.6,402.1" stroke="#d4d4d4" stroke-opacity="1" stroke-width="1"/><path fill="none" d="M1480.8,263.7L1484.8,260.1L1483.6,254.5L1488.7,251.7L1485.9,244.1L1489.5,240.3L1484.6,237.3L1485.4,232.0L1482.4,221.5L1486.3,214.4L1492.8,213.9L1495.0,209.8L1491.9,208.2L1496.6,200.9L1496.3,191.7L1501.6,190.1L1506.7,180.2L1504.4,177.4L1511.3,170.0L1515.3,171.7L1516.1,165.3L1528.2,167.1L1529.1,158.9L1535.0,155.9L1543.0,163.0L1551.3,163.0L1559.7,164.2L1564.2,159.5L1564.2,151.1L1575.6,146.8L1585.9,155.9L1584.1,158.9" stroke="#d4d4d4" stroke-opacity="1" stroke-width="1"/><path fill="none" d="M1529.1,158.9L1538.3,166.5L1552.2,171.7L1551.3,177.4L1556.2,184.6L1554.7,190.1L1558.7,195.5" stroke="#d4d4d4" stroke-opacity="1" stroke-width="1"/><path fill="none" d="M1570.9,273.1L1577.2,271.9L1585.9,276.4L1591.7,276.2" stroke="#d4d4d4" stroke-opacity="1" stroke-width="1"/><path fill="none" d="M1550.7,289.0L1556.8,286.1L1576.5,286.1L1584.6,290.0L1589.0,292.4" stroke="#d4d4d4" stroke-opacity="1" stroke-width="1"/><path fill="none" d="M1607.7,553.7L1611.2,578.8L1604.2,578.8L1600.9,589.4L1599.6,596.7L1596.8,599.4L1600.7,599.1L1603.7,610.1L1606.7,610.6" stroke="#d4d4d4" stroke-opacity="1" stroke-width="1"/><path fill="none" d="M1606.7,610.6L1601.6,610.3L1597.9,612.9L1593.1,620.2L1586.1,623.4L1578.3,623.0L1576.1,623.6L1577.2,625.9L1573.4,628.3L1570.2,630.9L1560.6,633.5L1558.4,632.0L1557.0,631.8L1555.8,633.5L1550.9,633.5" stroke="#d4d4d4" stroke-opacity="1" stroke-width="1"/><path fill="none" d="M1606.7,610.6L1612.9,616.1L1613.3,618.9L1612.3,621.6L1613.2,623.8L1616.2,625.7L1622.7,628.6" stroke="#d4d4d4" stroke-opacity="1" stroke-width="1"/><path fill="none" d="M1622.7,628.6L1619.2,625.2L1621.8,624.0L1623.0,618.0L1624.8,614.9L1630.3,614.0L1631.9,615.8L1636.7,619.7L1638.9,620.3L1641.6,619.1L1647.3,619.4L1648.6,620.8L1656.6,620.8L1656.6,619.4L1660.6,618.1L1661.0,616.2L1663.8,614.8L1671.1,618.7L1675.1,618.0L1678.2,613.2L1682.0,609.5L1680.6,605.5L1678.4,603.6L1683.1,603.3L1683.4,601.7L1687.1,602.2L1687.0,607.1L1688.8,611.9L1693.3,614.5L1694.7,616.9L1695.1,620.2L1696.2,620.4L1697.3,620.1" stroke="#d4d4d4" stroke-opacity="1" stroke-width="1"/><path fill="none" d="M1622.7,628.6L1627.4,631.3L1627.8,633.5L1633.8,637.0L1637.5,639.9L1640.2,644.0L1646.5,646.7L1648.1,648.9L1648.5,650.0" stroke="#d4d4d4" stroke-opacity="1" stroke-width="1"/><path fill="none" d="M1710.1,588.1L1708.5,584.7L1710.1,574.9L1710.0,570.5L1712.2,568.5L1717.6,567.4L1720.9,563.6L1722.0,563.6" stroke="#d4d4d4" stroke-opacity="1" stroke-width="1"/><path fill="none" d="M1759.3,600.3L1764.5,598.7" stroke="#d4d4d4" stroke-opacity="1" stroke-width="1"/></g><rect width="2588" height="1100" fill="#dcdcdc" mask="url(#sea)"/><g font-family="Liberation Sans, sans-serif" text-anchor="middle"><g fill="#000" fill-opacity=".2" stroke="#000" stroke-opacity=".12" stroke-width=".9"><text transform="translate(1141.7,93.5) scale(0.8,1)" font-size="22.2">Greenland</text><text transform="translate(684.6,301.9) scale(0.8,1)" font-size="23.4">Canada</text><text transform="translate(638.0,533.1) scale(0.8,1)" font-size="24.7">Mexico</text><text transform="translate(811.6,546.6) scale(0.8,1)" font-size="24.7">Cuba</text><text transform="translate(833.2,672.3) scale(0.8,1)" font-size="25.4">Colombia</text><text transform="translate(798.0,767.7) scale(0.8,1)" font-size="25.9">Peru</text><text transform="translate(925.6,874.4) scale(0.8,1)" font-size="26.5">Paraguay</text><text transform="translate(819.0,904.9) scale(0.8,1)" font-size="26.7">Chile</text><text transform="translate(934.0,965.1) scale(0.8,1)" font-size="27.0">Uruguay</text><text transform="translate(855.2,1002.2) scale(0.8,1)" font-size="27.2">Argentina</text><text transform="translate(1511.0,27.0) scale(0.8,1)" font-size="21.9">Svalbard</text><text transform="translate(1280.2,212.0) scale(0.8,1)" font-size="22.9">Iceland</text><text transform="translate(1517.4,213.1) scale(0.8,1)" font-size="22.9">Sweden</text><text transform="translate(1462.6,250.8) scale(0.8,1)" font-size="23.1">Norway</text><text transform="translate(1391.9,301.2) scale(0.8,1)" font-size="23.4">United</text><text transform="translate(1391.9,325.3) scale(0.8,1)" font-size="23.5">Kingdom</text><text transform="translate(1429.9,364.9) scale(0.8,1)" font-size="23.7">France</text><text transform="translate(1504.1,405.2) scale(0.8,1)" font-size="24.0">Italy</text><text transform="translate(1384.3,413.8) scale(0.8,1)" font-size="24.0">Spain</text><text transform="translate(1586.0,432.9) scale(0.8,1)" font-size="24.1">Greece</text><text transform="translate(1670.5,429.7) scale(0.8,1)" font-size="24.1">Türkiye</text><text transform="translate(1885.5,362.2) scale(0.8,1)" font-size="23.7">Kazakhstan</text><text transform="translate(1844.2,429.3) scale(0.8,1)" font-size="24.1">Turkmenistan</text><text transform="translate(1487.9,464.2) scale(0.8,1)" font-size="24.3">Tunisia</text><text transform="translate(1372.5,476.6) scale(0.8,1)" font-size="24.3">Morocco</text><text transform="translate(1738.8,471.6) scale(0.8,1)" font-size="24.3">Iraq</text><text transform="translate(1820.0,474.8) scale(0.8,1)" font-size="24.3">Iran</text><text transform="translate(1904.3,467.3) scale(0.8,1)" font-size="24.3">Afghanistan</text><text transform="translate(1927.5,505.5) scale(0.8,1)" font-size="24.5">Pakistan</text><text transform="translate(1555.5,512.7) scale(0.8,1)" font-size="24.5">Libya</text><text transform="translate(1645.5,516.6) scale(0.8,1)" font-size="24.6">Egypt</text><text transform="translate(1761.0,536.4) scale(0.8,1)" font-size="24.7">Saudi Arabia</text><text transform="translate(1862.4,550.4) scale(0.8,1)" font-size="24.8">Oman</text><text transform="translate(1340.8,560.9) scale(0.8,1)" font-size="24.8">Mauritania</text><text transform="translate(1495.6,576.7) scale(0.8,1)" font-size="24.9">Niger</text><text transform="translate(1569.3,589.5) scale(0.8,1)" font-size="25.0">Chad</text><text transform="translate(1660.2,599.4) scale(0.8,1)" font-size="25.0">Sudan</text><text transform="translate(1795.4,586.6) scale(0.8,1)" font-size="25.0">Yemen</text><text transform="translate(1741.3,634.9) scale(0.8,1)" font-size="25.2">Ethiopia</text><text transform="translate(1526.0,660.9) scale(0.8,1)" font-size="25.4">Cameroon</text><text transform="translate(1738.9,691.5) scale(0.8,1)" font-size="25.5">Kenya</text><text transform="translate(1722.6,739.2) scale(0.8,1)" font-size="25.8">Tanzania</text><text transform="translate(1586.5,782.5) scale(0.8,1)" font-size="26.0">Angola</text><text transform="translate(1738.9,830.3) scale(0.8,1)" font-size="26.3">Mozambique</text><text transform="translate(1590.0,856.4) scale(0.8,1)" font-size="26.4">Namibia</text><text transform="translate(1656.8,921.4) scale(0.8,1)" font-size="26.8">South Africa</text><text transform="translate(2044.6,243.2) scale(0.8,1)" font-size="23.1">Russia</text><text transform="translate(2166.2,455.4) scale(0.8,1)" font-size="24.2">China</text><text transform="translate(2106.8,530.5) scale(0.8,1)" font-size="24.6">Bangladesh</text><text transform="translate(2214.4,559.7) scale(0.8,1)" font-size="24.8">Laos</text><text transform="translate(2435.2,448.7) scale(0.8,1)" font-size="24.2">Japan</text><text transform="translate(2254.7,610.3) scale(0.8,1)" font-size="25.1">Cambodia</text><text transform="translate(2397.2,613.9) scale(0.8,1)" font-size="25.1">Philippines</text><text transform="translate(2254.2,663.6) scale(0.8,1)" font-size="25.4">Malaysia</text><text transform="translate(2023.2,671.6) scale(0.8,1)" font-size="25.4">Maldives</text><text transform="translate(2398.5,710.6) scale(0.8,1)" font-size="25.6">Indonesia</text></g><g fill="#000" fill-opacity=".12" stroke="#000" stroke-opacity=".1" stroke-width="1.2"><text transform="translate(669.2,372.0) scale(0.8,1)" font-size="27.3" letter-spacing="2.7">NORTH</text><text transform="translate(669.2,401.3) scale(0.8,1)" font-size="27.5" letter-spacing="2.7">AMERICA</text><text transform="translate(948.0,785.5) scale(0.8,1)" font-size="29.9" letter-spacing="3.0">SOUTH</text><text transform="translate(948.0,816.1) scale(0.8,1)" font-size="30.1" letter-spacing="3.0">AMERICA</text><text transform="translate(1543.4,352.0) scale(0.8,1)" font-size="27.2" letter-spacing="2.7">EUROPE</text><text transform="translate(1638.1,655.8) scale(0.8,1)" font-size="29.1" letter-spacing="2.9">AFRICA</text><text transform="translate(2076.8,360.9) scale(0.8,1)" font-size="27.2" letter-spacing="2.7">ASIA</text><text transform="translate(2609.5,873.8) scale(0.8,1)" font-size="30.5" letter-spacing="3.0">AUSTRALIA</text></g><g mask="url(#mk)"><g fill="#9f9f9f" font-style="italic"><text transform="translate(520.6,51.8) rotate(-13.5) translate(0,8.2) scale(0.8,1)" font-size="23.1" letter-spacing="9.2">Arctic Ocean</text><text transform="translate(226.0,406.9) rotate(0) translate(0,8.9) scale(0.8,1)" font-size="25.2" letter-spacing="10.1">North</text><text transform="translate(226.0,441.2) rotate(0) translate(0,9.0) scale(0.8,1)" font-size="25.4" letter-spacing="10.1">Pacific</text><text transform="translate(226.0,476.0) rotate(0) translate(0,9.1) scale(0.8,1)" font-size="25.6" letter-spacing="10.2">Ocean</text><text transform="translate(1150.9,377.2) rotate(0) translate(0,8.9) scale(0.8,1)" font-size="25.0" letter-spacing="10.0">North</text><text transform="translate(1150.9,410.5) rotate(0) translate(0,8.9) scale(0.8,1)" font-size="25.2" letter-spacing="10.1">Atlantic</text><text transform="translate(1150.9,443.8) rotate(0) translate(0,9.0) scale(0.8,1)" font-size="25.4" letter-spacing="10.2">Ocean</text><text transform="translate(1308.8,875.0) rotate(0) translate(0,9.9) scale(0.8,1)" font-size="27.9" letter-spacing="11.2">South</text><text transform="translate(1308.8,913.4) rotate(0) translate(0,10.0) scale(0.8,1)" font-size="28.1" letter-spacing="11.2">Atlantic</text><text transform="translate(1308.8,951.7) rotate(0) translate(0,10.1) scale(0.8,1)" font-size="28.3" letter-spacing="11.3">Ocean</text><text transform="translate(2142.4,846.8) rotate(0) translate(0,9.8) scale(0.8,1)" font-size="27.7" letter-spacing="11.1">Indian</text><text transform="translate(2142.4,884.1) rotate(0) translate(0,9.9) scale(0.8,1)" font-size="27.9" letter-spacing="11.2">Ocean</text></g><g fill="#bdbdbd" stroke="#bdbdbd" stroke-width=".5"><text transform="translate(669.2,372.0) scale(0.8,1)" font-size="27.3" letter-spacing="2.7">NORTH</text><text transform="translate(669.2,401.3) scale(0.8,1)" font-size="27.5" letter-spacing="2.7">AMERICA</text><text transform="translate(948.0,785.5) scale(0.8,1)" font-size="29.9" letter-spacing="3.0">SOUTH</text><text transform="translate(948.0,816.1) scale(0.8,1)" font-size="30.1" letter-spacing="3.0">AMERICA</text><text transform="translate(1543.4,352.0) scale(0.8,1)" font-size="27.2" letter-spacing="2.7">EUROPE</text><text transform="translate(1638.1,655.8) scale(0.8,1)" font-size="29.1" letter-spacing="2.9">AFRICA</text><text transform="translate(2076.8,360.9) scale(0.8,1)" font-size="27.2" letter-spacing="2.7">ASIA</text><text transform="translate(2609.5,873.8) scale(0.8,1)" font-size="30.5" letter-spacing="3.0">AUSTRALIA</text></g><g fill="#6f6f6f" stroke="#fff" stroke-width="5" stroke-linejoin="round" paint-order="stroke"><text transform="translate(1141.7,93.5) scale(0.8,1)" font-size="22.2">Greenland</text><text transform="translate(684.6,301.9) scale(0.8,1)" font-size="23.4">Canada</text><text transform="translate(638.0,533.1) scale(0.8,1)" font-size="24.7">Mexico</text><text transform="translate(811.6,546.6) scale(0.8,1)" font-size="24.7">Cuba</text><text transform="translate(833.2,672.3) scale(0.8,1)" font-size="25.4">Colombia</text><text transform="translate(798.0,767.7) scale(0.8,1)" font-size="25.9">Peru</text><text transform="translate(925.6,874.4) scale(0.8,1)" font-size="26.5">Paraguay</text><text transform="translate(819.0,904.9) scale(0.8,1)" font-size="26.7">Chile</text><text transform="translate(934.0,965.1) scale(0.8,1)" font-size="27.0">Uruguay</text><text transform="translate(855.2,1002.2) scale(0.8,1)" font-size="27.2">Argentina</text><text transform="translate(1511.0,27.0) scale(0.8,1)" font-size="21.9">Svalbard</text><text transform="translate(1280.2,212.0) scale(0.8,1)" font-size="22.9">Iceland</text><text transform="translate(1517.4,213.1) scale(0.8,1)" font-size="22.9">Sweden</text><text transform="translate(1462.6,250.8) scale(0.8,1)" font-size="23.1">Norway</text><text transform="translate(1391.9,301.2) scale(0.8,1)" font-size="23.4">United</text><text transform="translate(1391.9,325.3) scale(0.8,1)" font-size="23.5">Kingdom</text><text transform="translate(1429.9,364.9) scale(0.8,1)" font-size="23.7">France</text><text transform="translate(1504.1,405.2) scale(0.8,1)" font-size="24.0">Italy</text><text transform="translate(1384.3,413.8) scale(0.8,1)" font-size="24.0">Spain</text><text transform="translate(1586.0,432.9) scale(0.8,1)" font-size="24.1">Greece</text><text transform="translate(1670.5,429.7) scale(0.8,1)" font-size="24.1">Türkiye</text><text transform="translate(1885.5,362.2) scale(0.8,1)" font-size="23.7">Kazakhstan</text><text transform="translate(1844.2,429.3) scale(0.8,1)" font-size="24.1">Turkmenistan</text><text transform="translate(1487.9,464.2) scale(0.8,1)" font-size="24.3">Tunisia</text><text transform="translate(1372.5,476.6) scale(0.8,1)" font-size="24.3">Morocco</text><text transform="translate(1738.8,471.6) scale(0.8,1)" font-size="24.3">Iraq</text><text transform="translate(1820.0,474.8) scale(0.8,1)" font-size="24.3">Iran</text><text transform="translate(1904.3,467.3) scale(0.8,1)" font-size="24.3">Afghanistan</text><text transform="translate(1927.5,505.5) scale(0.8,1)" font-size="24.5">Pakistan</text><text transform="translate(1555.5,512.7) scale(0.8,1)" font-size="24.5">Libya</text><text transform="translate(1645.5,516.6) scale(0.8,1)" font-size="24.6">Egypt</text><text transform="translate(1761.0,536.4) scale(0.8,1)" font-size="24.7">Saudi Arabia</text><text transform="translate(1862.4,550.4) scale(0.8,1)" font-size="24.8">Oman</text><text transform="translate(1340.8,560.9) scale(0.8,1)" font-size="24.8">Mauritania</text><text transform="translate(1495.6,576.7) scale(0.8,1)" font-size="24.9">Niger</text><text transform="translate(1569.3,589.5) scale(0.8,1)" font-size="25.0">Chad</text><text transform="translate(1660.2,599.4) scale(0.8,1)" font-size="25.0">Sudan</text><text transform="translate(1795.4,586.6) scale(0.8,1)" font-size="25.0">Yemen</text><text transform="translate(1741.3,634.9) scale(0.8,1)" font-size="25.2">Ethiopia</text><text transform="translate(1526.0,660.9) scale(0.8,1)" font-size="25.4">Cameroon</text><text transform="translate(1738.9,691.5) scale(0.8,1)" font-size="25.5">Kenya</text><text transform="translate(1722.6,739.2) scale(0.8,1)" font-size="25.8">Tanzania</text><text transform="translate(1586.5,782.5) scale(0.8,1)" font-size="26.0">Angola</text><text transform="translate(1738.9,830.3) scale(0.8,1)" font-size="26.3">Mozambique</text><text transform="translate(1590.0,856.4) scale(0.8,1)" font-size="26.4">Namibia</text><text transform="translate(1656.8,921.4) scale(0.8,1)" font-size="26.8">South Africa</text><text transform="translate(2044.6,243.2) scale(0.8,1)" font-size="23.1">Russia</text><text transform="translate(2166.2,455.4) scale(0.8,1)" font-size="24.2">China</text><text transform="translate(2106.8,530.5) scale(0.8,1)" font-size="24.6">Bangladesh</text><text transform="translate(2214.4,559.7) scale(0.8,1)" font-size="24.8">Laos</text><text transform="translate(2435.2,448.7) scale(0.8,1)" font-size="24.2">Japan</text><text transform="translate(2254.7,610.3) scale(0.8,1)" font-size="25.1">Cambodia</text><text transform="translate(2397.2,613.9) scale(0.8,1)" font-size="25.1">Philippines</text><text transform="translate(2254.2,663.6) scale(0.8,1)" font-size="25.4">Malaysia</text><text transform="translate(2023.2,671.6) scale(0.8,1)" font-size="25.4">Maldives</text><text transform="translate(2398.5,710.6) scale(0.8,1)" font-size="25.6">Indonesia</text></g><g fill="#6c6c6c" stroke="#6c6c6c" stroke-width="1"><text transform="translate(1141.7,93.5) scale(0.8,1)" font-size="22.2">Greenland</text><text transform="translate(684.6,301.9) scale(0.8,1)" font-size="23.4">Canada</text><text transform="translate(638.0,533.1) scale(0.8,1)" font-size="24.7">Mexico</text><text transform="translate(811.6,546.6) scale(0.8,1)" font-size="24.7">Cuba</text><text transform="translate(833.2,672.3) scale(0.8,1)" font-size="25.4">Colombia</text><text transform="translate(798.0,767.7) scale(0.8,1)" font-size="25.9">Peru</text><text transform="translate(925.6,874.4) scale(0.8,1)" font-size="26.5">Paraguay</text><text transform="translate(819.0,904.9) scale(0.8,1)" font-size="26.7">Chile</text><text transform="translate(934.0,965.1) scale(0.8,1)" font-size="27.0">Uruguay</text><text transform="translate(855.2,1002.2) scale(0.8,1)" font-size="27.2">Argentina</text><text transform="translate(1511.0,27.0) scale(0.8,1)" font-size="21.9">Svalbard</text><text transform="translate(1280.2,212.0) scale(0.8,1)" font-size="22.9">Iceland</text><text transform="translate(1517.4,213.1) scale(0.8,1)" font-size="22.9">Sweden</text><text transform="translate(1462.6,250.8) scale(0.8,1)" font-size="23.1">Norway</text><text transform="translate(1391.9,301.2) scale(0.8,1)" font-size="23.4">United</text><text transform="translate(1391.9,325.3) scale(0.8,1)" font-size="23.5">Kingdom</text><text transform="translate(1429.9,364.9) scale(0.8,1)" font-size="23.7">France</text><text transform="translate(1504.1,405.2) scale(0.8,1)" font-size="24.0">Italy</text><text transform="translate(1384.3,413.8) scale(0.8,1)" font-size="24.0">Spain</text><text transform="translate(1586.0,432.9) scale(0.8,1)" font-size="24.1">Greece</text><text transform="translate(1670.5,429.7) scale(0.8,1)" font-size="24.1">Türkiye</text><text transform="translate(1885.5,362.2) scale(0.8,1)" font-size="23.7">Kazakhstan</text><text transform="translate(1844.2,429.3) scale(0.8,1)" font-size="24.1">Turkmenistan</text><text transform="translate(1487.9,464.2) scale(0.8,1)" font-size="24.3">Tunisia</text><text transform="translate(1372.5,476.6) scale(0.8,1)" font-size="24.3">Morocco</text><text transform="translate(1738.8,471.6) scale(0.8,1)" font-size="24.3">Iraq</text><text transform="translate(1820.0,474.8) scale(0.8,1)" font-size="24.3">Iran</text><text transform="translate(1904.3,467.3) scale(0.8,1)" font-size="24.3">Afghanistan</text><text transform="translate(1927.5,505.5) scale(0.8,1)" font-size="24.5">Pakistan</text><text transform="translate(1555.5,512.7) scale(0.8,1)" font-size="24.5">Libya</text><text transform="translate(1645.5,516.6) scale(0.8,1)" font-size="24.6">Egypt</text><text transform="translate(1761.0,536.4) scale(0.8,1)" font-size="24.7">Saudi Arabia</text><text transform="translate(1862.4,550.4) scale(0.8,1)" font-size="24.8">Oman</text><text transform="translate(1340.8,560.9) scale(0.8,1)" font-size="24.8">Mauritania</text><text transform="translate(1495.6,576.7) scale(0.8,1)" font-size="24.9">Niger</text><text transform="translate(1569.3,589.5) scale(0.8,1)" font-size="25.0">Chad</text><text transform="translate(1660.2,599.4) scale(0.8,1)" font-size="25.0">Sudan</text><text transform="translate(1795.4,586.6) scale(0.8,1)" font-size="25.0">Yemen</text><text transform="translate(1741.3,634.9) scale(0.8,1)" font-size="25.2">Ethiopia</text><text transform="translate(1526.0,660.9) scale(0.8,1)" font-size="25.4">Cameroon</text><text transform="translate(1738.9,691.5) scale(0.8,1)" font-size="25.5">Kenya</text><text transform="translate(1722.6,739.2) scale(0.8,1)" font-size="25.8">Tanzania</text><text transform="translate(1586.5,782.5) scale(0.8,1)" font-size="26.0">Angola</text><text transform="translate(1738.9,830.3) scale(0.8,1)" font-size="26.3">Mozambique</text><text transform="translate(1590.0,856.4) scale(0.8,1)" font-size="26.4">Namibia</text><text transform="translate(1656.8,921.4) scale(0.8,1)" font-size="26.8">South Africa</text><text transform="translate(2044.6,243.2) scale(0.8,1)" font-size="23.1">Russia</text><text transform="translate(2166.2,455.4) scale(0.8,1)" font-size="24.2">China</text><text transform="translate(2106.8,530.5) scale(0.8,1)" font-size="24.6">Bangladesh</text><text transform="translate(2214.4,559.7) scale(0.8,1)" font-size="24.8">Laos</text><text transform="translate(2435.2,448.7) scale(0.8,1)" font-size="24.2">Japan</text><text transform="translate(2254.7,610.3) scale(0.8,1)" font-size="25.1">Cambodia</text><text transform="translate(2397.2,613.9) scale(0.8,1)" font-size="25.1">Philippines</text><text transform="translate(2254.2,663.6) scale(0.8,1)" font-size="25.4">Malaysia</text><text transform="translate(2023.2,671.6) scale(0.8,1)" font-size="25.4">Maldives</text><text transform="translate(2398.5,710.6) scale(0.8,1)" font-size="25.6">Indonesia</text></g></g></g></svg>
</div>
<!-- mapbox +/- -->
<div class="abs" style="left:960px;top:701px;width:58px;height:116px;border-radius:9px;background:#fff;box-shadow:0 0 0 4px rgba(0,0,0,.1)"></div>
<div class="abs" style="left:960px;top:760px;width:58px;height:2px;background:#ddd"></div>
<svg style="left:960px;top:701px" width="58" height="116" viewBox="0 0 58 116" stroke="#333" stroke-width="6" stroke-linecap="round"><path d="M19.5 30.5h19M29 21v19M19.5 88.5h19"/></svg>
<!-- right panels -->
<div class="abs" style="left:3204px;top:714px;width:292px;height:156px;border-radius:26px;background:linear-gradient(172deg,#fbfbfb 0%,#f8f9f9 42%,#e6edf0 100%);box-shadow:0 0 0 1.5px rgba(238,241,241,.9),0 4px 10px rgba(0,0,0,.05)"></div>
<svg style="left:3229px;top:740px" width="32" height="32" viewBox="0 0 24 24" fill="none" stroke="#0a0a0a" stroke-width="2" stroke-linecap="round" stroke-linejoin="round"><circle cx="11" cy="11" r="8"/><path d="m21 21-4.3-4.3M11 8v6M8 11h6"/></svg>
<svg style="left:3229px;top:812px" width="32" height="32" viewBox="0 0 24 24" fill="none" stroke="#0a0a0a" stroke-width="2" stroke-linecap="round" stroke-linejoin="round"><circle cx="11" cy="11" r="8"/><path d="m21 21-4.3-4.3M8 11h6"/></svg>
<div class="abs" style="left:3204px;top:886px;width:292px;height:107px;border-radius:26px;background:linear-gradient(175deg,#e3ebee 0%,#ecf1f2 60%,#f6f7f7 100%);box-shadow:0 0 0 1.5px rgba(238,241,241,.9),0 4px 10px rgba(0,0,0,.05)"></div>
<div class="abs" style="left:3222px;top:905px;width:256px;height:71px;border-radius:20px;background:linear-gradient(175deg,#e6eef1,#f7f8f8);border:2px solid #f0f3f4;box-shadow:0 3px 5px rgba(0,0,0,.04)"></div>
<svg style="left:3247px;top:923px" width="34" height="34" viewBox="0 0 24 24" fill="none" stroke="#777" stroke-width="1.8" stroke-linecap="round" stroke-linejoin="round"><circle cx="13.5" cy="6.5" r=".6" fill="#777"/><circle cx="17.5" cy="10.5" r=".6" fill="#777"/><circle cx="8.5" cy="7.5" r=".6" fill="#777"/><circle cx="6.5" cy="12.5" r=".6" fill="#777"/><path d="M12 2C6.5 2 2 6.5 2 12s4.5 10 10 10c.93 0 1.65-.75 1.65-1.69 0-.44-.18-.83-.44-1.12-.29-.29-.44-.65-.44-1.13a1.64 1.64 0 0 1 1.67-1.67h2c3.05 0 5.55-2.5 5.55-5.55C21.97 6.01 17.46 2 12 2z"/></svg>
<div class="t" id="t_vir" style="left:3315px;top:925px;font-size:29px;letter-spacing:-.15px">Viridis</div>
<svg style="left:3420px;top:924px" width="32" height="32" viewBox="0 0 24 24" fill="none" stroke="#9a9a9a" stroke-width="2" stroke-linecap="round" stroke-linejoin="round"><path d="m6 9.5 6 6 6-6"/></svg>
<!-- scale -->
<div class="abs" style="left:960px;top:1718px;width:148px;height:45px;background:rgba(255,255,255,.75);border:4px solid #333;border-top:none"></div>
<!-- legend -->
<div class="abs" style="left:973px;top:1458px;width:214px;height:292px;border-radius:24px;background:#fcfdfd;border:2px solid #ebebeb;box-shadow:0 10px 24px rgba(0,0,0,.10)"></div>
<div class="t" id="t_leg" style="left:998px;top:1489px;font-size:25px;letter-spacing:.75px">Importations</div>
<div class="abs" style="left:998px;top:1536px;width:32px;height:24px;border-radius:12px;background:#a3d246;border:2px solid #b7e070"></div>
<div class="t mono" style="left:1046px;top:1536px;font-size:23.6px;color:#787878">2.6Md €</div>
<div class="abs" style="left:998px;top:1576px;width:32px;height:24px;border-radius:12px;background:#a3d246;border:2px solid #b7e070"></div>
<div class="t mono" style="left:1046px;top:1576px;font-size:23.6px;color:#787878">1.9Md €</div>
<div class="abs" style="left:998px;top:1616px;width:32px;height:24px;border-radius:12px;background:#a3d246;border:2px solid #b7e070"></div>
<div class="t mono" style="left:1046px;top:1616px;font-size:23.6px;color:#787878">1.3Md €</div>
<div class="abs" style="left:998px;top:1656px;width:32px;height:24px;border-radius:12px;background:#a3d246;border:2px solid #b7e070"></div>
<div class="t mono" style="left:1046px;top:1656px;font-size:23.6px;color:#787878">644.0M €</div>
<div class="abs" style="left:998px;top:1696px;width:32px;height:24px;border-radius:12px;background:#4c1a68;border:2px solid #6a4585"></div>
<div class="t mono" style="left:1046px;top:1696px;font-size:23.6px;color:#787878">0 €</div>
<!-- mapbox logo -->
<svg style="left:3330px;top:1722px" width="190" height="50" viewBox="0 0 190 50"><circle cx="24.7" cy="25" r="19" fill="#fafafa" stroke="#9c9c9c" stroke-width="3.2"/><path d="M17 33.5c-1.5-9 2-16.5 9.5-17.5 6.5-.8 10.5 4.5 8.5 10.500-2 5.500-9.500 8-18 7z" fill="#9c9c9c"/><path d="M26.800 19.800l1.500 3.500 3.500 1.500-3.500 1.500-1.500 3.500-1.500-3.500-3.500-1.500 3.500-1.500z" fill="#fafafa"/><text x="51" y="36.500" font-family="Liberation Sans, sans-serif" font-weight="700" font-size="33" letter-spacing="-1" fill="#fafafa" stroke="#9c9c9c" stroke-width="5" stroke-linejoin="round" paint-order="stroke">mapbox</text></svg>

</body></html>
